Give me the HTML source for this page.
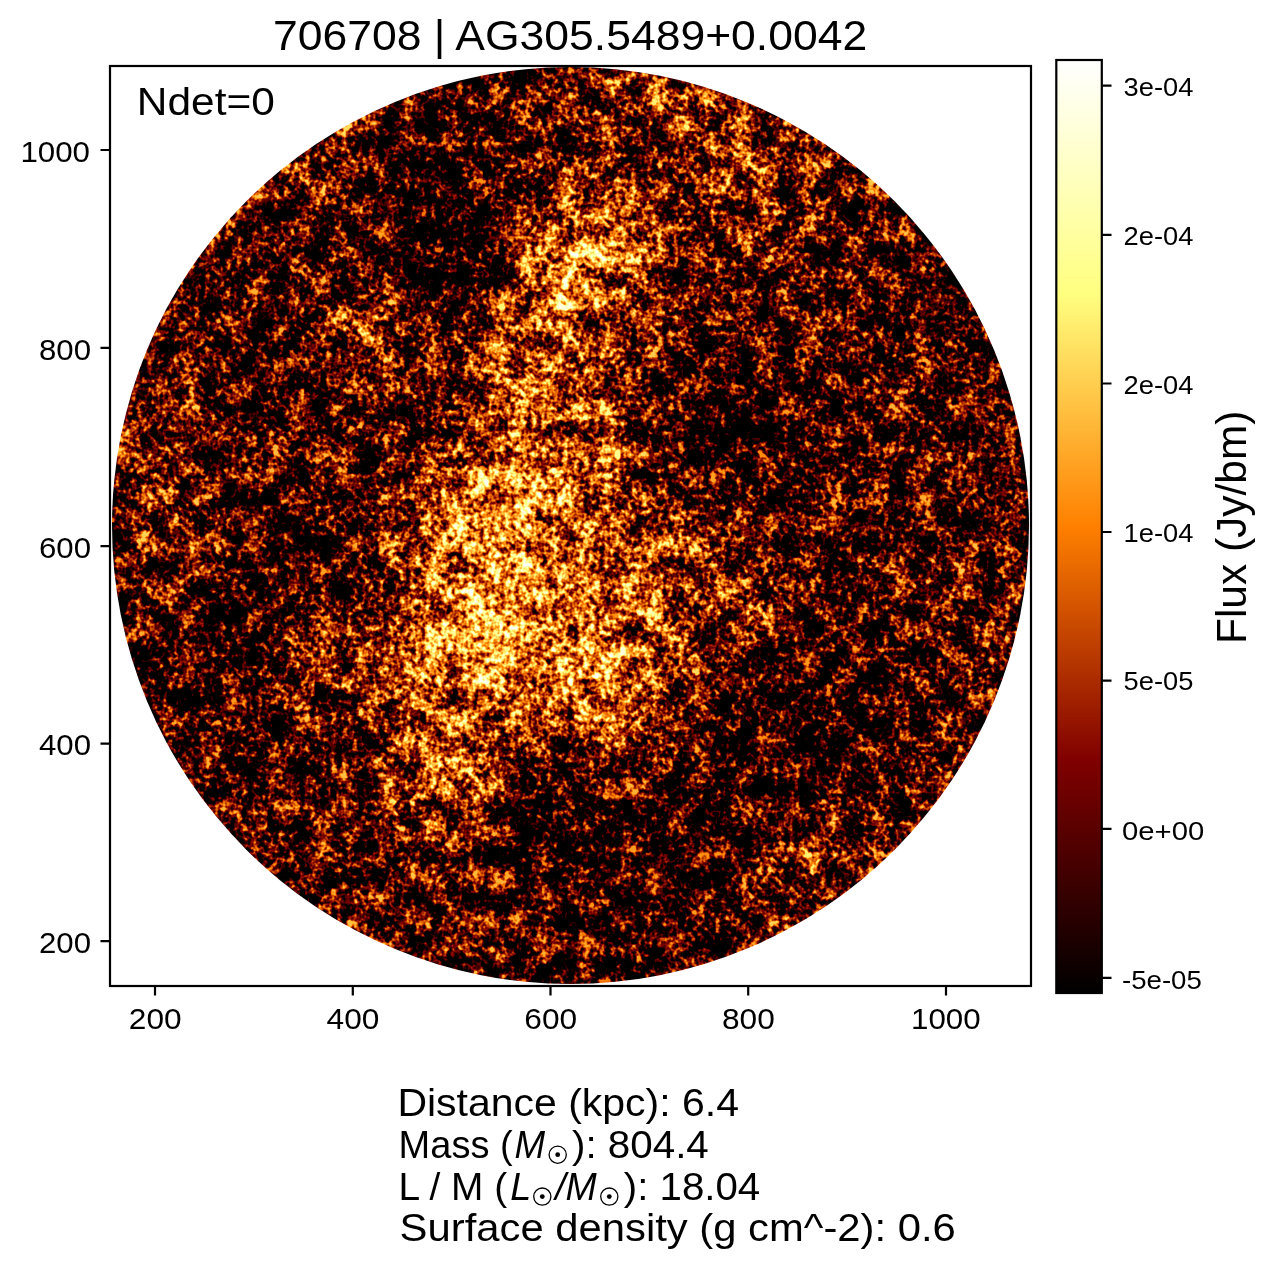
<!DOCTYPE html><html><head><meta charset="utf-8"><style>html,body{margin:0;padding:0;background:#fff;overflow:hidden}svg{display:block;will-change:transform}</style></head><body><svg width="1274" height="1267" viewBox="0 0 1274 1267" font-family='"Liberation Sans", sans-serif'><rect width="1274" height="1267" fill="#fff"/><defs><clipPath id="cc"><circle cx="570.5" cy="525.5" r="458.5"/></clipPath><linearGradient id="cb" x1="0" y1="1" x2="0" y2="0"><stop offset="0" stop-color="#000"/><stop offset="0.25" stop-color="#800000"/><stop offset="0.5" stop-color="#ff8000"/><stop offset="0.75" stop-color="#ffff80"/><stop offset="1" stop-color="#fff"/></linearGradient></defs><defs><filter id="imf" x="112" y="67" width="917" height="917" filterUnits="userSpaceOnUse" color-interpolation-filters="sRGB">
<feGaussianBlur in="SourceGraphic" stdDeviation="6.0" edgeMode="duplicate" result="b"/>
<feTurbulence type="fractalNoise" baseFrequency="0.19" numOctaves="2" seed="3" result="n1"/>
<feColorMatrix in="n1" type="matrix" values="1 0 0 0 0 1 0 0 0 0 1 0 0 0 0 0 0 0 0 1" result="n1g"/>
<feTurbulence type="fractalNoise" baseFrequency="0.045" numOctaves="2" seed="7" result="n2"/>
<feColorMatrix in="n2" type="matrix" values="1 0 0 0 0 1 0 0 0 0 1 0 0 0 0 0 0 0 0 1" result="n2g"/>
<feComposite in="n1g" in2="n2g" operator="arithmetic" k2="1.4" k3="1.2" k4="-0.8000" result="t"/>
<feComposite in="b" in2="t" operator="arithmetic" k2="1.2000" k3="1" k4="-0.8000" result="v"/>
<feComponentTransfer in="v"><feFuncR type="table" tableValues="0 1 1"/><feFuncG type="table" tableValues="0 0 0.5 1 1"/><feFuncB type="table" tableValues="0 0 1"/><feFuncA type="linear" slope="0" intercept="1"/></feComponentTransfer>
</filter></defs><g clip-path="url(#cc)"><g filter="url(#imf)"><path fill="rgb(55,55,55)" d="M441.5 224.6h14.7v14.7h-14.7z"/><path fill="rgb(56,56,56)" d="M427.2 210.3h14.7v14.7h-14.7zM441.5 210.3h14.7v14.7h-14.7zM427.2 224.6h14.7v14.7h-14.7zM441.5 238.9h14.7v14.7h-14.7zM455.9 238.9h14.7v14.7h-14.7zM455.9 253.3h14.7v14.7h-14.7z"/><path fill="rgb(57,57,57)" d="M427.2 196.0h14.7v14.7h-14.7zM441.5 196.0h14.7v14.7h-14.7zM455.9 224.6h14.7v14.7h-14.7zM441.5 253.3h14.7v14.7h-14.7z"/><path fill="rgb(58,58,58)" d="M455.9 210.3h14.7v14.7h-14.7zM427.2 238.9h14.7v14.7h-14.7z"/><path fill="rgb(59,59,59)" d="M427.2 181.6h14.7v14.7h-14.7zM441.5 181.6h14.7v14.7h-14.7zM455.9 267.6h14.7v14.7h-14.7z"/><path fill="rgb(60,60,60)" d="M455.9 196.0h14.7v14.7h-14.7zM412.9 210.3h14.7v14.7h-14.7zM412.9 224.6h14.7v14.7h-14.7zM470.2 238.9h14.7v14.7h-14.7zM427.2 253.3h14.7v14.7h-14.7zM470.2 253.3h14.7v14.7h-14.7zM441.5 267.6h14.7v14.7h-14.7zM713.8 410.9h14.7v14.7h-14.7zM713.8 425.2h14.7v14.7h-14.7zM541.8 797.7h14.7v14.7h-14.7z"/><path fill="rgb(61,61,61)" d="M427.2 167.3h14.7v14.7h-14.7zM412.9 196.0h14.7v14.7h-14.7zM412.9 238.9h14.7v14.7h-14.7zM713.8 396.5h14.7v14.7h-14.7zM728.1 425.2h14.7v14.7h-14.7zM541.8 812.1h14.7v14.7h-14.7z"/><path fill="rgb(62,62,62)" d="M441.5 167.3h14.7v14.7h-14.7zM455.9 181.6h14.7v14.7h-14.7zM470.2 224.6h14.7v14.7h-14.7zM427.2 267.6h14.7v14.7h-14.7zM699.5 410.9h14.7v14.7h-14.7zM728.1 410.9h14.7v14.7h-14.7zM799.8 726.1h14.7v14.7h-14.7zM541.8 783.4h14.7v14.7h-14.7z"/><path fill="rgb(63,63,63)" d="M427.2 153.0h14.7v14.7h-14.7zM412.9 181.6h14.7v14.7h-14.7zM470.2 210.3h14.7v14.7h-14.7zM412.9 253.3h14.7v14.7h-14.7zM699.5 396.5h14.7v14.7h-14.7zM728.1 396.5h14.7v14.7h-14.7zM699.5 425.2h14.7v14.7h-14.7zM799.8 711.8h14.7v14.7h-14.7zM814.1 711.8h14.7v14.7h-14.7zM814.1 726.1h14.7v14.7h-14.7zM556.2 797.7h14.7v14.7h-14.7zM556.2 812.1h14.7v14.7h-14.7zM541.8 826.4h14.7v14.7h-14.7z"/><path fill="rgb(64,64,64)" d="M412.9 167.3h14.7v14.7h-14.7zM470.2 267.6h14.7v14.7h-14.7zM713.8 382.2h14.7v14.7h-14.7zM742.4 425.2h14.7v14.7h-14.7zM713.8 439.5h14.7v14.7h-14.7zM728.1 439.5h14.7v14.7h-14.7zM785.4 711.8h14.7v14.7h-14.7zM785.4 726.1h14.7v14.7h-14.7zM799.8 740.4h14.7v14.7h-14.7zM814.1 740.4h14.7v14.7h-14.7zM527.5 797.7h14.7v14.7h-14.7zM527.5 812.1h14.7v14.7h-14.7z"/><path fill="rgb(65,65,65)" d="M441.5 153.0h14.7v14.7h-14.7zM455.9 167.3h14.7v14.7h-14.7zM470.2 196.0h14.7v14.7h-14.7zM441.5 281.9h14.7v14.7h-14.7zM699.5 382.2h14.7v14.7h-14.7zM742.4 410.9h14.7v14.7h-14.7zM828.4 711.8h14.7v14.7h-14.7zM828.4 726.1h14.7v14.7h-14.7zM785.4 740.4h14.7v14.7h-14.7zM556.2 783.4h14.7v14.7h-14.7zM527.5 826.4h14.7v14.7h-14.7zM556.2 826.4h14.7v14.7h-14.7z"/><path fill="rgb(66,66,66)" d="M412.9 153.0h14.7v14.7h-14.7zM398.6 224.6h14.7v14.7h-14.7zM398.6 238.9h14.7v14.7h-14.7zM412.9 267.6h14.7v14.7h-14.7zM427.2 281.9h14.7v14.7h-14.7zM728.1 382.2h14.7v14.7h-14.7zM699.5 439.5h14.7v14.7h-14.7zM742.4 439.5h14.7v14.7h-14.7zM799.8 697.4h14.7v14.7h-14.7zM814.1 697.4h14.7v14.7h-14.7zM771.1 711.8h14.7v14.7h-14.7zM771.1 726.1h14.7v14.7h-14.7zM771.1 740.4h14.7v14.7h-14.7zM541.8 840.7h14.7v14.7h-14.7z"/><path fill="rgb(67,67,67)" d="M427.2 138.6h14.7v14.7h-14.7zM398.6 253.3h14.7v14.7h-14.7zM455.9 281.9h14.7v14.7h-14.7zM756.8 425.2h14.7v14.7h-14.7zM226.6 625.8h14.7v14.7h-14.7zM226.6 640.1h14.7v14.7h-14.7zM785.4 697.4h14.7v14.7h-14.7zM828.4 697.4h14.7v14.7h-14.7zM828.4 740.4h14.7v14.7h-14.7zM785.4 754.8h14.7v14.7h-14.7zM799.8 754.8h14.7v14.7h-14.7zM527.5 783.4h14.7v14.7h-14.7z"/><path fill="rgb(68,68,68)" d="M470.2 181.6h14.7v14.7h-14.7zM398.6 210.3h14.7v14.7h-14.7zM713.8 367.9h14.7v14.7h-14.7zM685.1 396.5h14.7v14.7h-14.7zM742.4 396.5h14.7v14.7h-14.7zM685.1 410.9h14.7v14.7h-14.7zM756.8 439.5h14.7v14.7h-14.7zM212.3 625.8h14.7v14.7h-14.7zM212.3 640.1h14.7v14.7h-14.7zM771.1 697.4h14.7v14.7h-14.7zM756.8 726.1h14.7v14.7h-14.7zM756.8 740.4h14.7v14.7h-14.7zM771.1 754.8h14.7v14.7h-14.7zM814.1 754.8h14.7v14.7h-14.7zM541.8 769.1h14.7v14.7h-14.7zM570.5 797.7h14.7v14.7h-14.7zM570.5 812.1h14.7v14.7h-14.7zM527.5 840.7h14.7v14.7h-14.7zM556.2 840.7h14.7v14.7h-14.7z"/><path fill="rgb(69,69,69)" d="M441.5 138.6h14.7v14.7h-14.7zM455.9 153.0h14.7v14.7h-14.7zM398.6 196.0h14.7v14.7h-14.7zM699.5 367.9h14.7v14.7h-14.7zM756.8 410.9h14.7v14.7h-14.7zM685.1 425.2h14.7v14.7h-14.7zM713.8 453.9h14.7v14.7h-14.7zM728.1 453.9h14.7v14.7h-14.7zM212.3 654.5h14.7v14.7h-14.7zM226.6 654.5h14.7v14.7h-14.7zM799.8 683.1h14.7v14.7h-14.7zM814.1 683.1h14.7v14.7h-14.7zM756.8 711.8h14.7v14.7h-14.7zM842.7 711.8h14.7v14.7h-14.7zM842.7 726.1h14.7v14.7h-14.7zM756.8 754.8h14.7v14.7h-14.7zM570.5 826.4h14.7v14.7h-14.7z"/><path fill="rgb(70,70,70)" d="M412.9 138.6h14.7v14.7h-14.7zM728.1 367.9h14.7v14.7h-14.7zM685.1 382.2h14.7v14.7h-14.7zM742.4 453.9h14.7v14.7h-14.7zM226.6 611.5h14.7v14.7h-14.7zM241.0 625.8h14.7v14.7h-14.7zM241.0 640.1h14.7v14.7h-14.7zM785.4 683.1h14.7v14.7h-14.7zM742.4 726.1h14.7v14.7h-14.7zM742.4 740.4h14.7v14.7h-14.7zM742.4 754.8h14.7v14.7h-14.7zM828.4 754.8h14.7v14.7h-14.7zM570.5 840.7h14.7v14.7h-14.7z"/><path fill="rgb(71,71,71)" d="M470.2 167.3h14.7v14.7h-14.7zM398.6 181.6h14.7v14.7h-14.7zM384.2 238.9h14.7v14.7h-14.7zM384.2 253.3h14.7v14.7h-14.7zM398.6 267.6h14.7v14.7h-14.7zM412.9 281.9h14.7v14.7h-14.7zM742.4 382.2h14.7v14.7h-14.7zM771.1 425.2h14.7v14.7h-14.7zM771.1 439.5h14.7v14.7h-14.7zM212.3 611.5h14.7v14.7h-14.7zM241.0 611.5h14.7v14.7h-14.7zM198.0 625.8h14.7v14.7h-14.7zM198.0 640.1h14.7v14.7h-14.7zM771.1 683.1h14.7v14.7h-14.7zM828.4 683.1h14.7v14.7h-14.7zM756.8 697.4h14.7v14.7h-14.7zM842.7 697.4h14.7v14.7h-14.7zM742.4 711.8h14.7v14.7h-14.7zM842.7 740.4h14.7v14.7h-14.7zM742.4 769.1h14.7v14.7h-14.7zM756.8 769.1h14.7v14.7h-14.7zM771.1 769.1h14.7v14.7h-14.7zM570.5 783.4h14.7v14.7h-14.7zM699.5 812.1h14.7v14.7h-14.7zM713.8 812.1h14.7v14.7h-14.7zM513.2 826.4h14.7v14.7h-14.7zM699.5 826.4h14.7v14.7h-14.7zM713.8 826.4h14.7v14.7h-14.7zM699.5 840.7h14.7v14.7h-14.7zM541.8 855.0h14.7v14.7h-14.7zM556.2 855.0h14.7v14.7h-14.7zM570.5 855.0h14.7v14.7h-14.7z"/><path fill="rgb(72,72,72)" d="M455.9 138.6h14.7v14.7h-14.7zM398.6 167.3h14.7v14.7h-14.7zM484.5 238.9h14.7v14.7h-14.7zM427.2 296.2h14.7v14.7h-14.7zM756.8 396.5h14.7v14.7h-14.7zM685.1 439.5h14.7v14.7h-14.7zM699.5 453.9h14.7v14.7h-14.7zM756.8 453.9h14.7v14.7h-14.7zM198.0 654.5h14.7v14.7h-14.7zM241.0 654.5h14.7v14.7h-14.7zM212.3 668.8h14.7v14.7h-14.7zM226.6 668.8h14.7v14.7h-14.7zM728.1 740.4h14.7v14.7h-14.7zM728.1 754.8h14.7v14.7h-14.7zM527.5 769.1h14.7v14.7h-14.7zM556.2 769.1h14.7v14.7h-14.7zM728.1 769.1h14.7v14.7h-14.7zM785.4 769.1h14.7v14.7h-14.7zM799.8 769.1h14.7v14.7h-14.7zM728.1 783.4h14.7v14.7h-14.7zM713.8 797.7h14.7v14.7h-14.7zM513.2 812.1h14.7v14.7h-14.7zM584.8 812.1h14.7v14.7h-14.7zM584.8 826.4h14.7v14.7h-14.7zM685.1 826.4h14.7v14.7h-14.7zM513.2 840.7h14.7v14.7h-14.7zM584.8 840.7h14.7v14.7h-14.7zM685.1 840.7h14.7v14.7h-14.7zM713.8 840.7h14.7v14.7h-14.7zM527.5 855.0h14.7v14.7h-14.7zM584.8 855.0h14.7v14.7h-14.7zM685.1 855.0h14.7v14.7h-14.7zM699.5 855.0h14.7v14.7h-14.7zM584.8 869.4h14.7v14.7h-14.7z"/><path fill="rgb(73,73,73)" d="M427.2 124.3h14.7v14.7h-14.7zM441.5 124.3h14.7v14.7h-14.7zM398.6 153.0h14.7v14.7h-14.7zM484.5 210.3h14.7v14.7h-14.7zM484.5 224.6h14.7v14.7h-14.7zM484.5 253.3h14.7v14.7h-14.7zM1000.3 267.6h14.7v14.7h-14.7zM1014.7 267.6h14.7v14.7h-14.7zM470.2 281.9h14.7v14.7h-14.7zM441.5 296.2h14.7v14.7h-14.7zM713.8 353.6h14.7v14.7h-14.7zM685.1 367.9h14.7v14.7h-14.7zM771.1 410.9h14.7v14.7h-14.7zM226.6 597.1h14.7v14.7h-14.7zM799.8 668.8h14.7v14.7h-14.7zM814.1 668.8h14.7v14.7h-14.7zM756.8 683.1h14.7v14.7h-14.7zM842.7 683.1h14.7v14.7h-14.7zM742.4 697.4h14.7v14.7h-14.7zM728.1 726.1h14.7v14.7h-14.7zM842.7 754.8h14.7v14.7h-14.7zM713.8 783.4h14.7v14.7h-14.7zM742.4 783.4h14.7v14.7h-14.7zM584.8 797.7h14.7v14.7h-14.7zM699.5 797.7h14.7v14.7h-14.7zM728.1 797.7h14.7v14.7h-14.7zM685.1 812.1h14.7v14.7h-14.7zM728.1 812.1h14.7v14.7h-14.7zM670.8 840.7h14.7v14.7h-14.7zM570.5 869.4h14.7v14.7h-14.7zM599.2 869.4h14.7v14.7h-14.7zM685.1 869.4h14.7v14.7h-14.7zM699.5 869.4h14.7v14.7h-14.7zM584.8 883.7h14.7v14.7h-14.7zM599.2 883.7h14.7v14.7h-14.7z"/><path fill="rgb(74,74,74)" d="M470.2 153.0h14.7v14.7h-14.7zM484.5 196.0h14.7v14.7h-14.7zM384.2 224.6h14.7v14.7h-14.7zM1000.3 253.3h14.7v14.7h-14.7zM1014.7 253.3h14.7v14.7h-14.7zM986.0 267.6h14.7v14.7h-14.7zM699.5 353.6h14.7v14.7h-14.7zM742.4 367.9h14.7v14.7h-14.7zM785.4 425.2h14.7v14.7h-14.7zM771.1 453.9h14.7v14.7h-14.7zM241.0 597.1h14.7v14.7h-14.7zM183.6 640.1h14.7v14.7h-14.7zM183.6 654.5h14.7v14.7h-14.7zM198.0 668.8h14.7v14.7h-14.7zM785.4 668.8h14.7v14.7h-14.7zM828.4 668.8h14.7v14.7h-14.7zM212.3 683.1h14.7v14.7h-14.7zM226.6 683.1h14.7v14.7h-14.7zM857.1 697.4h14.7v14.7h-14.7zM728.1 711.8h14.7v14.7h-14.7zM857.1 711.8h14.7v14.7h-14.7zM857.1 726.1h14.7v14.7h-14.7zM713.8 754.8h14.7v14.7h-14.7zM713.8 769.1h14.7v14.7h-14.7zM814.1 769.1h14.7v14.7h-14.7zM756.8 783.4h14.7v14.7h-14.7zM670.8 826.4h14.7v14.7h-14.7zM599.2 840.7h14.7v14.7h-14.7zM599.2 855.0h14.7v14.7h-14.7zM670.8 855.0h14.7v14.7h-14.7zM713.8 855.0h14.7v14.7h-14.7zM556.2 869.4h14.7v14.7h-14.7zM613.5 869.4h14.7v14.7h-14.7zM570.5 883.7h14.7v14.7h-14.7zM613.5 883.7h14.7v14.7h-14.7zM584.8 898.0h14.7v14.7h-14.7zM599.2 898.0h14.7v14.7h-14.7zM613.5 898.0h14.7v14.7h-14.7z"/><path fill="rgb(75,75,75)" d="M412.9 124.3h14.7v14.7h-14.7zM484.5 181.6h14.7v14.7h-14.7zM986.0 253.3h14.7v14.7h-14.7zM728.1 353.6h14.7v14.7h-14.7zM756.8 382.2h14.7v14.7h-14.7zM771.1 396.5h14.7v14.7h-14.7zM785.4 439.5h14.7v14.7h-14.7zM298.3 539.8h14.7v14.7h-14.7zM312.6 539.8h14.7v14.7h-14.7zM312.6 554.2h14.7v14.7h-14.7zM198.0 611.5h14.7v14.7h-14.7zM183.6 625.8h14.7v14.7h-14.7zM241.0 668.8h14.7v14.7h-14.7zM771.1 668.8h14.7v14.7h-14.7zM842.7 668.8h14.7v14.7h-14.7zM857.1 683.1h14.7v14.7h-14.7zM713.8 740.4h14.7v14.7h-14.7zM857.1 740.4h14.7v14.7h-14.7zM828.4 769.1h14.7v14.7h-14.7zM699.5 783.4h14.7v14.7h-14.7zM513.2 797.7h14.7v14.7h-14.7zM742.4 797.7h14.7v14.7h-14.7zM599.2 812.1h14.7v14.7h-14.7zM599.2 826.4h14.7v14.7h-14.7zM728.1 826.4h14.7v14.7h-14.7zM613.5 840.7h14.7v14.7h-14.7zM656.5 840.7h14.7v14.7h-14.7zM513.2 855.0h14.7v14.7h-14.7zM613.5 855.0h14.7v14.7h-14.7zM541.8 869.4h14.7v14.7h-14.7zM670.8 869.4h14.7v14.7h-14.7zM685.1 883.7h14.7v14.7h-14.7zM699.5 883.7h14.7v14.7h-14.7zM613.5 912.4h14.7v14.7h-14.7z"/><path fill="rgb(76,76,76)" d="M455.9 124.3h14.7v14.7h-14.7zM369.9 253.3h14.7v14.7h-14.7zM384.2 267.6h14.7v14.7h-14.7zM1000.3 281.9h14.7v14.7h-14.7zM1014.7 281.9h14.7v14.7h-14.7zM670.8 396.5h14.7v14.7h-14.7zM670.8 410.9h14.7v14.7h-14.7zM785.4 410.9h14.7v14.7h-14.7zM728.1 468.2h14.7v14.7h-14.7zM742.4 468.2h14.7v14.7h-14.7zM756.8 468.2h14.7v14.7h-14.7zM269.6 539.8h14.7v14.7h-14.7zM283.9 539.8h14.7v14.7h-14.7zM326.9 539.8h14.7v14.7h-14.7zM255.3 554.2h14.7v14.7h-14.7zM269.6 554.2h14.7v14.7h-14.7zM283.9 554.2h14.7v14.7h-14.7zM298.3 554.2h14.7v14.7h-14.7zM326.9 554.2h14.7v14.7h-14.7zM255.3 568.5h14.7v14.7h-14.7zM241.0 582.8h14.7v14.7h-14.7zM212.3 597.1h14.7v14.7h-14.7zM169.3 654.5h14.7v14.7h-14.7zM799.8 654.5h14.7v14.7h-14.7zM814.1 654.5h14.7v14.7h-14.7zM828.4 654.5h14.7v14.7h-14.7zM842.7 654.5h14.7v14.7h-14.7zM183.6 668.8h14.7v14.7h-14.7zM857.1 668.8h14.7v14.7h-14.7zM198.0 683.1h14.7v14.7h-14.7zM742.4 683.1h14.7v14.7h-14.7zM713.8 726.1h14.7v14.7h-14.7zM699.5 769.1h14.7v14.7h-14.7zM771.1 783.4h14.7v14.7h-14.7zM685.1 797.7h14.7v14.7h-14.7zM670.8 812.1h14.7v14.7h-14.7zM613.5 826.4h14.7v14.7h-14.7zM656.5 826.4h14.7v14.7h-14.7zM627.8 840.7h14.7v14.7h-14.7zM642.1 840.7h14.7v14.7h-14.7zM627.8 855.0h14.7v14.7h-14.7zM642.1 855.0h14.7v14.7h-14.7zM656.5 855.0h14.7v14.7h-14.7zM627.8 869.4h14.7v14.7h-14.7zM656.5 869.4h14.7v14.7h-14.7zM713.8 869.4h14.7v14.7h-14.7zM556.2 883.7h14.7v14.7h-14.7zM627.8 883.7h14.7v14.7h-14.7zM670.8 883.7h14.7v14.7h-14.7zM570.5 898.0h14.7v14.7h-14.7zM627.8 898.0h14.7v14.7h-14.7zM685.1 898.0h14.7v14.7h-14.7zM599.2 912.4h14.7v14.7h-14.7zM627.8 912.4h14.7v14.7h-14.7zM627.8 926.7h14.7v14.7h-14.7zM642.1 926.7h14.7v14.7h-14.7zM656.5 926.7h14.7v14.7h-14.7zM642.1 941.0h14.7v14.7h-14.7zM656.5 941.0h14.7v14.7h-14.7zM642.1 955.3h14.7v14.7h-14.7zM656.5 955.3h14.7v14.7h-14.7z"/><path fill="rgb(77,77,77)" d="M398.6 138.6h14.7v14.7h-14.7zM470.2 138.6h14.7v14.7h-14.7zM484.5 167.3h14.7v14.7h-14.7zM384.2 210.3h14.7v14.7h-14.7zM369.9 238.9h14.7v14.7h-14.7zM484.5 267.6h14.7v14.7h-14.7zM971.7 267.6h14.7v14.7h-14.7zM986.0 281.9h14.7v14.7h-14.7zM412.9 296.2h14.7v14.7h-14.7zM670.8 382.2h14.7v14.7h-14.7zM670.8 425.2h14.7v14.7h-14.7zM685.1 453.9h14.7v14.7h-14.7zM785.4 453.9h14.7v14.7h-14.7zM713.8 468.2h14.7v14.7h-14.7zM255.3 539.8h14.7v14.7h-14.7zM241.0 568.5h14.7v14.7h-14.7zM269.6 568.5h14.7v14.7h-14.7zM255.3 582.8h14.7v14.7h-14.7zM255.3 597.1h14.7v14.7h-14.7zM255.3 611.5h14.7v14.7h-14.7zM255.3 625.8h14.7v14.7h-14.7zM828.4 625.8h14.7v14.7h-14.7zM169.3 640.1h14.7v14.7h-14.7zM828.4 640.1h14.7v14.7h-14.7zM842.7 640.1h14.7v14.7h-14.7zM155.0 654.5h14.7v14.7h-14.7zM857.1 654.5h14.7v14.7h-14.7zM169.3 668.8h14.7v14.7h-14.7zM756.8 668.8h14.7v14.7h-14.7zM183.6 683.1h14.7v14.7h-14.7zM241.0 683.1h14.7v14.7h-14.7zM212.3 697.4h14.7v14.7h-14.7zM226.6 697.4h14.7v14.7h-14.7zM728.1 697.4h14.7v14.7h-14.7zM857.1 754.8h14.7v14.7h-14.7zM842.7 769.1h14.7v14.7h-14.7zM584.8 783.4h14.7v14.7h-14.7zM599.2 797.7h14.7v14.7h-14.7zM613.5 812.1h14.7v14.7h-14.7zM742.4 812.1h14.7v14.7h-14.7zM627.8 826.4h14.7v14.7h-14.7zM642.1 826.4h14.7v14.7h-14.7zM728.1 840.7h14.7v14.7h-14.7zM527.5 869.4h14.7v14.7h-14.7zM642.1 869.4h14.7v14.7h-14.7zM642.1 883.7h14.7v14.7h-14.7zM656.5 883.7h14.7v14.7h-14.7zM642.1 898.0h14.7v14.7h-14.7zM656.5 898.0h14.7v14.7h-14.7zM670.8 898.0h14.7v14.7h-14.7zM699.5 898.0h14.7v14.7h-14.7zM584.8 912.4h14.7v14.7h-14.7zM642.1 912.4h14.7v14.7h-14.7zM656.5 912.4h14.7v14.7h-14.7zM670.8 912.4h14.7v14.7h-14.7zM685.1 912.4h14.7v14.7h-14.7zM613.5 926.7h14.7v14.7h-14.7zM670.8 926.7h14.7v14.7h-14.7zM627.8 941.0h14.7v14.7h-14.7zM627.8 955.3h14.7v14.7h-14.7zM642.1 969.7h14.7v14.7h-14.7zM656.5 969.7h14.7v14.7h-14.7z"/><path fill="rgb(78,78,78)" d="M441.5 110.0h14.7v14.7h-14.7zM1000.3 238.9h14.7v14.7h-14.7zM1014.7 238.9h14.7v14.7h-14.7zM971.7 253.3h14.7v14.7h-14.7zM398.6 281.9h14.7v14.7h-14.7zM971.7 281.9h14.7v14.7h-14.7zM455.9 296.2h14.7v14.7h-14.7zM685.1 353.6h14.7v14.7h-14.7zM742.4 353.6h14.7v14.7h-14.7zM785.4 396.5h14.7v14.7h-14.7zM799.8 425.2h14.7v14.7h-14.7zM799.8 439.5h14.7v14.7h-14.7zM771.1 468.2h14.7v14.7h-14.7zM298.3 525.5h14.7v14.7h-14.7zM312.6 525.5h14.7v14.7h-14.7zM226.6 582.8h14.7v14.7h-14.7zM828.4 611.5h14.7v14.7h-14.7zM842.7 611.5h14.7v14.7h-14.7zM169.3 625.8h14.7v14.7h-14.7zM842.7 625.8h14.7v14.7h-14.7zM155.0 640.1h14.7v14.7h-14.7zM255.3 640.1h14.7v14.7h-14.7zM814.1 640.1h14.7v14.7h-14.7zM857.1 640.1h14.7v14.7h-14.7zM126.3 654.5h14.7v14.7h-14.7zM140.7 654.5h14.7v14.7h-14.7zM785.4 654.5h14.7v14.7h-14.7zM126.3 668.8h14.7v14.7h-14.7zM140.7 668.8h14.7v14.7h-14.7zM155.0 668.8h14.7v14.7h-14.7zM871.4 668.8h14.7v14.7h-14.7zM871.4 683.1h14.7v14.7h-14.7zM198.0 697.4h14.7v14.7h-14.7zM241.0 697.4h14.7v14.7h-14.7zM713.8 711.8h14.7v14.7h-14.7zM699.5 754.8h14.7v14.7h-14.7zM685.1 783.4h14.7v14.7h-14.7zM785.4 783.4h14.7v14.7h-14.7zM756.8 797.7h14.7v14.7h-14.7zM656.5 812.1h14.7v14.7h-14.7zM498.9 840.7h14.7v14.7h-14.7zM713.8 883.7h14.7v14.7h-14.7zM599.2 926.7h14.7v14.7h-14.7zM613.5 941.0h14.7v14.7h-14.7zM670.8 941.0h14.7v14.7h-14.7zM627.8 969.7h14.7v14.7h-14.7z"/><path fill="rgb(79,79,79)" d="M427.2 110.0h14.7v14.7h-14.7zM484.5 153.0h14.7v14.7h-14.7zM384.2 196.0h14.7v14.7h-14.7zM986.0 238.9h14.7v14.7h-14.7zM713.8 339.2h14.7v14.7h-14.7zM241.0 367.9h14.7v14.7h-14.7zM255.3 367.9h14.7v14.7h-14.7zM670.8 367.9h14.7v14.7h-14.7zM756.8 367.9h14.7v14.7h-14.7zM771.1 382.2h14.7v14.7h-14.7zM799.8 410.9h14.7v14.7h-14.7zM670.8 439.5h14.7v14.7h-14.7zM799.8 453.9h14.7v14.7h-14.7zM699.5 468.2h14.7v14.7h-14.7zM785.4 468.2h14.7v14.7h-14.7zM255.3 525.5h14.7v14.7h-14.7zM269.6 525.5h14.7v14.7h-14.7zM283.9 525.5h14.7v14.7h-14.7zM326.9 525.5h14.7v14.7h-14.7zM241.0 554.2h14.7v14.7h-14.7zM341.2 554.2h14.7v14.7h-14.7zM283.9 568.5h14.7v14.7h-14.7zM298.3 568.5h14.7v14.7h-14.7zM312.6 568.5h14.7v14.7h-14.7zM326.9 568.5h14.7v14.7h-14.7zM183.6 611.5h14.7v14.7h-14.7zM814.1 625.8h14.7v14.7h-14.7zM857.1 625.8h14.7v14.7h-14.7zM140.7 640.1h14.7v14.7h-14.7zM871.4 640.1h14.7v14.7h-14.7zM112.0 654.5h14.7v14.7h-14.7zM871.4 654.5h14.7v14.7h-14.7zM112.0 668.8h14.7v14.7h-14.7zM155.0 683.1h14.7v14.7h-14.7zM169.3 683.1h14.7v14.7h-14.7zM728.1 683.1h14.7v14.7h-14.7zM183.6 697.4h14.7v14.7h-14.7zM871.4 697.4h14.7v14.7h-14.7zM212.3 711.8h14.7v14.7h-14.7zM226.6 711.8h14.7v14.7h-14.7zM871.4 711.8h14.7v14.7h-14.7zM699.5 740.4h14.7v14.7h-14.7zM541.8 754.8h14.7v14.7h-14.7zM570.5 769.1h14.7v14.7h-14.7zM513.2 783.4h14.7v14.7h-14.7zM670.8 797.7h14.7v14.7h-14.7zM627.8 812.1h14.7v14.7h-14.7zM642.1 812.1h14.7v14.7h-14.7zM498.9 826.4h14.7v14.7h-14.7zM513.2 869.4h14.7v14.7h-14.7zM541.8 883.7h14.7v14.7h-14.7zM556.2 898.0h14.7v14.7h-14.7zM570.5 912.4h14.7v14.7h-14.7zM699.5 912.4h14.7v14.7h-14.7zM584.8 926.7h14.7v14.7h-14.7zM685.1 926.7h14.7v14.7h-14.7zM670.8 955.3h14.7v14.7h-14.7zM670.8 969.7h14.7v14.7h-14.7z"/><path fill="rgb(80,80,80)" d="M455.9 110.0h14.7v14.7h-14.7zM470.2 124.3h14.7v14.7h-14.7zM384.2 181.6h14.7v14.7h-14.7zM355.6 253.3h14.7v14.7h-14.7zM957.4 267.6h14.7v14.7h-14.7zM957.4 281.9h14.7v14.7h-14.7zM986.0 296.2h14.7v14.7h-14.7zM427.2 310.6h14.7v14.7h-14.7zM699.5 339.2h14.7v14.7h-14.7zM728.1 339.2h14.7v14.7h-14.7zM241.0 353.6h14.7v14.7h-14.7zM255.3 353.6h14.7v14.7h-14.7zM241.0 382.2h14.7v14.7h-14.7zM255.3 382.2h14.7v14.7h-14.7zM799.8 396.5h14.7v14.7h-14.7zM241.0 539.8h14.7v14.7h-14.7zM341.2 539.8h14.7v14.7h-14.7zM269.6 582.8h14.7v14.7h-14.7zM828.4 597.1h14.7v14.7h-14.7zM842.7 597.1h14.7v14.7h-14.7zM814.1 611.5h14.7v14.7h-14.7zM857.1 611.5h14.7v14.7h-14.7zM155.0 625.8h14.7v14.7h-14.7zM871.4 625.8h14.7v14.7h-14.7zM126.3 640.1h14.7v14.7h-14.7zM799.8 640.1h14.7v14.7h-14.7zM255.3 654.5h14.7v14.7h-14.7zM742.4 668.8h14.7v14.7h-14.7zM126.3 683.1h14.7v14.7h-14.7zM140.7 683.1h14.7v14.7h-14.7zM198.0 711.8h14.7v14.7h-14.7zM241.0 711.8h14.7v14.7h-14.7zM226.6 726.1h14.7v14.7h-14.7zM871.4 726.1h14.7v14.7h-14.7zM871.4 740.4h14.7v14.7h-14.7zM685.1 769.1h14.7v14.7h-14.7zM857.1 769.1h14.7v14.7h-14.7zM799.8 783.4h14.7v14.7h-14.7zM613.5 797.7h14.7v14.7h-14.7zM742.4 826.4h14.7v14.7h-14.7zM498.9 855.0h14.7v14.7h-14.7zM728.1 855.0h14.7v14.7h-14.7zM713.8 898.0h14.7v14.7h-14.7zM599.2 941.0h14.7v14.7h-14.7zM685.1 941.0h14.7v14.7h-14.7zM613.5 955.3h14.7v14.7h-14.7z"/><path fill="rgb(81,81,81)" d="M484.5 138.6h14.7v14.7h-14.7zM384.2 167.3h14.7v14.7h-14.7zM369.9 224.6h14.7v14.7h-14.7zM355.6 238.9h14.7v14.7h-14.7zM971.7 238.9h14.7v14.7h-14.7zM957.4 253.3h14.7v14.7h-14.7zM369.9 267.6h14.7v14.7h-14.7zM957.4 296.2h14.7v14.7h-14.7zM971.7 296.2h14.7v14.7h-14.7zM1000.3 296.2h14.7v14.7h-14.7zM1014.7 296.2h14.7v14.7h-14.7zM914.4 310.6h14.7v14.7h-14.7zM928.7 310.6h14.7v14.7h-14.7zM914.4 324.9h14.7v14.7h-14.7zM928.7 324.9h14.7v14.7h-14.7zM241.0 339.2h14.7v14.7h-14.7zM255.3 339.2h14.7v14.7h-14.7zM269.6 353.6h14.7v14.7h-14.7zM269.6 367.9h14.7v14.7h-14.7zM269.6 382.2h14.7v14.7h-14.7zM785.4 382.2h14.7v14.7h-14.7zM814.1 410.9h14.7v14.7h-14.7zM814.1 425.2h14.7v14.7h-14.7zM814.1 439.5h14.7v14.7h-14.7zM799.8 468.2h14.7v14.7h-14.7zM742.4 482.5h14.7v14.7h-14.7zM756.8 482.5h14.7v14.7h-14.7zM771.1 482.5h14.7v14.7h-14.7zM871.4 482.5h14.7v14.7h-14.7zM885.7 482.5h14.7v14.7h-14.7zM341.2 568.5h14.7v14.7h-14.7zM198.0 597.1h14.7v14.7h-14.7zM112.0 640.1h14.7v14.7h-14.7zM771.1 654.5h14.7v14.7h-14.7zM885.7 654.5h14.7v14.7h-14.7zM885.7 668.8h14.7v14.7h-14.7zM112.0 683.1h14.7v14.7h-14.7zM885.7 683.1h14.7v14.7h-14.7zM169.3 697.4h14.7v14.7h-14.7zM713.8 697.4h14.7v14.7h-14.7zM183.6 711.8h14.7v14.7h-14.7zM212.3 726.1h14.7v14.7h-14.7zM241.0 726.1h14.7v14.7h-14.7zM699.5 726.1h14.7v14.7h-14.7zM871.4 754.8h14.7v14.7h-14.7zM599.2 783.4h14.7v14.7h-14.7zM814.1 783.4h14.7v14.7h-14.7zM627.8 797.7h14.7v14.7h-14.7zM656.5 797.7h14.7v14.7h-14.7zM771.1 797.7h14.7v14.7h-14.7zM527.5 883.7h14.7v14.7h-14.7zM541.8 898.0h14.7v14.7h-14.7zM556.2 912.4h14.7v14.7h-14.7zM570.5 926.7h14.7v14.7h-14.7zM699.5 926.7h14.7v14.7h-14.7zM685.1 955.3h14.7v14.7h-14.7zM613.5 969.7h14.7v14.7h-14.7z"/><path fill="rgb(82,82,82)" d="M412.9 110.0h14.7v14.7h-14.7zM470.2 110.0h14.7v14.7h-14.7zM398.6 124.3h14.7v14.7h-14.7zM384.2 153.0h14.7v14.7h-14.7zM943.0 281.9h14.7v14.7h-14.7zM914.4 296.2h14.7v14.7h-14.7zM928.7 296.2h14.7v14.7h-14.7zM943.0 296.2h14.7v14.7h-14.7zM900.0 310.6h14.7v14.7h-14.7zM943.0 310.6h14.7v14.7h-14.7zM957.4 310.6h14.7v14.7h-14.7zM241.0 324.9h14.7v14.7h-14.7zM255.3 324.9h14.7v14.7h-14.7zM900.0 324.9h14.7v14.7h-14.7zM943.0 324.9h14.7v14.7h-14.7zM685.1 339.2h14.7v14.7h-14.7zM742.4 339.2h14.7v14.7h-14.7zM900.0 339.2h14.7v14.7h-14.7zM914.4 339.2h14.7v14.7h-14.7zM928.7 339.2h14.7v14.7h-14.7zM226.6 353.6h14.7v14.7h-14.7zM756.8 353.6h14.7v14.7h-14.7zM226.6 367.9h14.7v14.7h-14.7zM771.1 367.9h14.7v14.7h-14.7zM255.3 396.5h14.7v14.7h-14.7zM814.1 396.5h14.7v14.7h-14.7zM814.1 453.9h14.7v14.7h-14.7zM871.4 468.2h14.7v14.7h-14.7zM885.7 468.2h14.7v14.7h-14.7zM785.4 482.5h14.7v14.7h-14.7zM857.1 482.5h14.7v14.7h-14.7zM900.0 482.5h14.7v14.7h-14.7zM871.4 496.8h14.7v14.7h-14.7zM885.7 496.8h14.7v14.7h-14.7zM255.3 511.2h14.7v14.7h-14.7zM269.6 511.2h14.7v14.7h-14.7zM283.9 511.2h14.7v14.7h-14.7zM298.3 511.2h14.7v14.7h-14.7zM312.6 511.2h14.7v14.7h-14.7zM241.0 525.5h14.7v14.7h-14.7zM341.2 525.5h14.7v14.7h-14.7zM226.6 568.5h14.7v14.7h-14.7zM269.6 597.1h14.7v14.7h-14.7zM814.1 597.1h14.7v14.7h-14.7zM857.1 597.1h14.7v14.7h-14.7zM169.3 611.5h14.7v14.7h-14.7zM871.4 611.5h14.7v14.7h-14.7zM140.7 625.8h14.7v14.7h-14.7zM799.8 625.8h14.7v14.7h-14.7zM885.7 640.1h14.7v14.7h-14.7zM255.3 668.8h14.7v14.7h-14.7zM255.3 683.1h14.7v14.7h-14.7zM140.7 697.4h14.7v14.7h-14.7zM155.0 697.4h14.7v14.7h-14.7zM255.3 697.4h14.7v14.7h-14.7zM885.7 697.4h14.7v14.7h-14.7zM255.3 711.8h14.7v14.7h-14.7zM198.0 726.1h14.7v14.7h-14.7zM255.3 726.1h14.7v14.7h-14.7zM226.6 740.4h14.7v14.7h-14.7zM241.0 740.4h14.7v14.7h-14.7zM871.4 769.1h14.7v14.7h-14.7zM670.8 783.4h14.7v14.7h-14.7zM828.4 783.4h14.7v14.7h-14.7zM642.1 797.7h14.7v14.7h-14.7zM756.8 812.1h14.7v14.7h-14.7zM713.8 912.4h14.7v14.7h-14.7zM584.8 941.0h14.7v14.7h-14.7zM599.2 955.3h14.7v14.7h-14.7zM685.1 969.7h14.7v14.7h-14.7z"/><path fill="rgb(83,83,83)" d="M441.5 95.7h14.7v14.7h-14.7zM484.5 124.3h14.7v14.7h-14.7zM498.9 167.3h14.7v14.7h-14.7zM498.9 181.6h14.7v14.7h-14.7zM1000.3 224.6h14.7v14.7h-14.7zM1014.7 224.6h14.7v14.7h-14.7zM341.2 253.3h14.7v14.7h-14.7zM255.3 267.6h14.7v14.7h-14.7zM269.6 267.6h14.7v14.7h-14.7zM943.0 267.6h14.7v14.7h-14.7zM241.0 281.9h14.7v14.7h-14.7zM255.3 281.9h14.7v14.7h-14.7zM269.6 281.9h14.7v14.7h-14.7zM914.4 281.9h14.7v14.7h-14.7zM928.7 281.9h14.7v14.7h-14.7zM241.0 296.2h14.7v14.7h-14.7zM255.3 296.2h14.7v14.7h-14.7zM900.0 296.2h14.7v14.7h-14.7zM241.0 310.6h14.7v14.7h-14.7zM255.3 310.6h14.7v14.7h-14.7zM441.5 310.6h14.7v14.7h-14.7zM885.7 310.6h14.7v14.7h-14.7zM971.7 310.6h14.7v14.7h-14.7zM885.7 324.9h14.7v14.7h-14.7zM957.4 324.9h14.7v14.7h-14.7zM226.6 339.2h14.7v14.7h-14.7zM269.6 339.2h14.7v14.7h-14.7zM885.7 339.2h14.7v14.7h-14.7zM943.0 339.2h14.7v14.7h-14.7zM670.8 353.6h14.7v14.7h-14.7zM900.0 353.6h14.7v14.7h-14.7zM914.4 353.6h14.7v14.7h-14.7zM928.7 353.6h14.7v14.7h-14.7zM283.9 367.9h14.7v14.7h-14.7zM226.6 382.2h14.7v14.7h-14.7zM799.8 382.2h14.7v14.7h-14.7zM241.0 396.5h14.7v14.7h-14.7zM269.6 396.5h14.7v14.7h-14.7zM828.4 410.9h14.7v14.7h-14.7zM828.4 425.2h14.7v14.7h-14.7zM828.4 439.5h14.7v14.7h-14.7zM670.8 453.9h14.7v14.7h-14.7zM828.4 453.9h14.7v14.7h-14.7zM814.1 468.2h14.7v14.7h-14.7zM857.1 468.2h14.7v14.7h-14.7zM728.1 482.5h14.7v14.7h-14.7zM857.1 496.8h14.7v14.7h-14.7zM900.0 496.8h14.7v14.7h-14.7zM326.9 511.2h14.7v14.7h-14.7zM212.3 582.8h14.7v14.7h-14.7zM283.9 582.8h14.7v14.7h-14.7zM828.4 582.8h14.7v14.7h-14.7zM842.7 582.8h14.7v14.7h-14.7zM155.0 611.5h14.7v14.7h-14.7zM126.3 625.8h14.7v14.7h-14.7zM885.7 625.8h14.7v14.7h-14.7zM728.1 668.8h14.7v14.7h-14.7zM900.0 668.8h14.7v14.7h-14.7zM126.3 697.4h14.7v14.7h-14.7zM169.3 711.8h14.7v14.7h-14.7zM885.7 711.8h14.7v14.7h-14.7zM183.6 726.1h14.7v14.7h-14.7zM198.0 740.4h14.7v14.7h-14.7zM212.3 740.4h14.7v14.7h-14.7zM255.3 740.4h14.7v14.7h-14.7zM527.5 754.8h14.7v14.7h-14.7zM685.1 754.8h14.7v14.7h-14.7zM842.7 783.4h14.7v14.7h-14.7zM857.1 783.4h14.7v14.7h-14.7zM498.9 812.1h14.7v14.7h-14.7zM742.4 840.7h14.7v14.7h-14.7zM498.9 869.4h14.7v14.7h-14.7zM728.1 869.4h14.7v14.7h-14.7zM513.2 883.7h14.7v14.7h-14.7zM541.8 912.4h14.7v14.7h-14.7zM556.2 926.7h14.7v14.7h-14.7zM570.5 941.0h14.7v14.7h-14.7zM699.5 941.0h14.7v14.7h-14.7zM599.2 969.7h14.7v14.7h-14.7z"/><path fill="rgb(84,84,84)" d="M427.2 95.7h14.7v14.7h-14.7zM455.9 95.7h14.7v14.7h-14.7zM384.2 138.6h14.7v14.7h-14.7zM498.9 138.6h14.7v14.7h-14.7zM498.9 153.0h14.7v14.7h-14.7zM498.9 196.0h14.7v14.7h-14.7zM986.0 224.6h14.7v14.7h-14.7zM341.2 238.9h14.7v14.7h-14.7zM957.4 238.9h14.7v14.7h-14.7zM255.3 253.3h14.7v14.7h-14.7zM269.6 253.3h14.7v14.7h-14.7zM326.9 253.3h14.7v14.7h-14.7zM943.0 253.3h14.7v14.7h-14.7zM241.0 267.6h14.7v14.7h-14.7zM283.9 267.6h14.7v14.7h-14.7zM928.7 267.6h14.7v14.7h-14.7zM283.9 281.9h14.7v14.7h-14.7zM900.0 281.9h14.7v14.7h-14.7zM226.6 296.2h14.7v14.7h-14.7zM269.6 296.2h14.7v14.7h-14.7zM885.7 296.2h14.7v14.7h-14.7zM226.6 310.6h14.7v14.7h-14.7zM269.6 310.6h14.7v14.7h-14.7zM412.9 310.6h14.7v14.7h-14.7zM986.0 310.6h14.7v14.7h-14.7zM226.6 324.9h14.7v14.7h-14.7zM269.6 324.9h14.7v14.7h-14.7zM957.4 339.2h14.7v14.7h-14.7zM283.9 353.6h14.7v14.7h-14.7zM771.1 353.6h14.7v14.7h-14.7zM885.7 353.6h14.7v14.7h-14.7zM943.0 353.6h14.7v14.7h-14.7zM785.4 367.9h14.7v14.7h-14.7zM885.7 367.9h14.7v14.7h-14.7zM900.0 367.9h14.7v14.7h-14.7zM914.4 367.9h14.7v14.7h-14.7zM928.7 367.9h14.7v14.7h-14.7zM283.9 382.2h14.7v14.7h-14.7zM814.1 382.2h14.7v14.7h-14.7zM828.4 396.5h14.7v14.7h-14.7zM842.7 439.5h14.7v14.7h-14.7zM842.7 453.9h14.7v14.7h-14.7zM857.1 453.9h14.7v14.7h-14.7zM871.4 453.9h14.7v14.7h-14.7zM885.7 453.9h14.7v14.7h-14.7zM685.1 468.2h14.7v14.7h-14.7zM828.4 468.2h14.7v14.7h-14.7zM842.7 468.2h14.7v14.7h-14.7zM900.0 468.2h14.7v14.7h-14.7zM799.8 482.5h14.7v14.7h-14.7zM842.7 482.5h14.7v14.7h-14.7zM914.4 482.5h14.7v14.7h-14.7zM957.4 482.5h14.7v14.7h-14.7zM971.7 482.5h14.7v14.7h-14.7zM914.4 496.8h14.7v14.7h-14.7zM241.0 511.2h14.7v14.7h-14.7zM226.6 554.2h14.7v14.7h-14.7zM814.1 582.8h14.7v14.7h-14.7zM857.1 582.8h14.7v14.7h-14.7zM871.4 597.1h14.7v14.7h-14.7zM269.6 611.5h14.7v14.7h-14.7zM799.8 611.5h14.7v14.7h-14.7zM112.0 625.8h14.7v14.7h-14.7zM785.4 640.1h14.7v14.7h-14.7zM756.8 654.5h14.7v14.7h-14.7zM900.0 654.5h14.7v14.7h-14.7zM713.8 683.1h14.7v14.7h-14.7zM900.0 683.1h14.7v14.7h-14.7zM112.0 697.4h14.7v14.7h-14.7zM155.0 711.8h14.7v14.7h-14.7zM699.5 711.8h14.7v14.7h-14.7zM169.3 726.1h14.7v14.7h-14.7zM269.6 726.1h14.7v14.7h-14.7zM885.7 726.1h14.7v14.7h-14.7zM183.6 740.4h14.7v14.7h-14.7zM269.6 740.4h14.7v14.7h-14.7zM885.7 740.4h14.7v14.7h-14.7zM212.3 754.8h14.7v14.7h-14.7zM226.6 754.8h14.7v14.7h-14.7zM241.0 754.8h14.7v14.7h-14.7zM255.3 754.8h14.7v14.7h-14.7zM556.2 754.8h14.7v14.7h-14.7zM613.5 783.4h14.7v14.7h-14.7zM484.5 840.7h14.7v14.7h-14.7zM527.5 898.0h14.7v14.7h-14.7zM713.8 926.7h14.7v14.7h-14.7zM584.8 955.3h14.7v14.7h-14.7zM699.5 955.3h14.7v14.7h-14.7z"/><path fill="rgb(85,85,85)" d="M470.2 95.7h14.7v14.7h-14.7zM484.5 110.0h14.7v14.7h-14.7zM498.9 124.3h14.7v14.7h-14.7zM369.9 210.3h14.7v14.7h-14.7zM971.7 224.6h14.7v14.7h-14.7zM241.0 253.3h14.7v14.7h-14.7zM283.9 253.3h14.7v14.7h-14.7zM298.3 253.3h14.7v14.7h-14.7zM312.6 253.3h14.7v14.7h-14.7zM226.6 267.6h14.7v14.7h-14.7zM298.3 267.6h14.7v14.7h-14.7zM355.6 267.6h14.7v14.7h-14.7zM900.0 267.6h14.7v14.7h-14.7zM914.4 267.6h14.7v14.7h-14.7zM226.6 281.9h14.7v14.7h-14.7zM885.7 281.9h14.7v14.7h-14.7zM1000.3 310.6h14.7v14.7h-14.7zM699.5 324.9h14.7v14.7h-14.7zM713.8 324.9h14.7v14.7h-14.7zM728.1 324.9h14.7v14.7h-14.7zM871.4 324.9h14.7v14.7h-14.7zM971.7 324.9h14.7v14.7h-14.7zM756.8 339.2h14.7v14.7h-14.7zM871.4 339.2h14.7v14.7h-14.7zM871.4 353.6h14.7v14.7h-14.7zM957.4 353.6h14.7v14.7h-14.7zM799.8 367.9h14.7v14.7h-14.7zM871.4 367.9h14.7v14.7h-14.7zM943.0 367.9h14.7v14.7h-14.7zM656.5 382.2h14.7v14.7h-14.7zM828.4 382.2h14.7v14.7h-14.7zM842.7 382.2h14.7v14.7h-14.7zM857.1 382.2h14.7v14.7h-14.7zM871.4 382.2h14.7v14.7h-14.7zM885.7 382.2h14.7v14.7h-14.7zM283.9 396.5h14.7v14.7h-14.7zM656.5 396.5h14.7v14.7h-14.7zM842.7 396.5h14.7v14.7h-14.7zM857.1 396.5h14.7v14.7h-14.7zM255.3 410.9h14.7v14.7h-14.7zM269.6 410.9h14.7v14.7h-14.7zM656.5 410.9h14.7v14.7h-14.7zM842.7 410.9h14.7v14.7h-14.7zM857.1 410.9h14.7v14.7h-14.7zM656.5 425.2h14.7v14.7h-14.7zM842.7 425.2h14.7v14.7h-14.7zM857.1 425.2h14.7v14.7h-14.7zM857.1 439.5h14.7v14.7h-14.7zM871.4 439.5h14.7v14.7h-14.7zM986.0 453.9h14.7v14.7h-14.7zM914.4 468.2h14.7v14.7h-14.7zM957.4 468.2h14.7v14.7h-14.7zM971.7 468.2h14.7v14.7h-14.7zM986.0 468.2h14.7v14.7h-14.7zM713.8 482.5h14.7v14.7h-14.7zM814.1 482.5h14.7v14.7h-14.7zM828.4 482.5h14.7v14.7h-14.7zM928.7 482.5h14.7v14.7h-14.7zM943.0 482.5h14.7v14.7h-14.7zM986.0 482.5h14.7v14.7h-14.7zM241.0 496.8h14.7v14.7h-14.7zM255.3 496.8h14.7v14.7h-14.7zM269.6 496.8h14.7v14.7h-14.7zM283.9 496.8h14.7v14.7h-14.7zM298.3 496.8h14.7v14.7h-14.7zM312.6 496.8h14.7v14.7h-14.7zM756.8 496.8h14.7v14.7h-14.7zM771.1 496.8h14.7v14.7h-14.7zM785.4 496.8h14.7v14.7h-14.7zM799.8 496.8h14.7v14.7h-14.7zM842.7 496.8h14.7v14.7h-14.7zM928.7 496.8h14.7v14.7h-14.7zM943.0 496.8h14.7v14.7h-14.7zM957.4 496.8h14.7v14.7h-14.7zM971.7 496.8h14.7v14.7h-14.7zM857.1 511.2h14.7v14.7h-14.7zM871.4 511.2h14.7v14.7h-14.7zM885.7 511.2h14.7v14.7h-14.7zM900.0 511.2h14.7v14.7h-14.7zM355.6 554.2h14.7v14.7h-14.7zM298.3 582.8h14.7v14.7h-14.7zM312.6 582.8h14.7v14.7h-14.7zM326.9 582.8h14.7v14.7h-14.7zM183.6 597.1h14.7v14.7h-14.7zM140.7 611.5h14.7v14.7h-14.7zM885.7 611.5h14.7v14.7h-14.7zM900.0 640.1h14.7v14.7h-14.7zM140.7 711.8h14.7v14.7h-14.7zM269.6 711.8h14.7v14.7h-14.7zM155.0 726.1h14.7v14.7h-14.7zM169.3 740.4h14.7v14.7h-14.7zM685.1 740.4h14.7v14.7h-14.7zM198.0 754.8h14.7v14.7h-14.7zM269.6 754.8h14.7v14.7h-14.7zM885.7 754.8h14.7v14.7h-14.7zM226.6 769.1h14.7v14.7h-14.7zM241.0 769.1h14.7v14.7h-14.7zM584.8 769.1h14.7v14.7h-14.7zM670.8 769.1h14.7v14.7h-14.7zM885.7 769.1h14.7v14.7h-14.7zM656.5 783.4h14.7v14.7h-14.7zM871.4 783.4h14.7v14.7h-14.7zM785.4 797.7h14.7v14.7h-14.7zM484.5 855.0h14.7v14.7h-14.7zM498.9 883.7h14.7v14.7h-14.7zM728.1 883.7h14.7v14.7h-14.7zM513.2 898.0h14.7v14.7h-14.7zM527.5 912.4h14.7v14.7h-14.7zM541.8 926.7h14.7v14.7h-14.7zM556.2 941.0h14.7v14.7h-14.7zM713.8 941.0h14.7v14.7h-14.7zM570.5 955.3h14.7v14.7h-14.7zM584.8 969.7h14.7v14.7h-14.7zM699.5 969.7h14.7v14.7h-14.7z"/><path fill="rgb(86,86,86)" d="M441.5 81.3h14.7v14.7h-14.7zM455.9 81.3h14.7v14.7h-14.7zM484.5 95.7h14.7v14.7h-14.7zM498.9 210.3h14.7v14.7h-14.7zM355.6 224.6h14.7v14.7h-14.7zM241.0 238.9h14.7v14.7h-14.7zM255.3 238.9h14.7v14.7h-14.7zM269.6 238.9h14.7v14.7h-14.7zM283.9 238.9h14.7v14.7h-14.7zM326.9 238.9h14.7v14.7h-14.7zM943.0 238.9h14.7v14.7h-14.7zM226.6 253.3h14.7v14.7h-14.7zM928.7 253.3h14.7v14.7h-14.7zM312.6 267.6h14.7v14.7h-14.7zM341.2 267.6h14.7v14.7h-14.7zM885.7 267.6h14.7v14.7h-14.7zM212.3 281.9h14.7v14.7h-14.7zM298.3 281.9h14.7v14.7h-14.7zM384.2 281.9h14.7v14.7h-14.7zM484.5 281.9h14.7v14.7h-14.7zM212.3 296.2h14.7v14.7h-14.7zM283.9 296.2h14.7v14.7h-14.7zM871.4 296.2h14.7v14.7h-14.7zM212.3 310.6h14.7v14.7h-14.7zM871.4 310.6h14.7v14.7h-14.7zM1014.7 310.6h14.7v14.7h-14.7zM212.3 324.9h14.7v14.7h-14.7zM427.2 324.9h14.7v14.7h-14.7zM742.4 324.9h14.7v14.7h-14.7zM986.0 324.9h14.7v14.7h-14.7zM212.3 339.2h14.7v14.7h-14.7zM283.9 339.2h14.7v14.7h-14.7zM670.8 339.2h14.7v14.7h-14.7zM971.7 339.2h14.7v14.7h-14.7zM212.3 353.6h14.7v14.7h-14.7zM785.4 353.6h14.7v14.7h-14.7zM857.1 353.6h14.7v14.7h-14.7zM971.7 353.6h14.7v14.7h-14.7zM212.3 367.9h14.7v14.7h-14.7zM814.1 367.9h14.7v14.7h-14.7zM842.7 367.9h14.7v14.7h-14.7zM857.1 367.9h14.7v14.7h-14.7zM957.4 367.9h14.7v14.7h-14.7zM900.0 382.2h14.7v14.7h-14.7zM914.4 382.2h14.7v14.7h-14.7zM928.7 382.2h14.7v14.7h-14.7zM226.6 396.5h14.7v14.7h-14.7zM384.2 396.5h14.7v14.7h-14.7zM871.4 396.5h14.7v14.7h-14.7zM885.7 396.5h14.7v14.7h-14.7zM241.0 410.9h14.7v14.7h-14.7zM283.9 410.9h14.7v14.7h-14.7zM369.9 410.9h14.7v14.7h-14.7zM871.4 410.9h14.7v14.7h-14.7zM871.4 425.2h14.7v14.7h-14.7zM885.7 439.5h14.7v14.7h-14.7zM900.0 453.9h14.7v14.7h-14.7zM971.7 453.9h14.7v14.7h-14.7zM1000.3 453.9h14.7v14.7h-14.7zM928.7 468.2h14.7v14.7h-14.7zM943.0 468.2h14.7v14.7h-14.7zM1000.3 468.2h14.7v14.7h-14.7zM255.3 482.5h14.7v14.7h-14.7zM269.6 482.5h14.7v14.7h-14.7zM1000.3 482.5h14.7v14.7h-14.7zM326.9 496.8h14.7v14.7h-14.7zM814.1 496.8h14.7v14.7h-14.7zM828.4 496.8h14.7v14.7h-14.7zM986.0 496.8h14.7v14.7h-14.7zM341.2 511.2h14.7v14.7h-14.7zM842.7 511.2h14.7v14.7h-14.7zM914.4 511.2h14.7v14.7h-14.7zM226.6 525.5h14.7v14.7h-14.7zM226.6 539.8h14.7v14.7h-14.7zM355.6 539.8h14.7v14.7h-14.7zM814.1 568.5h14.7v14.7h-14.7zM828.4 568.5h14.7v14.7h-14.7zM842.7 568.5h14.7v14.7h-14.7zM341.2 582.8h14.7v14.7h-14.7zM871.4 582.8h14.7v14.7h-14.7zM799.8 597.1h14.7v14.7h-14.7zM885.7 597.1h14.7v14.7h-14.7zM112.0 611.5h14.7v14.7h-14.7zM126.3 611.5h14.7v14.7h-14.7zM742.4 654.5h14.7v14.7h-14.7zM914.4 654.5h14.7v14.7h-14.7zM914.4 668.8h14.7v14.7h-14.7zM900.0 697.4h14.7v14.7h-14.7zM126.3 711.8h14.7v14.7h-14.7zM283.9 740.4h14.7v14.7h-14.7zM169.3 754.8h14.7v14.7h-14.7zM183.6 754.8h14.7v14.7h-14.7zM283.9 754.8h14.7v14.7h-14.7zM198.0 769.1h14.7v14.7h-14.7zM212.3 769.1h14.7v14.7h-14.7zM255.3 769.1h14.7v14.7h-14.7zM269.6 769.1h14.7v14.7h-14.7zM513.2 769.1h14.7v14.7h-14.7zM627.8 783.4h14.7v14.7h-14.7zM642.1 783.4h14.7v14.7h-14.7zM885.7 783.4h14.7v14.7h-14.7zM756.8 826.4h14.7v14.7h-14.7zM355.6 840.7h14.7v14.7h-14.7zM484.5 869.4h14.7v14.7h-14.7zM527.5 926.7h14.7v14.7h-14.7zM541.8 941.0h14.7v14.7h-14.7zM556.2 955.3h14.7v14.7h-14.7zM570.5 969.7h14.7v14.7h-14.7z"/><path fill="rgb(87,87,87)" d="M470.2 81.3h14.7v14.7h-14.7zM412.9 95.7h14.7v14.7h-14.7zM498.9 110.0h14.7v14.7h-14.7zM513.2 124.3h14.7v14.7h-14.7zM513.2 138.6h14.7v14.7h-14.7zM957.4 224.6h14.7v14.7h-14.7zM226.6 238.9h14.7v14.7h-14.7zM298.3 238.9h14.7v14.7h-14.7zM312.6 238.9h14.7v14.7h-14.7zM900.0 253.3h14.7v14.7h-14.7zM914.4 253.3h14.7v14.7h-14.7zM212.3 267.6h14.7v14.7h-14.7zM326.9 267.6h14.7v14.7h-14.7zM871.4 267.6h14.7v14.7h-14.7zM871.4 281.9h14.7v14.7h-14.7zM398.6 296.2h14.7v14.7h-14.7zM470.2 296.2h14.7v14.7h-14.7zM283.9 310.6h14.7v14.7h-14.7zM283.9 324.9h14.7v14.7h-14.7zM685.1 324.9h14.7v14.7h-14.7zM756.8 324.9h14.7v14.7h-14.7zM1000.3 324.9h14.7v14.7h-14.7zM771.1 339.2h14.7v14.7h-14.7zM857.1 339.2h14.7v14.7h-14.7zM986.0 339.2h14.7v14.7h-14.7zM298.3 367.9h14.7v14.7h-14.7zM656.5 367.9h14.7v14.7h-14.7zM828.4 367.9h14.7v14.7h-14.7zM971.7 367.9h14.7v14.7h-14.7zM298.3 382.2h14.7v14.7h-14.7zM398.6 382.2h14.7v14.7h-14.7zM943.0 382.2h14.7v14.7h-14.7zM957.4 382.2h14.7v14.7h-14.7zM298.3 396.5h14.7v14.7h-14.7zM369.9 396.5h14.7v14.7h-14.7zM398.6 396.5h14.7v14.7h-14.7zM900.0 396.5h14.7v14.7h-14.7zM384.2 410.9h14.7v14.7h-14.7zM885.7 410.9h14.7v14.7h-14.7zM255.3 425.2h14.7v14.7h-14.7zM269.6 425.2h14.7v14.7h-14.7zM341.2 425.2h14.7v14.7h-14.7zM355.6 425.2h14.7v14.7h-14.7zM369.9 425.2h14.7v14.7h-14.7zM885.7 425.2h14.7v14.7h-14.7zM341.2 439.5h14.7v14.7h-14.7zM355.6 439.5h14.7v14.7h-14.7zM656.5 439.5h14.7v14.7h-14.7zM971.7 439.5h14.7v14.7h-14.7zM986.0 439.5h14.7v14.7h-14.7zM1000.3 439.5h14.7v14.7h-14.7zM957.4 453.9h14.7v14.7h-14.7zM1014.7 453.9h14.7v14.7h-14.7zM255.3 468.2h14.7v14.7h-14.7zM269.6 468.2h14.7v14.7h-14.7zM1014.7 468.2h14.7v14.7h-14.7zM241.0 482.5h14.7v14.7h-14.7zM283.9 482.5h14.7v14.7h-14.7zM298.3 482.5h14.7v14.7h-14.7zM1014.7 482.5h14.7v14.7h-14.7zM226.6 496.8h14.7v14.7h-14.7zM742.4 496.8h14.7v14.7h-14.7zM1000.3 496.8h14.7v14.7h-14.7zM226.6 511.2h14.7v14.7h-14.7zM771.1 511.2h14.7v14.7h-14.7zM785.4 511.2h14.7v14.7h-14.7zM799.8 511.2h14.7v14.7h-14.7zM814.1 511.2h14.7v14.7h-14.7zM828.4 511.2h14.7v14.7h-14.7zM928.7 511.2h14.7v14.7h-14.7zM943.0 511.2h14.7v14.7h-14.7zM957.4 511.2h14.7v14.7h-14.7zM971.7 511.2h14.7v14.7h-14.7zM986.0 511.2h14.7v14.7h-14.7zM355.6 568.5h14.7v14.7h-14.7zM857.1 568.5h14.7v14.7h-14.7zM799.8 582.8h14.7v14.7h-14.7zM269.6 625.8h14.7v14.7h-14.7zM900.0 625.8h14.7v14.7h-14.7zM914.4 683.1h14.7v14.7h-14.7zM699.5 697.4h14.7v14.7h-14.7zM112.0 711.8h14.7v14.7h-14.7zM900.0 711.8h14.7v14.7h-14.7zM140.7 726.1h14.7v14.7h-14.7zM283.9 726.1h14.7v14.7h-14.7zM155.0 740.4h14.7v14.7h-14.7zM298.3 740.4h14.7v14.7h-14.7zM155.0 754.8h14.7v14.7h-14.7zM298.3 754.8h14.7v14.7h-14.7zM900.0 754.8h14.7v14.7h-14.7zM169.3 769.1h14.7v14.7h-14.7zM183.6 769.1h14.7v14.7h-14.7zM283.9 769.1h14.7v14.7h-14.7zM198.0 783.4h14.7v14.7h-14.7zM212.3 783.4h14.7v14.7h-14.7zM226.6 783.4h14.7v14.7h-14.7zM241.0 783.4h14.7v14.7h-14.7zM255.3 783.4h14.7v14.7h-14.7zM269.6 783.4h14.7v14.7h-14.7zM871.4 797.7h14.7v14.7h-14.7zM885.7 797.7h14.7v14.7h-14.7zM771.1 812.1h14.7v14.7h-14.7zM341.2 826.4h14.7v14.7h-14.7zM355.6 826.4h14.7v14.7h-14.7zM341.2 840.7h14.7v14.7h-14.7zM355.6 855.0h14.7v14.7h-14.7zM742.4 855.0h14.7v14.7h-14.7zM484.5 883.7h14.7v14.7h-14.7zM498.9 898.0h14.7v14.7h-14.7zM728.1 898.0h14.7v14.7h-14.7zM513.2 912.4h14.7v14.7h-14.7zM728.1 912.4h14.7v14.7h-14.7zM728.1 926.7h14.7v14.7h-14.7zM527.5 941.0h14.7v14.7h-14.7zM541.8 955.3h14.7v14.7h-14.7zM713.8 955.3h14.7v14.7h-14.7zM556.2 969.7h14.7v14.7h-14.7zM713.8 969.7h14.7v14.7h-14.7z"/><path fill="rgb(88,88,88)" d="M441.5 67.0h14.7v14.7h-14.7zM455.9 67.0h14.7v14.7h-14.7zM470.2 67.0h14.7v14.7h-14.7zM427.2 81.3h14.7v14.7h-14.7zM484.5 81.3h14.7v14.7h-14.7zM498.9 95.7h14.7v14.7h-14.7zM398.6 110.0h14.7v14.7h-14.7zM513.2 110.0h14.7v14.7h-14.7zM513.2 153.0h14.7v14.7h-14.7zM369.9 196.0h14.7v14.7h-14.7zM986.0 210.3h14.7v14.7h-14.7zM1000.3 210.3h14.7v14.7h-14.7zM1014.7 210.3h14.7v14.7h-14.7zM241.0 224.6h14.7v14.7h-14.7zM255.3 224.6h14.7v14.7h-14.7zM269.6 224.6h14.7v14.7h-14.7zM283.9 224.6h14.7v14.7h-14.7zM341.2 224.6h14.7v14.7h-14.7zM943.0 224.6h14.7v14.7h-14.7zM212.3 238.9h14.7v14.7h-14.7zM900.0 238.9h14.7v14.7h-14.7zM914.4 238.9h14.7v14.7h-14.7zM928.7 238.9h14.7v14.7h-14.7zM212.3 253.3h14.7v14.7h-14.7zM871.4 253.3h14.7v14.7h-14.7zM885.7 253.3h14.7v14.7h-14.7zM198.0 267.6h14.7v14.7h-14.7zM198.0 281.9h14.7v14.7h-14.7zM198.0 296.2h14.7v14.7h-14.7zM198.0 310.6h14.7v14.7h-14.7zM713.8 310.6h14.7v14.7h-14.7zM728.1 310.6h14.7v14.7h-14.7zM742.4 310.6h14.7v14.7h-14.7zM198.0 324.9h14.7v14.7h-14.7zM857.1 324.9h14.7v14.7h-14.7zM799.8 353.6h14.7v14.7h-14.7zM842.7 353.6h14.7v14.7h-14.7zM986.0 353.6h14.7v14.7h-14.7zM986.0 367.9h14.7v14.7h-14.7zM212.3 382.2h14.7v14.7h-14.7zM384.2 382.2h14.7v14.7h-14.7zM971.7 382.2h14.7v14.7h-14.7zM986.0 382.2h14.7v14.7h-14.7zM914.4 396.5h14.7v14.7h-14.7zM298.3 410.9h14.7v14.7h-14.7zM355.6 410.9h14.7v14.7h-14.7zM900.0 410.9h14.7v14.7h-14.7zM986.0 410.9h14.7v14.7h-14.7zM241.0 425.2h14.7v14.7h-14.7zM283.9 425.2h14.7v14.7h-14.7zM298.3 425.2h14.7v14.7h-14.7zM326.9 425.2h14.7v14.7h-14.7zM986.0 425.2h14.7v14.7h-14.7zM1000.3 425.2h14.7v14.7h-14.7zM255.3 439.5h14.7v14.7h-14.7zM269.6 439.5h14.7v14.7h-14.7zM283.9 439.5h14.7v14.7h-14.7zM326.9 439.5h14.7v14.7h-14.7zM900.0 439.5h14.7v14.7h-14.7zM1014.7 439.5h14.7v14.7h-14.7zM255.3 453.9h14.7v14.7h-14.7zM269.6 453.9h14.7v14.7h-14.7zM283.9 453.9h14.7v14.7h-14.7zM326.9 453.9h14.7v14.7h-14.7zM341.2 453.9h14.7v14.7h-14.7zM914.4 453.9h14.7v14.7h-14.7zM943.0 453.9h14.7v14.7h-14.7zM241.0 468.2h14.7v14.7h-14.7zM283.9 468.2h14.7v14.7h-14.7zM298.3 468.2h14.7v14.7h-14.7zM312.6 468.2h14.7v14.7h-14.7zM226.6 482.5h14.7v14.7h-14.7zM312.6 482.5h14.7v14.7h-14.7zM326.9 482.5h14.7v14.7h-14.7zM699.5 482.5h14.7v14.7h-14.7zM341.2 496.8h14.7v14.7h-14.7zM1014.7 496.8h14.7v14.7h-14.7zM756.8 511.2h14.7v14.7h-14.7zM1000.3 511.2h14.7v14.7h-14.7zM355.6 525.5h14.7v14.7h-14.7zM785.4 525.5h14.7v14.7h-14.7zM799.8 525.5h14.7v14.7h-14.7zM814.1 525.5h14.7v14.7h-14.7zM828.4 525.5h14.7v14.7h-14.7zM842.7 525.5h14.7v14.7h-14.7zM857.1 525.5h14.7v14.7h-14.7zM871.4 525.5h14.7v14.7h-14.7zM885.7 525.5h14.7v14.7h-14.7zM900.0 525.5h14.7v14.7h-14.7zM814.1 554.2h14.7v14.7h-14.7zM828.4 554.2h14.7v14.7h-14.7zM842.7 554.2h14.7v14.7h-14.7zM799.8 568.5h14.7v14.7h-14.7zM112.0 597.1h14.7v14.7h-14.7zM126.3 597.1h14.7v14.7h-14.7zM140.7 597.1h14.7v14.7h-14.7zM155.0 597.1h14.7v14.7h-14.7zM169.3 597.1h14.7v14.7h-14.7zM283.9 597.1h14.7v14.7h-14.7zM900.0 611.5h14.7v14.7h-14.7zM914.4 640.1h14.7v14.7h-14.7zM713.8 668.8h14.7v14.7h-14.7zM928.7 668.8h14.7v14.7h-14.7zM269.6 697.4h14.7v14.7h-14.7zM914.4 697.4h14.7v14.7h-14.7zM112.0 726.1h14.7v14.7h-14.7zM126.3 726.1h14.7v14.7h-14.7zM685.1 726.1h14.7v14.7h-14.7zM900.0 726.1h14.7v14.7h-14.7zM126.3 740.4h14.7v14.7h-14.7zM140.7 740.4h14.7v14.7h-14.7zM900.0 740.4h14.7v14.7h-14.7zM140.7 754.8h14.7v14.7h-14.7zM312.6 754.8h14.7v14.7h-14.7zM670.8 754.8h14.7v14.7h-14.7zM155.0 769.1h14.7v14.7h-14.7zM298.3 769.1h14.7v14.7h-14.7zM900.0 769.1h14.7v14.7h-14.7zM169.3 783.4h14.7v14.7h-14.7zM183.6 783.4h14.7v14.7h-14.7zM283.9 783.4h14.7v14.7h-14.7zM900.0 783.4h14.7v14.7h-14.7zM198.0 797.7h14.7v14.7h-14.7zM212.3 797.7h14.7v14.7h-14.7zM226.6 797.7h14.7v14.7h-14.7zM241.0 797.7h14.7v14.7h-14.7zM255.3 797.7h14.7v14.7h-14.7zM269.6 797.7h14.7v14.7h-14.7zM799.8 797.7h14.7v14.7h-14.7zM857.1 797.7h14.7v14.7h-14.7zM900.0 797.7h14.7v14.7h-14.7zM326.9 812.1h14.7v14.7h-14.7zM341.2 812.1h14.7v14.7h-14.7zM326.9 826.4h14.7v14.7h-14.7zM484.5 826.4h14.7v14.7h-14.7zM326.9 840.7h14.7v14.7h-14.7zM369.9 840.7h14.7v14.7h-14.7zM341.2 855.0h14.7v14.7h-14.7zM484.5 898.0h14.7v14.7h-14.7zM498.9 912.4h14.7v14.7h-14.7zM513.2 926.7h14.7v14.7h-14.7zM513.2 941.0h14.7v14.7h-14.7zM728.1 941.0h14.7v14.7h-14.7zM527.5 955.3h14.7v14.7h-14.7zM728.1 955.3h14.7v14.7h-14.7zM527.5 969.7h14.7v14.7h-14.7zM541.8 969.7h14.7v14.7h-14.7z"/><path fill="rgb(89,89,89)" d="M484.5 67.0h14.7v14.7h-14.7zM498.9 81.3h14.7v14.7h-14.7zM513.2 95.7h14.7v14.7h-14.7zM384.2 124.3h14.7v14.7h-14.7zM369.9 167.3h14.7v14.7h-14.7zM369.9 181.6h14.7v14.7h-14.7zM957.4 210.3h14.7v14.7h-14.7zM971.7 210.3h14.7v14.7h-14.7zM212.3 224.6h14.7v14.7h-14.7zM226.6 224.6h14.7v14.7h-14.7zM298.3 224.6h14.7v14.7h-14.7zM312.6 224.6h14.7v14.7h-14.7zM498.9 224.6h14.7v14.7h-14.7zM928.7 224.6h14.7v14.7h-14.7zM198.0 238.9h14.7v14.7h-14.7zM871.4 238.9h14.7v14.7h-14.7zM885.7 238.9h14.7v14.7h-14.7zM198.0 253.3h14.7v14.7h-14.7zM857.1 253.3h14.7v14.7h-14.7zM857.1 267.6h14.7v14.7h-14.7zM312.6 281.9h14.7v14.7h-14.7zM857.1 281.9h14.7v14.7h-14.7zM298.3 296.2h14.7v14.7h-14.7zM857.1 296.2h14.7v14.7h-14.7zM699.5 310.6h14.7v14.7h-14.7zM756.8 310.6h14.7v14.7h-14.7zM857.1 310.6h14.7v14.7h-14.7zM412.9 324.9h14.7v14.7h-14.7zM771.1 324.9h14.7v14.7h-14.7zM1014.7 324.9h14.7v14.7h-14.7zM198.0 339.2h14.7v14.7h-14.7zM785.4 339.2h14.7v14.7h-14.7zM1000.3 339.2h14.7v14.7h-14.7zM198.0 353.6h14.7v14.7h-14.7zM298.3 353.6h14.7v14.7h-14.7zM656.5 353.6h14.7v14.7h-14.7zM814.1 353.6h14.7v14.7h-14.7zM828.4 353.6h14.7v14.7h-14.7zM1000.3 353.6h14.7v14.7h-14.7zM1000.3 367.9h14.7v14.7h-14.7zM412.9 382.2h14.7v14.7h-14.7zM1000.3 382.2h14.7v14.7h-14.7zM312.6 396.5h14.7v14.7h-14.7zM928.7 396.5h14.7v14.7h-14.7zM943.0 396.5h14.7v14.7h-14.7zM957.4 396.5h14.7v14.7h-14.7zM971.7 396.5h14.7v14.7h-14.7zM986.0 396.5h14.7v14.7h-14.7zM1000.3 396.5h14.7v14.7h-14.7zM226.6 410.9h14.7v14.7h-14.7zM312.6 410.9h14.7v14.7h-14.7zM326.9 410.9h14.7v14.7h-14.7zM341.2 410.9h14.7v14.7h-14.7zM398.6 410.9h14.7v14.7h-14.7zM971.7 410.9h14.7v14.7h-14.7zM1000.3 410.9h14.7v14.7h-14.7zM1014.7 410.9h14.7v14.7h-14.7zM312.6 425.2h14.7v14.7h-14.7zM384.2 425.2h14.7v14.7h-14.7zM900.0 425.2h14.7v14.7h-14.7zM971.7 425.2h14.7v14.7h-14.7zM1014.7 425.2h14.7v14.7h-14.7zM241.0 439.5h14.7v14.7h-14.7zM298.3 439.5h14.7v14.7h-14.7zM312.6 439.5h14.7v14.7h-14.7zM369.9 439.5h14.7v14.7h-14.7zM957.4 439.5h14.7v14.7h-14.7zM241.0 453.9h14.7v14.7h-14.7zM298.3 453.9h14.7v14.7h-14.7zM312.6 453.9h14.7v14.7h-14.7zM355.6 453.9h14.7v14.7h-14.7zM928.7 453.9h14.7v14.7h-14.7zM326.9 468.2h14.7v14.7h-14.7zM341.2 468.2h14.7v14.7h-14.7zM670.8 468.2h14.7v14.7h-14.7zM341.2 482.5h14.7v14.7h-14.7zM728.1 496.8h14.7v14.7h-14.7zM1014.7 511.2h14.7v14.7h-14.7zM771.1 525.5h14.7v14.7h-14.7zM914.4 525.5h14.7v14.7h-14.7zM957.4 525.5h14.7v14.7h-14.7zM971.7 525.5h14.7v14.7h-14.7zM785.4 539.8h14.7v14.7h-14.7zM799.8 539.8h14.7v14.7h-14.7zM814.1 539.8h14.7v14.7h-14.7zM828.4 539.8h14.7v14.7h-14.7zM842.7 539.8h14.7v14.7h-14.7zM857.1 539.8h14.7v14.7h-14.7zM799.8 554.2h14.7v14.7h-14.7zM857.1 554.2h14.7v14.7h-14.7zM212.3 568.5h14.7v14.7h-14.7zM871.4 568.5h14.7v14.7h-14.7zM112.0 582.8h14.7v14.7h-14.7zM126.3 582.8h14.7v14.7h-14.7zM885.7 582.8h14.7v14.7h-14.7zM785.4 625.8h14.7v14.7h-14.7zM269.6 640.1h14.7v14.7h-14.7zM728.1 654.5h14.7v14.7h-14.7zM928.7 654.5h14.7v14.7h-14.7zM928.7 683.1h14.7v14.7h-14.7zM298.3 726.1h14.7v14.7h-14.7zM112.0 740.4h14.7v14.7h-14.7zM312.6 740.4h14.7v14.7h-14.7zM126.3 754.8h14.7v14.7h-14.7zM126.3 769.1h14.7v14.7h-14.7zM140.7 769.1h14.7v14.7h-14.7zM312.6 769.1h14.7v14.7h-14.7zM656.5 769.1h14.7v14.7h-14.7zM140.7 783.4h14.7v14.7h-14.7zM155.0 783.4h14.7v14.7h-14.7zM298.3 783.4h14.7v14.7h-14.7zM312.6 783.4h14.7v14.7h-14.7zM326.9 783.4h14.7v14.7h-14.7zM155.0 797.7h14.7v14.7h-14.7zM169.3 797.7h14.7v14.7h-14.7zM183.6 797.7h14.7v14.7h-14.7zM283.9 797.7h14.7v14.7h-14.7zM298.3 797.7h14.7v14.7h-14.7zM312.6 797.7h14.7v14.7h-14.7zM326.9 797.7h14.7v14.7h-14.7zM341.2 797.7h14.7v14.7h-14.7zM842.7 797.7h14.7v14.7h-14.7zM169.3 812.1h14.7v14.7h-14.7zM183.6 812.1h14.7v14.7h-14.7zM198.0 812.1h14.7v14.7h-14.7zM212.3 812.1h14.7v14.7h-14.7zM226.6 812.1h14.7v14.7h-14.7zM241.0 812.1h14.7v14.7h-14.7zM255.3 812.1h14.7v14.7h-14.7zM269.6 812.1h14.7v14.7h-14.7zM312.6 812.1h14.7v14.7h-14.7zM355.6 812.1h14.7v14.7h-14.7zM885.7 812.1h14.7v14.7h-14.7zM900.0 812.1h14.7v14.7h-14.7zM212.3 826.4h14.7v14.7h-14.7zM226.6 826.4h14.7v14.7h-14.7zM241.0 826.4h14.7v14.7h-14.7zM312.6 826.4h14.7v14.7h-14.7zM369.9 826.4h14.7v14.7h-14.7zM326.9 855.0h14.7v14.7h-14.7zM369.9 855.0h14.7v14.7h-14.7zM470.2 855.0h14.7v14.7h-14.7zM341.2 869.4h14.7v14.7h-14.7zM355.6 869.4h14.7v14.7h-14.7zM470.2 869.4h14.7v14.7h-14.7zM484.5 912.4h14.7v14.7h-14.7zM498.9 926.7h14.7v14.7h-14.7zM498.9 941.0h14.7v14.7h-14.7zM498.9 955.3h14.7v14.7h-14.7zM513.2 955.3h14.7v14.7h-14.7zM742.4 955.3h14.7v14.7h-14.7zM513.2 969.7h14.7v14.7h-14.7zM728.1 969.7h14.7v14.7h-14.7zM742.4 969.7h14.7v14.7h-14.7z"/><path fill="rgb(90,90,90)" d="M427.2 67.0h14.7v14.7h-14.7zM498.9 67.0h14.7v14.7h-14.7zM513.2 67.0h14.7v14.7h-14.7zM513.2 81.3h14.7v14.7h-14.7zM527.5 110.0h14.7v14.7h-14.7zM527.5 124.3h14.7v14.7h-14.7zM527.5 138.6h14.7v14.7h-14.7zM369.9 153.0h14.7v14.7h-14.7zM513.2 167.3h14.7v14.7h-14.7zM212.3 210.3h14.7v14.7h-14.7zM226.6 210.3h14.7v14.7h-14.7zM241.0 210.3h14.7v14.7h-14.7zM255.3 210.3h14.7v14.7h-14.7zM269.6 210.3h14.7v14.7h-14.7zM355.6 210.3h14.7v14.7h-14.7zM928.7 210.3h14.7v14.7h-14.7zM943.0 210.3h14.7v14.7h-14.7zM198.0 224.6h14.7v14.7h-14.7zM326.9 224.6h14.7v14.7h-14.7zM871.4 224.6h14.7v14.7h-14.7zM885.7 224.6h14.7v14.7h-14.7zM900.0 224.6h14.7v14.7h-14.7zM914.4 224.6h14.7v14.7h-14.7zM183.6 238.9h14.7v14.7h-14.7zM857.1 238.9h14.7v14.7h-14.7zM183.6 253.3h14.7v14.7h-14.7zM842.7 253.3h14.7v14.7h-14.7zM183.6 267.6h14.7v14.7h-14.7zM842.7 267.6h14.7v14.7h-14.7zM183.6 281.9h14.7v14.7h-14.7zM183.6 296.2h14.7v14.7h-14.7zM728.1 296.2h14.7v14.7h-14.7zM742.4 296.2h14.7v14.7h-14.7zM756.8 296.2h14.7v14.7h-14.7zM183.6 310.6h14.7v14.7h-14.7zM455.9 310.6h14.7v14.7h-14.7zM771.1 310.6h14.7v14.7h-14.7zM441.5 324.9h14.7v14.7h-14.7zM670.8 324.9h14.7v14.7h-14.7zM427.2 339.2h14.7v14.7h-14.7zM842.7 339.2h14.7v14.7h-14.7zM1014.7 339.2h14.7v14.7h-14.7zM1014.7 353.6h14.7v14.7h-14.7zM198.0 367.9h14.7v14.7h-14.7zM412.9 367.9h14.7v14.7h-14.7zM1014.7 367.9h14.7v14.7h-14.7zM312.6 382.2h14.7v14.7h-14.7zM1014.7 382.2h14.7v14.7h-14.7zM212.3 396.5h14.7v14.7h-14.7zM355.6 396.5h14.7v14.7h-14.7zM412.9 396.5h14.7v14.7h-14.7zM1014.7 396.5h14.7v14.7h-14.7zM914.4 410.9h14.7v14.7h-14.7zM957.4 410.9h14.7v14.7h-14.7zM957.4 425.2h14.7v14.7h-14.7zM914.4 439.5h14.7v14.7h-14.7zM656.5 453.9h14.7v14.7h-14.7zM226.6 468.2h14.7v14.7h-14.7zM212.3 482.5h14.7v14.7h-14.7zM212.3 496.8h14.7v14.7h-14.7zM355.6 511.2h14.7v14.7h-14.7zM928.7 525.5h14.7v14.7h-14.7zM943.0 525.5h14.7v14.7h-14.7zM986.0 525.5h14.7v14.7h-14.7zM1000.3 525.5h14.7v14.7h-14.7zM771.1 539.8h14.7v14.7h-14.7zM871.4 539.8h14.7v14.7h-14.7zM885.7 539.8h14.7v14.7h-14.7zM785.4 554.2h14.7v14.7h-14.7zM871.4 554.2h14.7v14.7h-14.7zM112.0 568.5h14.7v14.7h-14.7zM785.4 568.5h14.7v14.7h-14.7zM885.7 568.5h14.7v14.7h-14.7zM198.0 582.8h14.7v14.7h-14.7zM355.6 582.8h14.7v14.7h-14.7zM900.0 597.1h14.7v14.7h-14.7zM914.4 625.8h14.7v14.7h-14.7zM771.1 640.1h14.7v14.7h-14.7zM269.6 683.1h14.7v14.7h-14.7zM283.9 711.8h14.7v14.7h-14.7zM914.4 711.8h14.7v14.7h-14.7zM914.4 726.1h14.7v14.7h-14.7zM326.9 740.4h14.7v14.7h-14.7zM914.4 740.4h14.7v14.7h-14.7zM112.0 754.8h14.7v14.7h-14.7zM326.9 754.8h14.7v14.7h-14.7zM914.4 754.8h14.7v14.7h-14.7zM112.0 769.1h14.7v14.7h-14.7zM326.9 769.1h14.7v14.7h-14.7zM599.2 769.1h14.7v14.7h-14.7zM914.4 769.1h14.7v14.7h-14.7zM112.0 783.4h14.7v14.7h-14.7zM126.3 783.4h14.7v14.7h-14.7zM341.2 783.4h14.7v14.7h-14.7zM914.4 783.4h14.7v14.7h-14.7zM126.3 797.7h14.7v14.7h-14.7zM140.7 797.7h14.7v14.7h-14.7zM498.9 797.7h14.7v14.7h-14.7zM814.1 797.7h14.7v14.7h-14.7zM914.4 797.7h14.7v14.7h-14.7zM126.3 812.1h14.7v14.7h-14.7zM140.7 812.1h14.7v14.7h-14.7zM155.0 812.1h14.7v14.7h-14.7zM283.9 812.1h14.7v14.7h-14.7zM298.3 812.1h14.7v14.7h-14.7zM871.4 812.1h14.7v14.7h-14.7zM914.4 812.1h14.7v14.7h-14.7zM140.7 826.4h14.7v14.7h-14.7zM155.0 826.4h14.7v14.7h-14.7zM169.3 826.4h14.7v14.7h-14.7zM183.6 826.4h14.7v14.7h-14.7zM198.0 826.4h14.7v14.7h-14.7zM255.3 826.4h14.7v14.7h-14.7zM269.6 826.4h14.7v14.7h-14.7zM283.9 826.4h14.7v14.7h-14.7zM298.3 826.4h14.7v14.7h-14.7zM885.7 826.4h14.7v14.7h-14.7zM900.0 826.4h14.7v14.7h-14.7zM914.4 826.4h14.7v14.7h-14.7zM169.3 840.7h14.7v14.7h-14.7zM183.6 840.7h14.7v14.7h-14.7zM198.0 840.7h14.7v14.7h-14.7zM212.3 840.7h14.7v14.7h-14.7zM226.6 840.7h14.7v14.7h-14.7zM241.0 840.7h14.7v14.7h-14.7zM255.3 840.7h14.7v14.7h-14.7zM269.6 840.7h14.7v14.7h-14.7zM298.3 840.7h14.7v14.7h-14.7zM312.6 840.7h14.7v14.7h-14.7zM756.8 840.7h14.7v14.7h-14.7zM900.0 840.7h14.7v14.7h-14.7zM198.0 855.0h14.7v14.7h-14.7zM212.3 855.0h14.7v14.7h-14.7zM226.6 855.0h14.7v14.7h-14.7zM241.0 855.0h14.7v14.7h-14.7zM312.6 855.0h14.7v14.7h-14.7zM326.9 869.4h14.7v14.7h-14.7zM369.9 869.4h14.7v14.7h-14.7zM470.2 883.7h14.7v14.7h-14.7zM470.2 898.0h14.7v14.7h-14.7zM470.2 912.4h14.7v14.7h-14.7zM470.2 926.7h14.7v14.7h-14.7zM484.5 926.7h14.7v14.7h-14.7zM484.5 941.0h14.7v14.7h-14.7zM742.4 941.0h14.7v14.7h-14.7zM484.5 955.3h14.7v14.7h-14.7zM756.8 955.3h14.7v14.7h-14.7zM484.5 969.7h14.7v14.7h-14.7zM498.9 969.7h14.7v14.7h-14.7zM756.8 969.7h14.7v14.7h-14.7z"/><path fill="rgb(91,91,91)" d="M412.9 81.3h14.7v14.7h-14.7zM527.5 95.7h14.7v14.7h-14.7zM900.0 196.0h14.7v14.7h-14.7zM914.4 196.0h14.7v14.7h-14.7zM928.7 196.0h14.7v14.7h-14.7zM943.0 196.0h14.7v14.7h-14.7zM957.4 196.0h14.7v14.7h-14.7zM971.7 196.0h14.7v14.7h-14.7zM986.0 196.0h14.7v14.7h-14.7zM1000.3 196.0h14.7v14.7h-14.7zM1014.7 196.0h14.7v14.7h-14.7zM169.3 210.3h14.7v14.7h-14.7zM183.6 210.3h14.7v14.7h-14.7zM198.0 210.3h14.7v14.7h-14.7zM283.9 210.3h14.7v14.7h-14.7zM871.4 210.3h14.7v14.7h-14.7zM885.7 210.3h14.7v14.7h-14.7zM900.0 210.3h14.7v14.7h-14.7zM914.4 210.3h14.7v14.7h-14.7zM169.3 224.6h14.7v14.7h-14.7zM183.6 224.6h14.7v14.7h-14.7zM842.7 224.6h14.7v14.7h-14.7zM857.1 224.6h14.7v14.7h-14.7zM169.3 238.9h14.7v14.7h-14.7zM498.9 238.9h14.7v14.7h-14.7zM842.7 238.9h14.7v14.7h-14.7zM169.3 253.3h14.7v14.7h-14.7zM828.4 253.3h14.7v14.7h-14.7zM169.3 267.6h14.7v14.7h-14.7zM828.4 267.6h14.7v14.7h-14.7zM169.3 281.9h14.7v14.7h-14.7zM728.1 281.9h14.7v14.7h-14.7zM742.4 281.9h14.7v14.7h-14.7zM756.8 281.9h14.7v14.7h-14.7zM842.7 281.9h14.7v14.7h-14.7zM169.3 296.2h14.7v14.7h-14.7zM713.8 296.2h14.7v14.7h-14.7zM771.1 296.2h14.7v14.7h-14.7zM298.3 310.6h14.7v14.7h-14.7zM685.1 310.6h14.7v14.7h-14.7zM183.6 324.9h14.7v14.7h-14.7zM785.4 324.9h14.7v14.7h-14.7zM842.7 324.9h14.7v14.7h-14.7zM298.3 339.2h14.7v14.7h-14.7zM656.5 339.2h14.7v14.7h-14.7zM799.8 339.2h14.7v14.7h-14.7zM398.6 367.9h14.7v14.7h-14.7zM369.9 382.2h14.7v14.7h-14.7zM326.9 396.5h14.7v14.7h-14.7zM341.2 396.5h14.7v14.7h-14.7zM928.7 410.9h14.7v14.7h-14.7zM943.0 410.9h14.7v14.7h-14.7zM226.6 425.2h14.7v14.7h-14.7zM914.4 425.2h14.7v14.7h-14.7zM943.0 425.2h14.7v14.7h-14.7zM928.7 439.5h14.7v14.7h-14.7zM943.0 439.5h14.7v14.7h-14.7zM226.6 453.9h14.7v14.7h-14.7zM369.9 453.9h14.7v14.7h-14.7zM355.6 468.2h14.7v14.7h-14.7zM685.1 482.5h14.7v14.7h-14.7zM212.3 511.2h14.7v14.7h-14.7zM742.4 511.2h14.7v14.7h-14.7zM756.8 525.5h14.7v14.7h-14.7zM1014.7 525.5h14.7v14.7h-14.7zM900.0 539.8h14.7v14.7h-14.7zM112.0 554.2h14.7v14.7h-14.7zM885.7 554.2h14.7v14.7h-14.7zM126.3 568.5h14.7v14.7h-14.7zM140.7 582.8h14.7v14.7h-14.7zM785.4 582.8h14.7v14.7h-14.7zM900.0 582.8h14.7v14.7h-14.7zM298.3 597.1h14.7v14.7h-14.7zM928.7 640.1h14.7v14.7h-14.7zM269.6 654.5h14.7v14.7h-14.7zM943.0 654.5h14.7v14.7h-14.7zM943.0 668.8h14.7v14.7h-14.7zM699.5 683.1h14.7v14.7h-14.7zM943.0 683.1h14.7v14.7h-14.7zM928.7 697.4h14.7v14.7h-14.7zM685.1 711.8h14.7v14.7h-14.7zM312.6 726.1h14.7v14.7h-14.7zM670.8 740.4h14.7v14.7h-14.7zM341.2 769.1h14.7v14.7h-14.7zM642.1 769.1h14.7v14.7h-14.7zM928.7 769.1h14.7v14.7h-14.7zM928.7 783.4h14.7v14.7h-14.7zM112.0 797.7h14.7v14.7h-14.7zM355.6 797.7h14.7v14.7h-14.7zM828.4 797.7h14.7v14.7h-14.7zM928.7 797.7h14.7v14.7h-14.7zM112.0 812.1h14.7v14.7h-14.7zM928.7 812.1h14.7v14.7h-14.7zM112.0 826.4h14.7v14.7h-14.7zM126.3 826.4h14.7v14.7h-14.7zM928.7 826.4h14.7v14.7h-14.7zM112.0 840.7h14.7v14.7h-14.7zM126.3 840.7h14.7v14.7h-14.7zM140.7 840.7h14.7v14.7h-14.7zM155.0 840.7h14.7v14.7h-14.7zM283.9 840.7h14.7v14.7h-14.7zM470.2 840.7h14.7v14.7h-14.7zM885.7 840.7h14.7v14.7h-14.7zM914.4 840.7h14.7v14.7h-14.7zM928.7 840.7h14.7v14.7h-14.7zM112.0 855.0h14.7v14.7h-14.7zM126.3 855.0h14.7v14.7h-14.7zM140.7 855.0h14.7v14.7h-14.7zM155.0 855.0h14.7v14.7h-14.7zM169.3 855.0h14.7v14.7h-14.7zM183.6 855.0h14.7v14.7h-14.7zM255.3 855.0h14.7v14.7h-14.7zM269.6 855.0h14.7v14.7h-14.7zM283.9 855.0h14.7v14.7h-14.7zM298.3 855.0h14.7v14.7h-14.7zM900.0 855.0h14.7v14.7h-14.7zM914.4 855.0h14.7v14.7h-14.7zM928.7 855.0h14.7v14.7h-14.7zM112.0 869.4h14.7v14.7h-14.7zM126.3 869.4h14.7v14.7h-14.7zM140.7 869.4h14.7v14.7h-14.7zM155.0 869.4h14.7v14.7h-14.7zM169.3 869.4h14.7v14.7h-14.7zM183.6 869.4h14.7v14.7h-14.7zM198.0 869.4h14.7v14.7h-14.7zM212.3 869.4h14.7v14.7h-14.7zM226.6 869.4h14.7v14.7h-14.7zM241.0 869.4h14.7v14.7h-14.7zM255.3 869.4h14.7v14.7h-14.7zM269.6 869.4h14.7v14.7h-14.7zM283.9 869.4h14.7v14.7h-14.7zM298.3 869.4h14.7v14.7h-14.7zM312.6 869.4h14.7v14.7h-14.7zM742.4 869.4h14.7v14.7h-14.7zM900.0 869.4h14.7v14.7h-14.7zM914.4 869.4h14.7v14.7h-14.7zM126.3 883.7h14.7v14.7h-14.7zM140.7 883.7h14.7v14.7h-14.7zM155.0 883.7h14.7v14.7h-14.7zM169.3 883.7h14.7v14.7h-14.7zM183.6 883.7h14.7v14.7h-14.7zM198.0 883.7h14.7v14.7h-14.7zM212.3 883.7h14.7v14.7h-14.7zM226.6 883.7h14.7v14.7h-14.7zM241.0 883.7h14.7v14.7h-14.7zM255.3 883.7h14.7v14.7h-14.7zM269.6 883.7h14.7v14.7h-14.7zM283.9 883.7h14.7v14.7h-14.7zM298.3 883.7h14.7v14.7h-14.7zM312.6 883.7h14.7v14.7h-14.7zM326.9 883.7h14.7v14.7h-14.7zM341.2 883.7h14.7v14.7h-14.7zM355.6 883.7h14.7v14.7h-14.7zM369.9 883.7h14.7v14.7h-14.7zM455.9 883.7h14.7v14.7h-14.7zM900.0 883.7h14.7v14.7h-14.7zM155.0 898.0h14.7v14.7h-14.7zM169.3 898.0h14.7v14.7h-14.7zM183.6 898.0h14.7v14.7h-14.7zM198.0 898.0h14.7v14.7h-14.7zM212.3 898.0h14.7v14.7h-14.7zM226.6 898.0h14.7v14.7h-14.7zM241.0 898.0h14.7v14.7h-14.7zM255.3 898.0h14.7v14.7h-14.7zM269.6 898.0h14.7v14.7h-14.7zM455.9 898.0h14.7v14.7h-14.7zM169.3 912.4h14.7v14.7h-14.7zM183.6 912.4h14.7v14.7h-14.7zM198.0 912.4h14.7v14.7h-14.7zM212.3 912.4h14.7v14.7h-14.7zM226.6 912.4h14.7v14.7h-14.7zM241.0 912.4h14.7v14.7h-14.7zM255.3 912.4h14.7v14.7h-14.7zM455.9 912.4h14.7v14.7h-14.7zM455.9 926.7h14.7v14.7h-14.7zM455.9 941.0h14.7v14.7h-14.7zM470.2 941.0h14.7v14.7h-14.7zM455.9 955.3h14.7v14.7h-14.7zM470.2 955.3h14.7v14.7h-14.7zM771.1 955.3h14.7v14.7h-14.7zM455.9 969.7h14.7v14.7h-14.7zM470.2 969.7h14.7v14.7h-14.7zM771.1 969.7h14.7v14.7h-14.7zM785.4 969.7h14.7v14.7h-14.7zM799.8 969.7h14.7v14.7h-14.7zM814.1 969.7h14.7v14.7h-14.7z"/><path fill="rgb(92,92,92)" d="M112.0 67.0h14.7v14.7h-14.7zM126.3 67.0h14.7v14.7h-14.7zM140.7 67.0h14.7v14.7h-14.7zM155.0 67.0h14.7v14.7h-14.7zM169.3 67.0h14.7v14.7h-14.7zM183.6 67.0h14.7v14.7h-14.7zM198.0 67.0h14.7v14.7h-14.7zM212.3 67.0h14.7v14.7h-14.7zM226.6 67.0h14.7v14.7h-14.7zM241.0 67.0h14.7v14.7h-14.7zM255.3 67.0h14.7v14.7h-14.7zM269.6 67.0h14.7v14.7h-14.7zM527.5 67.0h14.7v14.7h-14.7zM842.7 67.0h14.7v14.7h-14.7zM857.1 67.0h14.7v14.7h-14.7zM871.4 67.0h14.7v14.7h-14.7zM885.7 67.0h14.7v14.7h-14.7zM900.0 67.0h14.7v14.7h-14.7zM914.4 67.0h14.7v14.7h-14.7zM928.7 67.0h14.7v14.7h-14.7zM943.0 67.0h14.7v14.7h-14.7zM957.4 67.0h14.7v14.7h-14.7zM971.7 67.0h14.7v14.7h-14.7zM986.0 67.0h14.7v14.7h-14.7zM1000.3 67.0h14.7v14.7h-14.7zM1014.7 67.0h14.7v14.7h-14.7zM112.0 81.3h14.7v14.7h-14.7zM126.3 81.3h14.7v14.7h-14.7zM140.7 81.3h14.7v14.7h-14.7zM155.0 81.3h14.7v14.7h-14.7zM169.3 81.3h14.7v14.7h-14.7zM183.6 81.3h14.7v14.7h-14.7zM198.0 81.3h14.7v14.7h-14.7zM527.5 81.3h14.7v14.7h-14.7zM857.1 81.3h14.7v14.7h-14.7zM871.4 81.3h14.7v14.7h-14.7zM885.7 81.3h14.7v14.7h-14.7zM900.0 81.3h14.7v14.7h-14.7zM914.4 81.3h14.7v14.7h-14.7zM928.7 81.3h14.7v14.7h-14.7zM943.0 81.3h14.7v14.7h-14.7zM957.4 81.3h14.7v14.7h-14.7zM971.7 81.3h14.7v14.7h-14.7zM986.0 81.3h14.7v14.7h-14.7zM1000.3 81.3h14.7v14.7h-14.7zM1014.7 81.3h14.7v14.7h-14.7zM112.0 95.7h14.7v14.7h-14.7zM126.3 95.7h14.7v14.7h-14.7zM140.7 95.7h14.7v14.7h-14.7zM155.0 95.7h14.7v14.7h-14.7zM169.3 95.7h14.7v14.7h-14.7zM183.6 95.7h14.7v14.7h-14.7zM885.7 95.7h14.7v14.7h-14.7zM900.0 95.7h14.7v14.7h-14.7zM914.4 95.7h14.7v14.7h-14.7zM928.7 95.7h14.7v14.7h-14.7zM943.0 95.7h14.7v14.7h-14.7zM957.4 95.7h14.7v14.7h-14.7zM971.7 95.7h14.7v14.7h-14.7zM986.0 95.7h14.7v14.7h-14.7zM1000.3 95.7h14.7v14.7h-14.7zM1014.7 95.7h14.7v14.7h-14.7zM112.0 110.0h14.7v14.7h-14.7zM126.3 110.0h14.7v14.7h-14.7zM140.7 110.0h14.7v14.7h-14.7zM155.0 110.0h14.7v14.7h-14.7zM169.3 110.0h14.7v14.7h-14.7zM885.7 110.0h14.7v14.7h-14.7zM900.0 110.0h14.7v14.7h-14.7zM914.4 110.0h14.7v14.7h-14.7zM928.7 110.0h14.7v14.7h-14.7zM943.0 110.0h14.7v14.7h-14.7zM957.4 110.0h14.7v14.7h-14.7zM971.7 110.0h14.7v14.7h-14.7zM986.0 110.0h14.7v14.7h-14.7zM1000.3 110.0h14.7v14.7h-14.7zM1014.7 110.0h14.7v14.7h-14.7zM112.0 124.3h14.7v14.7h-14.7zM126.3 124.3h14.7v14.7h-14.7zM140.7 124.3h14.7v14.7h-14.7zM155.0 124.3h14.7v14.7h-14.7zM169.3 124.3h14.7v14.7h-14.7zM541.8 124.3h14.7v14.7h-14.7zM900.0 124.3h14.7v14.7h-14.7zM914.4 124.3h14.7v14.7h-14.7zM928.7 124.3h14.7v14.7h-14.7zM943.0 124.3h14.7v14.7h-14.7zM957.4 124.3h14.7v14.7h-14.7zM971.7 124.3h14.7v14.7h-14.7zM986.0 124.3h14.7v14.7h-14.7zM1000.3 124.3h14.7v14.7h-14.7zM1014.7 124.3h14.7v14.7h-14.7zM112.0 138.6h14.7v14.7h-14.7zM126.3 138.6h14.7v14.7h-14.7zM140.7 138.6h14.7v14.7h-14.7zM155.0 138.6h14.7v14.7h-14.7zM169.3 138.6h14.7v14.7h-14.7zM369.9 138.6h14.7v14.7h-14.7zM541.8 138.6h14.7v14.7h-14.7zM900.0 138.6h14.7v14.7h-14.7zM914.4 138.6h14.7v14.7h-14.7zM928.7 138.6h14.7v14.7h-14.7zM943.0 138.6h14.7v14.7h-14.7zM957.4 138.6h14.7v14.7h-14.7zM971.7 138.6h14.7v14.7h-14.7zM986.0 138.6h14.7v14.7h-14.7zM1000.3 138.6h14.7v14.7h-14.7zM1014.7 138.6h14.7v14.7h-14.7zM112.0 153.0h14.7v14.7h-14.7zM126.3 153.0h14.7v14.7h-14.7zM140.7 153.0h14.7v14.7h-14.7zM155.0 153.0h14.7v14.7h-14.7zM169.3 153.0h14.7v14.7h-14.7zM527.5 153.0h14.7v14.7h-14.7zM900.0 153.0h14.7v14.7h-14.7zM914.4 153.0h14.7v14.7h-14.7zM928.7 153.0h14.7v14.7h-14.7zM943.0 153.0h14.7v14.7h-14.7zM957.4 153.0h14.7v14.7h-14.7zM971.7 153.0h14.7v14.7h-14.7zM986.0 153.0h14.7v14.7h-14.7zM1000.3 153.0h14.7v14.7h-14.7zM1014.7 153.0h14.7v14.7h-14.7zM112.0 167.3h14.7v14.7h-14.7zM126.3 167.3h14.7v14.7h-14.7zM140.7 167.3h14.7v14.7h-14.7zM155.0 167.3h14.7v14.7h-14.7zM169.3 167.3h14.7v14.7h-14.7zM885.7 167.3h14.7v14.7h-14.7zM900.0 167.3h14.7v14.7h-14.7zM914.4 167.3h14.7v14.7h-14.7zM928.7 167.3h14.7v14.7h-14.7zM943.0 167.3h14.7v14.7h-14.7zM957.4 167.3h14.7v14.7h-14.7zM971.7 167.3h14.7v14.7h-14.7zM986.0 167.3h14.7v14.7h-14.7zM1000.3 167.3h14.7v14.7h-14.7zM1014.7 167.3h14.7v14.7h-14.7zM112.0 181.6h14.7v14.7h-14.7zM126.3 181.6h14.7v14.7h-14.7zM140.7 181.6h14.7v14.7h-14.7zM155.0 181.6h14.7v14.7h-14.7zM169.3 181.6h14.7v14.7h-14.7zM183.6 181.6h14.7v14.7h-14.7zM513.2 181.6h14.7v14.7h-14.7zM885.7 181.6h14.7v14.7h-14.7zM900.0 181.6h14.7v14.7h-14.7zM914.4 181.6h14.7v14.7h-14.7zM928.7 181.6h14.7v14.7h-14.7zM943.0 181.6h14.7v14.7h-14.7zM957.4 181.6h14.7v14.7h-14.7zM971.7 181.6h14.7v14.7h-14.7zM986.0 181.6h14.7v14.7h-14.7zM1000.3 181.6h14.7v14.7h-14.7zM1014.7 181.6h14.7v14.7h-14.7zM112.0 196.0h14.7v14.7h-14.7zM126.3 196.0h14.7v14.7h-14.7zM140.7 196.0h14.7v14.7h-14.7zM155.0 196.0h14.7v14.7h-14.7zM169.3 196.0h14.7v14.7h-14.7zM183.6 196.0h14.7v14.7h-14.7zM198.0 196.0h14.7v14.7h-14.7zM212.3 196.0h14.7v14.7h-14.7zM857.1 196.0h14.7v14.7h-14.7zM871.4 196.0h14.7v14.7h-14.7zM885.7 196.0h14.7v14.7h-14.7zM112.0 210.3h14.7v14.7h-14.7zM126.3 210.3h14.7v14.7h-14.7zM140.7 210.3h14.7v14.7h-14.7zM155.0 210.3h14.7v14.7h-14.7zM298.3 210.3h14.7v14.7h-14.7zM842.7 210.3h14.7v14.7h-14.7zM857.1 210.3h14.7v14.7h-14.7zM112.0 224.6h14.7v14.7h-14.7zM126.3 224.6h14.7v14.7h-14.7zM140.7 224.6h14.7v14.7h-14.7zM155.0 224.6h14.7v14.7h-14.7zM828.4 224.6h14.7v14.7h-14.7zM112.0 238.9h14.7v14.7h-14.7zM126.3 238.9h14.7v14.7h-14.7zM140.7 238.9h14.7v14.7h-14.7zM155.0 238.9h14.7v14.7h-14.7zM828.4 238.9h14.7v14.7h-14.7zM112.0 253.3h14.7v14.7h-14.7zM126.3 253.3h14.7v14.7h-14.7zM140.7 253.3h14.7v14.7h-14.7zM155.0 253.3h14.7v14.7h-14.7zM814.1 253.3h14.7v14.7h-14.7zM112.0 267.6h14.7v14.7h-14.7zM126.3 267.6h14.7v14.7h-14.7zM140.7 267.6h14.7v14.7h-14.7zM155.0 267.6h14.7v14.7h-14.7zM814.1 267.6h14.7v14.7h-14.7zM155.0 281.9h14.7v14.7h-14.7zM713.8 281.9h14.7v14.7h-14.7zM771.1 281.9h14.7v14.7h-14.7zM785.4 281.9h14.7v14.7h-14.7zM699.5 296.2h14.7v14.7h-14.7zM785.4 296.2h14.7v14.7h-14.7zM842.7 296.2h14.7v14.7h-14.7zM169.3 310.6h14.7v14.7h-14.7zM785.4 310.6h14.7v14.7h-14.7zM842.7 310.6h14.7v14.7h-14.7zM298.3 324.9h14.7v14.7h-14.7zM183.6 339.2h14.7v14.7h-14.7zM412.9 339.2h14.7v14.7h-14.7zM814.1 339.2h14.7v14.7h-14.7zM828.4 339.2h14.7v14.7h-14.7zM183.6 353.6h14.7v14.7h-14.7zM412.9 353.6h14.7v14.7h-14.7zM427.2 353.6h14.7v14.7h-14.7zM312.6 367.9h14.7v14.7h-14.7zM427.2 367.9h14.7v14.7h-14.7zM198.0 382.2h14.7v14.7h-14.7zM928.7 425.2h14.7v14.7h-14.7zM226.6 439.5h14.7v14.7h-14.7zM384.2 439.5h14.7v14.7h-14.7zM212.3 468.2h14.7v14.7h-14.7zM355.6 482.5h14.7v14.7h-14.7zM355.6 496.8h14.7v14.7h-14.7zM212.3 525.5h14.7v14.7h-14.7zM914.4 539.8h14.7v14.7h-14.7zM928.7 539.8h14.7v14.7h-14.7zM943.0 539.8h14.7v14.7h-14.7zM957.4 539.8h14.7v14.7h-14.7zM971.7 539.8h14.7v14.7h-14.7zM986.0 539.8h14.7v14.7h-14.7zM1000.3 539.8h14.7v14.7h-14.7zM1014.7 539.8h14.7v14.7h-14.7zM126.3 554.2h14.7v14.7h-14.7zM771.1 554.2h14.7v14.7h-14.7zM900.0 554.2h14.7v14.7h-14.7zM900.0 568.5h14.7v14.7h-14.7zM326.9 597.1h14.7v14.7h-14.7zM785.4 597.1h14.7v14.7h-14.7zM283.9 611.5h14.7v14.7h-14.7zM914.4 611.5h14.7v14.7h-14.7zM269.6 668.8h14.7v14.7h-14.7zM928.7 711.8h14.7v14.7h-14.7zM928.7 726.1h14.7v14.7h-14.7zM341.2 740.4h14.7v14.7h-14.7zM928.7 740.4h14.7v14.7h-14.7zM341.2 754.8h14.7v14.7h-14.7zM570.5 754.8h14.7v14.7h-14.7zM928.7 754.8h14.7v14.7h-14.7zM613.5 769.1h14.7v14.7h-14.7zM627.8 769.1h14.7v14.7h-14.7zM943.0 769.1h14.7v14.7h-14.7zM943.0 783.4h14.7v14.7h-14.7zM943.0 797.7h14.7v14.7h-14.7zM957.4 797.7h14.7v14.7h-14.7zM785.4 812.1h14.7v14.7h-14.7zM943.0 812.1h14.7v14.7h-14.7zM957.4 812.1h14.7v14.7h-14.7zM871.4 826.4h14.7v14.7h-14.7zM943.0 826.4h14.7v14.7h-14.7zM957.4 826.4h14.7v14.7h-14.7zM971.7 826.4h14.7v14.7h-14.7zM384.2 840.7h14.7v14.7h-14.7zM943.0 840.7h14.7v14.7h-14.7zM957.4 840.7h14.7v14.7h-14.7zM971.7 840.7h14.7v14.7h-14.7zM986.0 840.7h14.7v14.7h-14.7zM1000.3 840.7h14.7v14.7h-14.7zM1014.7 840.7h14.7v14.7h-14.7zM384.2 855.0h14.7v14.7h-14.7zM885.7 855.0h14.7v14.7h-14.7zM943.0 855.0h14.7v14.7h-14.7zM957.4 855.0h14.7v14.7h-14.7zM971.7 855.0h14.7v14.7h-14.7zM986.0 855.0h14.7v14.7h-14.7zM1000.3 855.0h14.7v14.7h-14.7zM1014.7 855.0h14.7v14.7h-14.7zM384.2 869.4h14.7v14.7h-14.7zM455.9 869.4h14.7v14.7h-14.7zM885.7 869.4h14.7v14.7h-14.7zM928.7 869.4h14.7v14.7h-14.7zM943.0 869.4h14.7v14.7h-14.7zM957.4 869.4h14.7v14.7h-14.7zM971.7 869.4h14.7v14.7h-14.7zM986.0 869.4h14.7v14.7h-14.7zM1000.3 869.4h14.7v14.7h-14.7zM1014.7 869.4h14.7v14.7h-14.7zM112.0 883.7h14.7v14.7h-14.7zM384.2 883.7h14.7v14.7h-14.7zM885.7 883.7h14.7v14.7h-14.7zM914.4 883.7h14.7v14.7h-14.7zM928.7 883.7h14.7v14.7h-14.7zM943.0 883.7h14.7v14.7h-14.7zM957.4 883.7h14.7v14.7h-14.7zM971.7 883.7h14.7v14.7h-14.7zM986.0 883.7h14.7v14.7h-14.7zM1000.3 883.7h14.7v14.7h-14.7zM1014.7 883.7h14.7v14.7h-14.7zM112.0 898.0h14.7v14.7h-14.7zM126.3 898.0h14.7v14.7h-14.7zM140.7 898.0h14.7v14.7h-14.7zM283.9 898.0h14.7v14.7h-14.7zM298.3 898.0h14.7v14.7h-14.7zM312.6 898.0h14.7v14.7h-14.7zM326.9 898.0h14.7v14.7h-14.7zM341.2 898.0h14.7v14.7h-14.7zM355.6 898.0h14.7v14.7h-14.7zM369.9 898.0h14.7v14.7h-14.7zM384.2 898.0h14.7v14.7h-14.7zM427.2 898.0h14.7v14.7h-14.7zM441.5 898.0h14.7v14.7h-14.7zM885.7 898.0h14.7v14.7h-14.7zM900.0 898.0h14.7v14.7h-14.7zM914.4 898.0h14.7v14.7h-14.7zM928.7 898.0h14.7v14.7h-14.7zM943.0 898.0h14.7v14.7h-14.7zM957.4 898.0h14.7v14.7h-14.7zM971.7 898.0h14.7v14.7h-14.7zM986.0 898.0h14.7v14.7h-14.7zM1000.3 898.0h14.7v14.7h-14.7zM1014.7 898.0h14.7v14.7h-14.7zM112.0 912.4h14.7v14.7h-14.7zM126.3 912.4h14.7v14.7h-14.7zM140.7 912.4h14.7v14.7h-14.7zM155.0 912.4h14.7v14.7h-14.7zM269.6 912.4h14.7v14.7h-14.7zM283.9 912.4h14.7v14.7h-14.7zM298.3 912.4h14.7v14.7h-14.7zM312.6 912.4h14.7v14.7h-14.7zM326.9 912.4h14.7v14.7h-14.7zM341.2 912.4h14.7v14.7h-14.7zM355.6 912.4h14.7v14.7h-14.7zM369.9 912.4h14.7v14.7h-14.7zM384.2 912.4h14.7v14.7h-14.7zM398.6 912.4h14.7v14.7h-14.7zM412.9 912.4h14.7v14.7h-14.7zM427.2 912.4h14.7v14.7h-14.7zM441.5 912.4h14.7v14.7h-14.7zM885.7 912.4h14.7v14.7h-14.7zM900.0 912.4h14.7v14.7h-14.7zM914.4 912.4h14.7v14.7h-14.7zM928.7 912.4h14.7v14.7h-14.7zM943.0 912.4h14.7v14.7h-14.7zM957.4 912.4h14.7v14.7h-14.7zM971.7 912.4h14.7v14.7h-14.7zM986.0 912.4h14.7v14.7h-14.7zM1000.3 912.4h14.7v14.7h-14.7zM1014.7 912.4h14.7v14.7h-14.7zM112.0 926.7h14.7v14.7h-14.7zM126.3 926.7h14.7v14.7h-14.7zM140.7 926.7h14.7v14.7h-14.7zM155.0 926.7h14.7v14.7h-14.7zM169.3 926.7h14.7v14.7h-14.7zM183.6 926.7h14.7v14.7h-14.7zM198.0 926.7h14.7v14.7h-14.7zM212.3 926.7h14.7v14.7h-14.7zM226.6 926.7h14.7v14.7h-14.7zM241.0 926.7h14.7v14.7h-14.7zM255.3 926.7h14.7v14.7h-14.7zM269.6 926.7h14.7v14.7h-14.7zM283.9 926.7h14.7v14.7h-14.7zM298.3 926.7h14.7v14.7h-14.7zM312.6 926.7h14.7v14.7h-14.7zM326.9 926.7h14.7v14.7h-14.7zM341.2 926.7h14.7v14.7h-14.7zM355.6 926.7h14.7v14.7h-14.7zM369.9 926.7h14.7v14.7h-14.7zM384.2 926.7h14.7v14.7h-14.7zM398.6 926.7h14.7v14.7h-14.7zM412.9 926.7h14.7v14.7h-14.7zM427.2 926.7h14.7v14.7h-14.7zM441.5 926.7h14.7v14.7h-14.7zM742.4 926.7h14.7v14.7h-14.7zM871.4 926.7h14.7v14.7h-14.7zM885.7 926.7h14.7v14.7h-14.7zM900.0 926.7h14.7v14.7h-14.7zM914.4 926.7h14.7v14.7h-14.7zM928.7 926.7h14.7v14.7h-14.7zM943.0 926.7h14.7v14.7h-14.7zM957.4 926.7h14.7v14.7h-14.7zM971.7 926.7h14.7v14.7h-14.7zM986.0 926.7h14.7v14.7h-14.7zM1000.3 926.7h14.7v14.7h-14.7zM1014.7 926.7h14.7v14.7h-14.7zM112.0 941.0h14.7v14.7h-14.7zM126.3 941.0h14.7v14.7h-14.7zM140.7 941.0h14.7v14.7h-14.7zM155.0 941.0h14.7v14.7h-14.7zM169.3 941.0h14.7v14.7h-14.7zM183.6 941.0h14.7v14.7h-14.7zM198.0 941.0h14.7v14.7h-14.7zM212.3 941.0h14.7v14.7h-14.7zM226.6 941.0h14.7v14.7h-14.7zM241.0 941.0h14.7v14.7h-14.7zM255.3 941.0h14.7v14.7h-14.7zM269.6 941.0h14.7v14.7h-14.7zM283.9 941.0h14.7v14.7h-14.7zM298.3 941.0h14.7v14.7h-14.7zM312.6 941.0h14.7v14.7h-14.7zM326.9 941.0h14.7v14.7h-14.7zM341.2 941.0h14.7v14.7h-14.7zM355.6 941.0h14.7v14.7h-14.7zM369.9 941.0h14.7v14.7h-14.7zM384.2 941.0h14.7v14.7h-14.7zM398.6 941.0h14.7v14.7h-14.7zM412.9 941.0h14.7v14.7h-14.7zM427.2 941.0h14.7v14.7h-14.7zM441.5 941.0h14.7v14.7h-14.7zM756.8 941.0h14.7v14.7h-14.7zM857.1 941.0h14.7v14.7h-14.7zM871.4 941.0h14.7v14.7h-14.7zM885.7 941.0h14.7v14.7h-14.7zM900.0 941.0h14.7v14.7h-14.7zM914.4 941.0h14.7v14.7h-14.7zM928.7 941.0h14.7v14.7h-14.7zM943.0 941.0h14.7v14.7h-14.7zM957.4 941.0h14.7v14.7h-14.7zM971.7 941.0h14.7v14.7h-14.7zM986.0 941.0h14.7v14.7h-14.7zM1000.3 941.0h14.7v14.7h-14.7zM1014.7 941.0h14.7v14.7h-14.7zM112.0 955.3h14.7v14.7h-14.7zM126.3 955.3h14.7v14.7h-14.7zM140.7 955.3h14.7v14.7h-14.7zM155.0 955.3h14.7v14.7h-14.7zM169.3 955.3h14.7v14.7h-14.7zM183.6 955.3h14.7v14.7h-14.7zM198.0 955.3h14.7v14.7h-14.7zM212.3 955.3h14.7v14.7h-14.7zM226.6 955.3h14.7v14.7h-14.7zM241.0 955.3h14.7v14.7h-14.7zM255.3 955.3h14.7v14.7h-14.7zM269.6 955.3h14.7v14.7h-14.7zM283.9 955.3h14.7v14.7h-14.7zM298.3 955.3h14.7v14.7h-14.7zM312.6 955.3h14.7v14.7h-14.7zM326.9 955.3h14.7v14.7h-14.7zM341.2 955.3h14.7v14.7h-14.7zM355.6 955.3h14.7v14.7h-14.7zM369.9 955.3h14.7v14.7h-14.7zM384.2 955.3h14.7v14.7h-14.7zM398.6 955.3h14.7v14.7h-14.7zM412.9 955.3h14.7v14.7h-14.7zM427.2 955.3h14.7v14.7h-14.7zM441.5 955.3h14.7v14.7h-14.7zM785.4 955.3h14.7v14.7h-14.7zM799.8 955.3h14.7v14.7h-14.7zM814.1 955.3h14.7v14.7h-14.7zM828.4 955.3h14.7v14.7h-14.7zM842.7 955.3h14.7v14.7h-14.7zM857.1 955.3h14.7v14.7h-14.7zM871.4 955.3h14.7v14.7h-14.7zM885.7 955.3h14.7v14.7h-14.7zM900.0 955.3h14.7v14.7h-14.7zM914.4 955.3h14.7v14.7h-14.7zM928.7 955.3h14.7v14.7h-14.7zM943.0 955.3h14.7v14.7h-14.7zM957.4 955.3h14.7v14.7h-14.7zM971.7 955.3h14.7v14.7h-14.7zM986.0 955.3h14.7v14.7h-14.7zM1000.3 955.3h14.7v14.7h-14.7zM1014.7 955.3h14.7v14.7h-14.7zM112.0 969.7h14.7v14.7h-14.7zM126.3 969.7h14.7v14.7h-14.7zM140.7 969.7h14.7v14.7h-14.7zM155.0 969.7h14.7v14.7h-14.7zM169.3 969.7h14.7v14.7h-14.7zM183.6 969.7h14.7v14.7h-14.7zM198.0 969.7h14.7v14.7h-14.7zM212.3 969.7h14.7v14.7h-14.7zM226.6 969.7h14.7v14.7h-14.7zM241.0 969.7h14.7v14.7h-14.7zM255.3 969.7h14.7v14.7h-14.7zM269.6 969.7h14.7v14.7h-14.7zM283.9 969.7h14.7v14.7h-14.7zM298.3 969.7h14.7v14.7h-14.7zM312.6 969.7h14.7v14.7h-14.7zM326.9 969.7h14.7v14.7h-14.7zM341.2 969.7h14.7v14.7h-14.7zM355.6 969.7h14.7v14.7h-14.7zM369.9 969.7h14.7v14.7h-14.7zM384.2 969.7h14.7v14.7h-14.7zM398.6 969.7h14.7v14.7h-14.7zM412.9 969.7h14.7v14.7h-14.7zM427.2 969.7h14.7v14.7h-14.7zM441.5 969.7h14.7v14.7h-14.7zM828.4 969.7h14.7v14.7h-14.7zM842.7 969.7h14.7v14.7h-14.7zM857.1 969.7h14.7v14.7h-14.7zM871.4 969.7h14.7v14.7h-14.7zM885.7 969.7h14.7v14.7h-14.7zM900.0 969.7h14.7v14.7h-14.7zM914.4 969.7h14.7v14.7h-14.7zM928.7 969.7h14.7v14.7h-14.7zM943.0 969.7h14.7v14.7h-14.7zM957.4 969.7h14.7v14.7h-14.7zM971.7 969.7h14.7v14.7h-14.7zM986.0 969.7h14.7v14.7h-14.7zM1000.3 969.7h14.7v14.7h-14.7zM1014.7 969.7h14.7v14.7h-14.7z"/><path fill="rgb(93,93,93)" d="M283.9 67.0h14.7v14.7h-14.7zM412.9 67.0h14.7v14.7h-14.7zM828.4 67.0h14.7v14.7h-14.7zM212.3 81.3h14.7v14.7h-14.7zM226.6 81.3h14.7v14.7h-14.7zM241.0 81.3h14.7v14.7h-14.7zM255.3 81.3h14.7v14.7h-14.7zM269.6 81.3h14.7v14.7h-14.7zM828.4 81.3h14.7v14.7h-14.7zM842.7 81.3h14.7v14.7h-14.7zM198.0 95.7h14.7v14.7h-14.7zM398.6 95.7h14.7v14.7h-14.7zM857.1 95.7h14.7v14.7h-14.7zM871.4 95.7h14.7v14.7h-14.7zM183.6 110.0h14.7v14.7h-14.7zM541.8 110.0h14.7v14.7h-14.7zM871.4 110.0h14.7v14.7h-14.7zM183.6 124.3h14.7v14.7h-14.7zM871.4 124.3h14.7v14.7h-14.7zM885.7 124.3h14.7v14.7h-14.7zM183.6 138.6h14.7v14.7h-14.7zM885.7 138.6h14.7v14.7h-14.7zM183.6 153.0h14.7v14.7h-14.7zM885.7 153.0h14.7v14.7h-14.7zM183.6 167.3h14.7v14.7h-14.7zM871.4 167.3h14.7v14.7h-14.7zM198.0 181.6h14.7v14.7h-14.7zM871.4 181.6h14.7v14.7h-14.7zM226.6 196.0h14.7v14.7h-14.7zM241.0 196.0h14.7v14.7h-14.7zM355.6 196.0h14.7v14.7h-14.7zM842.7 196.0h14.7v14.7h-14.7zM312.6 210.3h14.7v14.7h-14.7zM326.9 210.3h14.7v14.7h-14.7zM341.2 210.3h14.7v14.7h-14.7zM828.4 210.3h14.7v14.7h-14.7zM814.1 238.9h14.7v14.7h-14.7zM799.8 253.3h14.7v14.7h-14.7zM728.1 267.6h14.7v14.7h-14.7zM742.4 267.6h14.7v14.7h-14.7zM756.8 267.6h14.7v14.7h-14.7zM771.1 267.6h14.7v14.7h-14.7zM785.4 267.6h14.7v14.7h-14.7zM799.8 267.6h14.7v14.7h-14.7zM112.0 281.9h14.7v14.7h-14.7zM126.3 281.9h14.7v14.7h-14.7zM140.7 281.9h14.7v14.7h-14.7zM326.9 281.9h14.7v14.7h-14.7zM799.8 281.9h14.7v14.7h-14.7zM814.1 281.9h14.7v14.7h-14.7zM828.4 281.9h14.7v14.7h-14.7zM112.0 296.2h14.7v14.7h-14.7zM126.3 296.2h14.7v14.7h-14.7zM140.7 296.2h14.7v14.7h-14.7zM155.0 296.2h14.7v14.7h-14.7zM112.0 310.6h14.7v14.7h-14.7zM155.0 310.6h14.7v14.7h-14.7zM169.3 324.9h14.7v14.7h-14.7zM799.8 324.9h14.7v14.7h-14.7zM326.9 382.2h14.7v14.7h-14.7zM427.2 382.2h14.7v14.7h-14.7zM212.3 410.9h14.7v14.7h-14.7zM412.9 410.9h14.7v14.7h-14.7zM398.6 425.2h14.7v14.7h-14.7zM198.0 482.5h14.7v14.7h-14.7zM198.0 496.8h14.7v14.7h-14.7zM713.8 496.8h14.7v14.7h-14.7zM112.0 539.8h14.7v14.7h-14.7zM212.3 539.8h14.7v14.7h-14.7zM756.8 539.8h14.7v14.7h-14.7zM212.3 554.2h14.7v14.7h-14.7zM1014.7 554.2h14.7v14.7h-14.7zM312.6 597.1h14.7v14.7h-14.7zM341.2 597.1h14.7v14.7h-14.7zM914.4 597.1h14.7v14.7h-14.7zM785.4 611.5h14.7v14.7h-14.7zM928.7 625.8h14.7v14.7h-14.7zM943.0 640.1h14.7v14.7h-14.7zM713.8 654.5h14.7v14.7h-14.7zM957.4 668.8h14.7v14.7h-14.7zM957.4 683.1h14.7v14.7h-14.7zM943.0 697.4h14.7v14.7h-14.7zM298.3 711.8h14.7v14.7h-14.7zM326.9 726.1h14.7v14.7h-14.7zM656.5 754.8h14.7v14.7h-14.7zM943.0 754.8h14.7v14.7h-14.7zM957.4 769.1h14.7v14.7h-14.7zM1014.7 769.1h14.7v14.7h-14.7zM355.6 783.4h14.7v14.7h-14.7zM957.4 783.4h14.7v14.7h-14.7zM971.7 783.4h14.7v14.7h-14.7zM986.0 783.4h14.7v14.7h-14.7zM1000.3 783.4h14.7v14.7h-14.7zM1014.7 783.4h14.7v14.7h-14.7zM971.7 797.7h14.7v14.7h-14.7zM986.0 797.7h14.7v14.7h-14.7zM1000.3 797.7h14.7v14.7h-14.7zM1014.7 797.7h14.7v14.7h-14.7zM369.9 812.1h14.7v14.7h-14.7zM857.1 812.1h14.7v14.7h-14.7zM971.7 812.1h14.7v14.7h-14.7zM986.0 812.1h14.7v14.7h-14.7zM1000.3 812.1h14.7v14.7h-14.7zM1014.7 812.1h14.7v14.7h-14.7zM771.1 826.4h14.7v14.7h-14.7zM986.0 826.4h14.7v14.7h-14.7zM1000.3 826.4h14.7v14.7h-14.7zM1014.7 826.4h14.7v14.7h-14.7zM455.9 855.0h14.7v14.7h-14.7zM398.6 883.7h14.7v14.7h-14.7zM441.5 883.7h14.7v14.7h-14.7zM398.6 898.0h14.7v14.7h-14.7zM412.9 898.0h14.7v14.7h-14.7zM871.4 898.0h14.7v14.7h-14.7zM742.4 912.4h14.7v14.7h-14.7zM871.4 912.4h14.7v14.7h-14.7zM857.1 926.7h14.7v14.7h-14.7zM771.1 941.0h14.7v14.7h-14.7zM814.1 941.0h14.7v14.7h-14.7zM828.4 941.0h14.7v14.7h-14.7zM842.7 941.0h14.7v14.7h-14.7z"/><path fill="rgb(94,94,94)" d="M298.3 67.0h14.7v14.7h-14.7zM814.1 67.0h14.7v14.7h-14.7zM283.9 81.3h14.7v14.7h-14.7zM298.3 81.3h14.7v14.7h-14.7zM212.3 95.7h14.7v14.7h-14.7zM541.8 95.7h14.7v14.7h-14.7zM842.7 95.7h14.7v14.7h-14.7zM198.0 110.0h14.7v14.7h-14.7zM384.2 110.0h14.7v14.7h-14.7zM857.1 110.0h14.7v14.7h-14.7zM871.4 138.6h14.7v14.7h-14.7zM871.4 153.0h14.7v14.7h-14.7zM198.0 167.3h14.7v14.7h-14.7zM857.1 181.6h14.7v14.7h-14.7zM255.3 196.0h14.7v14.7h-14.7zM269.6 196.0h14.7v14.7h-14.7zM814.1 224.6h14.7v14.7h-14.7zM498.9 253.3h14.7v14.7h-14.7zM785.4 253.3h14.7v14.7h-14.7zM713.8 267.6h14.7v14.7h-14.7zM369.9 281.9h14.7v14.7h-14.7zM699.5 281.9h14.7v14.7h-14.7zM799.8 296.2h14.7v14.7h-14.7zM814.1 296.2h14.7v14.7h-14.7zM828.4 296.2h14.7v14.7h-14.7zM126.3 310.6h14.7v14.7h-14.7zM140.7 310.6h14.7v14.7h-14.7zM670.8 310.6h14.7v14.7h-14.7zM799.8 310.6h14.7v14.7h-14.7zM828.4 310.6h14.7v14.7h-14.7zM112.0 324.9h14.7v14.7h-14.7zM126.3 324.9h14.7v14.7h-14.7zM155.0 324.9h14.7v14.7h-14.7zM656.5 324.9h14.7v14.7h-14.7zM814.1 324.9h14.7v14.7h-14.7zM828.4 324.9h14.7v14.7h-14.7zM169.3 339.2h14.7v14.7h-14.7zM183.6 367.9h14.7v14.7h-14.7zM642.1 367.9h14.7v14.7h-14.7zM355.6 382.2h14.7v14.7h-14.7zM642.1 382.2h14.7v14.7h-14.7zM427.2 396.5h14.7v14.7h-14.7zM642.1 396.5h14.7v14.7h-14.7zM642.1 410.9h14.7v14.7h-14.7zM212.3 453.9h14.7v14.7h-14.7zM369.9 468.2h14.7v14.7h-14.7zM656.5 468.2h14.7v14.7h-14.7zM126.3 539.8h14.7v14.7h-14.7zM914.4 554.2h14.7v14.7h-14.7zM928.7 554.2h14.7v14.7h-14.7zM957.4 554.2h14.7v14.7h-14.7zM971.7 554.2h14.7v14.7h-14.7zM986.0 554.2h14.7v14.7h-14.7zM1000.3 554.2h14.7v14.7h-14.7zM140.7 568.5h14.7v14.7h-14.7zM771.1 568.5h14.7v14.7h-14.7zM914.4 568.5h14.7v14.7h-14.7zM1014.7 568.5h14.7v14.7h-14.7zM155.0 582.8h14.7v14.7h-14.7zM914.4 582.8h14.7v14.7h-14.7zM957.4 654.5h14.7v14.7h-14.7zM283.9 697.4h14.7v14.7h-14.7zM957.4 697.4h14.7v14.7h-14.7zM943.0 711.8h14.7v14.7h-14.7zM943.0 726.1h14.7v14.7h-14.7zM1014.7 726.1h14.7v14.7h-14.7zM943.0 740.4h14.7v14.7h-14.7zM957.4 740.4h14.7v14.7h-14.7zM1000.3 740.4h14.7v14.7h-14.7zM1014.7 740.4h14.7v14.7h-14.7zM513.2 754.8h14.7v14.7h-14.7zM957.4 754.8h14.7v14.7h-14.7zM971.7 754.8h14.7v14.7h-14.7zM986.0 754.8h14.7v14.7h-14.7zM1000.3 754.8h14.7v14.7h-14.7zM1014.7 754.8h14.7v14.7h-14.7zM971.7 769.1h14.7v14.7h-14.7zM986.0 769.1h14.7v14.7h-14.7zM1000.3 769.1h14.7v14.7h-14.7zM871.4 840.7h14.7v14.7h-14.7zM871.4 855.0h14.7v14.7h-14.7zM398.6 869.4h14.7v14.7h-14.7zM441.5 869.4h14.7v14.7h-14.7zM871.4 869.4h14.7v14.7h-14.7zM412.9 883.7h14.7v14.7h-14.7zM427.2 883.7h14.7v14.7h-14.7zM742.4 883.7h14.7v14.7h-14.7zM871.4 883.7h14.7v14.7h-14.7zM742.4 898.0h14.7v14.7h-14.7zM857.1 912.4h14.7v14.7h-14.7zM842.7 926.7h14.7v14.7h-14.7zM785.4 941.0h14.7v14.7h-14.7zM799.8 941.0h14.7v14.7h-14.7z"/><path fill="rgb(95,95,95)" d="M541.8 67.0h14.7v14.7h-14.7zM541.8 81.3h14.7v14.7h-14.7zM814.1 81.3h14.7v14.7h-14.7zM226.6 95.7h14.7v14.7h-14.7zM828.4 95.7h14.7v14.7h-14.7zM212.3 110.0h14.7v14.7h-14.7zM842.7 110.0h14.7v14.7h-14.7zM198.0 124.3h14.7v14.7h-14.7zM556.2 124.3h14.7v14.7h-14.7zM857.1 124.3h14.7v14.7h-14.7zM198.0 138.6h14.7v14.7h-14.7zM556.2 138.6h14.7v14.7h-14.7zM198.0 153.0h14.7v14.7h-14.7zM857.1 167.3h14.7v14.7h-14.7zM212.3 181.6h14.7v14.7h-14.7zM355.6 181.6h14.7v14.7h-14.7zM842.7 181.6h14.7v14.7h-14.7zM283.9 196.0h14.7v14.7h-14.7zM828.4 196.0h14.7v14.7h-14.7zM799.8 238.9h14.7v14.7h-14.7zM771.1 253.3h14.7v14.7h-14.7zM312.6 296.2h14.7v14.7h-14.7zM685.1 296.2h14.7v14.7h-14.7zM814.1 310.6h14.7v14.7h-14.7zM140.7 324.9h14.7v14.7h-14.7zM112.0 339.2h14.7v14.7h-14.7zM126.3 339.2h14.7v14.7h-14.7zM155.0 339.2h14.7v14.7h-14.7zM441.5 339.2h14.7v14.7h-14.7zM112.0 353.6h14.7v14.7h-14.7zM169.3 353.6h14.7v14.7h-14.7zM312.6 353.6h14.7v14.7h-14.7zM384.2 367.9h14.7v14.7h-14.7zM341.2 382.2h14.7v14.7h-14.7zM198.0 396.5h14.7v14.7h-14.7zM212.3 425.2h14.7v14.7h-14.7zM642.1 425.2h14.7v14.7h-14.7zM212.3 439.5h14.7v14.7h-14.7zM198.0 468.2h14.7v14.7h-14.7zM670.8 482.5h14.7v14.7h-14.7zM198.0 511.2h14.7v14.7h-14.7zM728.1 511.2h14.7v14.7h-14.7zM742.4 525.5h14.7v14.7h-14.7zM943.0 554.2h14.7v14.7h-14.7zM986.0 568.5h14.7v14.7h-14.7zM1000.3 568.5h14.7v14.7h-14.7zM1014.7 582.8h14.7v14.7h-14.7zM355.6 597.1h14.7v14.7h-14.7zM928.7 611.5h14.7v14.7h-14.7zM943.0 625.8h14.7v14.7h-14.7zM756.8 640.1h14.7v14.7h-14.7zM957.4 640.1h14.7v14.7h-14.7zM971.7 654.5h14.7v14.7h-14.7zM699.5 668.8h14.7v14.7h-14.7zM971.7 668.8h14.7v14.7h-14.7zM971.7 683.1h14.7v14.7h-14.7zM1014.7 683.1h14.7v14.7h-14.7zM685.1 697.4h14.7v14.7h-14.7zM971.7 697.4h14.7v14.7h-14.7zM1014.7 697.4h14.7v14.7h-14.7zM957.4 711.8h14.7v14.7h-14.7zM971.7 711.8h14.7v14.7h-14.7zM1000.3 711.8h14.7v14.7h-14.7zM1014.7 711.8h14.7v14.7h-14.7zM341.2 726.1h14.7v14.7h-14.7zM670.8 726.1h14.7v14.7h-14.7zM957.4 726.1h14.7v14.7h-14.7zM971.7 726.1h14.7v14.7h-14.7zM986.0 726.1h14.7v14.7h-14.7zM1000.3 726.1h14.7v14.7h-14.7zM541.8 740.4h14.7v14.7h-14.7zM971.7 740.4h14.7v14.7h-14.7zM986.0 740.4h14.7v14.7h-14.7zM355.6 769.1h14.7v14.7h-14.7zM484.5 812.1h14.7v14.7h-14.7zM384.2 826.4h14.7v14.7h-14.7zM398.6 855.0h14.7v14.7h-14.7zM756.8 855.0h14.7v14.7h-14.7zM412.9 869.4h14.7v14.7h-14.7zM427.2 869.4h14.7v14.7h-14.7zM756.8 926.7h14.7v14.7h-14.7zM828.4 926.7h14.7v14.7h-14.7z"/><path fill="rgb(96,96,96)" d="M312.6 67.0h14.7v14.7h-14.7zM241.0 95.7h14.7v14.7h-14.7zM255.3 95.7h14.7v14.7h-14.7zM269.6 95.7h14.7v14.7h-14.7zM283.9 95.7h14.7v14.7h-14.7zM814.1 95.7h14.7v14.7h-14.7zM828.4 110.0h14.7v14.7h-14.7zM369.9 124.3h14.7v14.7h-14.7zM857.1 138.6h14.7v14.7h-14.7zM355.6 153.0h14.7v14.7h-14.7zM541.8 153.0h14.7v14.7h-14.7zM857.1 153.0h14.7v14.7h-14.7zM355.6 167.3h14.7v14.7h-14.7zM527.5 167.3h14.7v14.7h-14.7zM226.6 181.6h14.7v14.7h-14.7zM298.3 196.0h14.7v14.7h-14.7zM312.6 196.0h14.7v14.7h-14.7zM341.2 196.0h14.7v14.7h-14.7zM513.2 196.0h14.7v14.7h-14.7zM814.1 210.3h14.7v14.7h-14.7zM728.1 253.3h14.7v14.7h-14.7zM742.4 253.3h14.7v14.7h-14.7zM756.8 253.3h14.7v14.7h-14.7zM699.5 267.6h14.7v14.7h-14.7zM398.6 310.6h14.7v14.7h-14.7zM140.7 339.2h14.7v14.7h-14.7zM126.3 353.6h14.7v14.7h-14.7zM155.0 353.6h14.7v14.7h-14.7zM642.1 353.6h14.7v14.7h-14.7zM112.0 367.9h14.7v14.7h-14.7zM169.3 367.9h14.7v14.7h-14.7zM183.6 382.2h14.7v14.7h-14.7zM384.2 453.9h14.7v14.7h-14.7zM699.5 496.8h14.7v14.7h-14.7zM369.9 539.8h14.7v14.7h-14.7zM140.7 554.2h14.7v14.7h-14.7zM369.9 554.2h14.7v14.7h-14.7zM756.8 554.2h14.7v14.7h-14.7zM928.7 568.5h14.7v14.7h-14.7zM943.0 568.5h14.7v14.7h-14.7zM957.4 568.5h14.7v14.7h-14.7zM971.7 568.5h14.7v14.7h-14.7zM183.6 582.8h14.7v14.7h-14.7zM928.7 582.8h14.7v14.7h-14.7zM1000.3 582.8h14.7v14.7h-14.7zM928.7 597.1h14.7v14.7h-14.7zM1014.7 597.1h14.7v14.7h-14.7zM1014.7 611.5h14.7v14.7h-14.7zM283.9 625.8h14.7v14.7h-14.7zM1014.7 625.8h14.7v14.7h-14.7zM742.4 640.1h14.7v14.7h-14.7zM971.7 640.1h14.7v14.7h-14.7zM1014.7 640.1h14.7v14.7h-14.7zM1014.7 654.5h14.7v14.7h-14.7zM986.0 668.8h14.7v14.7h-14.7zM1000.3 668.8h14.7v14.7h-14.7zM1014.7 668.8h14.7v14.7h-14.7zM986.0 683.1h14.7v14.7h-14.7zM1000.3 683.1h14.7v14.7h-14.7zM986.0 697.4h14.7v14.7h-14.7zM1000.3 697.4h14.7v14.7h-14.7zM312.6 711.8h14.7v14.7h-14.7zM986.0 711.8h14.7v14.7h-14.7zM355.6 740.4h14.7v14.7h-14.7zM355.6 754.8h14.7v14.7h-14.7zM842.7 812.1h14.7v14.7h-14.7zM470.2 826.4h14.7v14.7h-14.7zM857.1 826.4h14.7v14.7h-14.7zM455.9 840.7h14.7v14.7h-14.7zM441.5 855.0h14.7v14.7h-14.7zM857.1 898.0h14.7v14.7h-14.7zM842.7 912.4h14.7v14.7h-14.7zM814.1 926.7h14.7v14.7h-14.7z"/><path fill="rgb(97,97,97)" d="M799.8 67.0h14.7v14.7h-14.7zM312.6 81.3h14.7v14.7h-14.7zM398.6 81.3h14.7v14.7h-14.7zM799.8 81.3h14.7v14.7h-14.7zM298.3 95.7h14.7v14.7h-14.7zM556.2 110.0h14.7v14.7h-14.7zM212.3 124.3h14.7v14.7h-14.7zM842.7 124.3h14.7v14.7h-14.7zM570.5 138.6h14.7v14.7h-14.7zM212.3 167.3h14.7v14.7h-14.7zM842.7 167.3h14.7v14.7h-14.7zM828.4 181.6h14.7v14.7h-14.7zM326.9 196.0h14.7v14.7h-14.7zM814.1 196.0h14.7v14.7h-14.7zM799.8 224.6h14.7v14.7h-14.7zM785.4 238.9h14.7v14.7h-14.7zM713.8 253.3h14.7v14.7h-14.7zM341.2 281.9h14.7v14.7h-14.7zM140.7 353.6h14.7v14.7h-14.7zM398.6 353.6h14.7v14.7h-14.7zM326.9 367.9h14.7v14.7h-14.7zM412.9 425.2h14.7v14.7h-14.7zM398.6 439.5h14.7v14.7h-14.7zM642.1 439.5h14.7v14.7h-14.7zM183.6 482.5h14.7v14.7h-14.7zM369.9 482.5h14.7v14.7h-14.7zM183.6 496.8h14.7v14.7h-14.7zM112.0 525.5h14.7v14.7h-14.7zM126.3 525.5h14.7v14.7h-14.7zM369.9 525.5h14.7v14.7h-14.7zM140.7 539.8h14.7v14.7h-14.7zM369.9 568.5h14.7v14.7h-14.7zM169.3 582.8h14.7v14.7h-14.7zM771.1 582.8h14.7v14.7h-14.7zM943.0 582.8h14.7v14.7h-14.7zM971.7 582.8h14.7v14.7h-14.7zM986.0 582.8h14.7v14.7h-14.7zM986.0 597.1h14.7v14.7h-14.7zM1000.3 597.1h14.7v14.7h-14.7zM943.0 611.5h14.7v14.7h-14.7zM1000.3 611.5h14.7v14.7h-14.7zM957.4 625.8h14.7v14.7h-14.7zM971.7 625.8h14.7v14.7h-14.7zM1000.3 625.8h14.7v14.7h-14.7zM728.1 640.1h14.7v14.7h-14.7zM986.0 640.1h14.7v14.7h-14.7zM1000.3 640.1h14.7v14.7h-14.7zM986.0 654.5h14.7v14.7h-14.7zM1000.3 654.5h14.7v14.7h-14.7zM527.5 740.4h14.7v14.7h-14.7zM498.9 783.4h14.7v14.7h-14.7zM369.9 797.7h14.7v14.7h-14.7zM799.8 812.1h14.7v14.7h-14.7zM398.6 840.7h14.7v14.7h-14.7zM412.9 855.0h14.7v14.7h-14.7zM857.1 883.7h14.7v14.7h-14.7zM771.1 926.7h14.7v14.7h-14.7zM785.4 926.7h14.7v14.7h-14.7zM799.8 926.7h14.7v14.7h-14.7z"/><path fill="rgb(98,98,98)" d="M398.6 67.0h14.7v14.7h-14.7zM226.6 110.0h14.7v14.7h-14.7zM814.1 110.0h14.7v14.7h-14.7zM570.5 124.3h14.7v14.7h-14.7zM355.6 138.6h14.7v14.7h-14.7zM842.7 138.6h14.7v14.7h-14.7zM842.7 153.0h14.7v14.7h-14.7zM241.0 181.6h14.7v14.7h-14.7zM341.2 181.6h14.7v14.7h-14.7zM498.9 267.6h14.7v14.7h-14.7zM355.6 281.9h14.7v14.7h-14.7zM685.1 281.9h14.7v14.7h-14.7zM670.8 296.2h14.7v14.7h-14.7zM656.5 310.6h14.7v14.7h-14.7zM642.1 339.2h14.7v14.7h-14.7zM441.5 353.6h14.7v14.7h-14.7zM126.3 367.9h14.7v14.7h-14.7zM140.7 367.9h14.7v14.7h-14.7zM155.0 367.9h14.7v14.7h-14.7zM441.5 367.9h14.7v14.7h-14.7zM112.0 382.2h14.7v14.7h-14.7zM198.0 410.9h14.7v14.7h-14.7zM427.2 410.9h14.7v14.7h-14.7zM198.0 453.9h14.7v14.7h-14.7zM369.9 496.8h14.7v14.7h-14.7zM183.6 511.2h14.7v14.7h-14.7zM369.9 511.2h14.7v14.7h-14.7zM198.0 525.5h14.7v14.7h-14.7zM742.4 539.8h14.7v14.7h-14.7zM198.0 568.5h14.7v14.7h-14.7zM756.8 568.5h14.7v14.7h-14.7zM957.4 582.8h14.7v14.7h-14.7zM943.0 597.1h14.7v14.7h-14.7zM957.4 597.1h14.7v14.7h-14.7zM971.7 597.1h14.7v14.7h-14.7zM298.3 611.5h14.7v14.7h-14.7zM957.4 611.5h14.7v14.7h-14.7zM971.7 611.5h14.7v14.7h-14.7zM986.0 611.5h14.7v14.7h-14.7zM986.0 625.8h14.7v14.7h-14.7zM326.9 711.8h14.7v14.7h-14.7zM355.6 726.1h14.7v14.7h-14.7zM642.1 754.8h14.7v14.7h-14.7zM771.1 840.7h14.7v14.7h-14.7zM427.2 855.0h14.7v14.7h-14.7zM857.1 869.4h14.7v14.7h-14.7zM828.4 912.4h14.7v14.7h-14.7z"/><path fill="rgb(99,99,99)" d="M312.6 95.7h14.7v14.7h-14.7zM556.2 95.7h14.7v14.7h-14.7zM799.8 95.7h14.7v14.7h-14.7zM241.0 110.0h14.7v14.7h-14.7zM828.4 124.3h14.7v14.7h-14.7zM212.3 138.6h14.7v14.7h-14.7zM584.8 138.6h14.7v14.7h-14.7zM599.2 138.6h14.7v14.7h-14.7zM613.5 138.6h14.7v14.7h-14.7zM627.8 138.6h14.7v14.7h-14.7zM642.1 138.6h14.7v14.7h-14.7zM212.3 153.0h14.7v14.7h-14.7zM556.2 153.0h14.7v14.7h-14.7zM627.8 153.0h14.7v14.7h-14.7zM642.1 153.0h14.7v14.7h-14.7zM828.4 167.3h14.7v14.7h-14.7zM255.3 181.6h14.7v14.7h-14.7zM771.1 238.9h14.7v14.7h-14.7zM699.5 253.3h14.7v14.7h-14.7zM312.6 310.6h14.7v14.7h-14.7zM312.6 339.2h14.7v14.7h-14.7zM169.3 382.2h14.7v14.7h-14.7zM441.5 382.2h14.7v14.7h-14.7zM183.6 396.5h14.7v14.7h-14.7zM642.1 453.9h14.7v14.7h-14.7zM183.6 468.2h14.7v14.7h-14.7zM140.7 525.5h14.7v14.7h-14.7zM369.9 582.8h14.7v14.7h-14.7zM771.1 625.8h14.7v14.7h-14.7zM283.9 683.1h14.7v14.7h-14.7zM685.1 683.1h14.7v14.7h-14.7zM341.2 711.8h14.7v14.7h-14.7zM656.5 740.4h14.7v14.7h-14.7zM584.8 754.8h14.7v14.7h-14.7zM828.4 812.1h14.7v14.7h-14.7zM785.4 826.4h14.7v14.7h-14.7zM857.1 840.7h14.7v14.7h-14.7zM857.1 855.0h14.7v14.7h-14.7zM756.8 869.4h14.7v14.7h-14.7zM842.7 898.0h14.7v14.7h-14.7zM756.8 912.4h14.7v14.7h-14.7z"/><path fill="rgb(100,100,100)" d="M556.2 67.0h14.7v14.7h-14.7zM785.4 67.0h14.7v14.7h-14.7zM556.2 81.3h14.7v14.7h-14.7zM785.4 81.3h14.7v14.7h-14.7zM384.2 95.7h14.7v14.7h-14.7zM255.3 110.0h14.7v14.7h-14.7zM369.9 110.0h14.7v14.7h-14.7zM355.6 124.3h14.7v14.7h-14.7zM584.8 124.3h14.7v14.7h-14.7zM828.4 138.6h14.7v14.7h-14.7zM828.4 153.0h14.7v14.7h-14.7zM226.6 167.3h14.7v14.7h-14.7zM341.2 167.3h14.7v14.7h-14.7zM269.6 181.6h14.7v14.7h-14.7zM283.9 181.6h14.7v14.7h-14.7zM326.9 181.6h14.7v14.7h-14.7zM814.1 181.6h14.7v14.7h-14.7zM799.8 210.3h14.7v14.7h-14.7zM756.8 238.9h14.7v14.7h-14.7zM384.2 296.2h14.7v14.7h-14.7zM484.5 296.2h14.7v14.7h-14.7zM455.9 324.9h14.7v14.7h-14.7zM642.1 324.9h14.7v14.7h-14.7zM369.9 367.9h14.7v14.7h-14.7zM126.3 382.2h14.7v14.7h-14.7zM140.7 382.2h14.7v14.7h-14.7zM155.0 382.2h14.7v14.7h-14.7zM198.0 425.2h14.7v14.7h-14.7zM198.0 439.5h14.7v14.7h-14.7zM384.2 468.2h14.7v14.7h-14.7zM656.5 482.5h14.7v14.7h-14.7zM169.3 496.8h14.7v14.7h-14.7zM685.1 496.8h14.7v14.7h-14.7zM112.0 511.2h14.7v14.7h-14.7zM169.3 511.2h14.7v14.7h-14.7zM713.8 511.2h14.7v14.7h-14.7zM728.1 525.5h14.7v14.7h-14.7zM155.0 568.5h14.7v14.7h-14.7zM283.9 640.1h14.7v14.7h-14.7zM713.8 640.1h14.7v14.7h-14.7zM699.5 654.5h14.7v14.7h-14.7zM298.3 697.4h14.7v14.7h-14.7zM670.8 711.8h14.7v14.7h-14.7zM384.2 812.1h14.7v14.7h-14.7zM814.1 812.1h14.7v14.7h-14.7zM441.5 840.7h14.7v14.7h-14.7zM814.1 912.4h14.7v14.7h-14.7z"/><path fill="rgb(101,101,101)" d="M326.9 67.0h14.7v14.7h-14.7zM326.9 81.3h14.7v14.7h-14.7zM785.4 95.7h14.7v14.7h-14.7zM269.6 110.0h14.7v14.7h-14.7zM283.9 110.0h14.7v14.7h-14.7zM298.3 110.0h14.7v14.7h-14.7zM570.5 110.0h14.7v14.7h-14.7zM799.8 110.0h14.7v14.7h-14.7zM226.6 124.3h14.7v14.7h-14.7zM599.2 124.3h14.7v14.7h-14.7zM814.1 124.3h14.7v14.7h-14.7zM341.2 153.0h14.7v14.7h-14.7zM613.5 153.0h14.7v14.7h-14.7zM642.1 167.3h14.7v14.7h-14.7zM298.3 181.6h14.7v14.7h-14.7zM312.6 181.6h14.7v14.7h-14.7zM527.5 181.6h14.7v14.7h-14.7zM513.2 210.3h14.7v14.7h-14.7zM785.4 224.6h14.7v14.7h-14.7zM713.8 238.9h14.7v14.7h-14.7zM728.1 238.9h14.7v14.7h-14.7zM742.4 238.9h14.7v14.7h-14.7zM685.1 267.6h14.7v14.7h-14.7zM470.2 310.6h14.7v14.7h-14.7zM312.6 324.9h14.7v14.7h-14.7zM398.6 324.9h14.7v14.7h-14.7zM398.6 339.2h14.7v14.7h-14.7zM341.2 367.9h14.7v14.7h-14.7zM112.0 396.5h14.7v14.7h-14.7zM441.5 396.5h14.7v14.7h-14.7zM169.3 482.5h14.7v14.7h-14.7zM126.3 511.2h14.7v14.7h-14.7zM140.7 511.2h14.7v14.7h-14.7zM155.0 511.2h14.7v14.7h-14.7zM155.0 525.5h14.7v14.7h-14.7zM742.4 554.2h14.7v14.7h-14.7zM312.6 611.5h14.7v14.7h-14.7zM326.9 611.5h14.7v14.7h-14.7zM341.2 611.5h14.7v14.7h-14.7zM556.2 740.4h14.7v14.7h-14.7zM369.9 783.4h14.7v14.7h-14.7zM412.9 840.7h14.7v14.7h-14.7zM842.7 883.7h14.7v14.7h-14.7zM756.8 898.0h14.7v14.7h-14.7zM828.4 898.0h14.7v14.7h-14.7zM799.8 912.4h14.7v14.7h-14.7z"/><path fill="rgb(102,102,102)" d="M771.1 67.0h14.7v14.7h-14.7zM326.9 95.7h14.7v14.7h-14.7zM312.6 110.0h14.7v14.7h-14.7zM613.5 124.3h14.7v14.7h-14.7zM627.8 124.3h14.7v14.7h-14.7zM341.2 138.6h14.7v14.7h-14.7zM570.5 153.0h14.7v14.7h-14.7zM656.5 153.0h14.7v14.7h-14.7zM541.8 167.3h14.7v14.7h-14.7zM656.5 167.3h14.7v14.7h-14.7zM814.1 167.3h14.7v14.7h-14.7zM799.8 196.0h14.7v14.7h-14.7zM169.3 396.5h14.7v14.7h-14.7zM183.6 410.9h14.7v14.7h-14.7zM183.6 453.9h14.7v14.7h-14.7zM398.6 453.9h14.7v14.7h-14.7zM642.1 468.2h14.7v14.7h-14.7zM155.0 496.8h14.7v14.7h-14.7zM183.6 525.5h14.7v14.7h-14.7zM155.0 539.8h14.7v14.7h-14.7zM198.0 539.8h14.7v14.7h-14.7zM771.1 597.1h14.7v14.7h-14.7zM283.9 668.8h14.7v14.7h-14.7zM355.6 711.8h14.7v14.7h-14.7zM627.8 754.8h14.7v14.7h-14.7zM398.6 826.4h14.7v14.7h-14.7zM455.9 826.4h14.7v14.7h-14.7zM842.7 826.4h14.7v14.7h-14.7zM427.2 840.7h14.7v14.7h-14.7zM771.1 855.0h14.7v14.7h-14.7zM756.8 883.7h14.7v14.7h-14.7zM771.1 912.4h14.7v14.7h-14.7zM785.4 912.4h14.7v14.7h-14.7z"/><path fill="rgb(103,103,103)" d="M384.2 81.3h14.7v14.7h-14.7zM771.1 81.3h14.7v14.7h-14.7zM326.9 110.0h14.7v14.7h-14.7zM355.6 110.0h14.7v14.7h-14.7zM341.2 124.3h14.7v14.7h-14.7zM642.1 124.3h14.7v14.7h-14.7zM226.6 138.6h14.7v14.7h-14.7zM656.5 138.6h14.7v14.7h-14.7zM814.1 138.6h14.7v14.7h-14.7zM226.6 153.0h14.7v14.7h-14.7zM584.8 153.0h14.7v14.7h-14.7zM599.2 153.0h14.7v14.7h-14.7zM814.1 153.0h14.7v14.7h-14.7zM241.0 167.3h14.7v14.7h-14.7zM326.9 167.3h14.7v14.7h-14.7zM656.5 181.6h14.7v14.7h-14.7zM699.5 238.9h14.7v14.7h-14.7zM685.1 253.3h14.7v14.7h-14.7zM670.8 281.9h14.7v14.7h-14.7zM326.9 296.2h14.7v14.7h-14.7zM326.9 353.6h14.7v14.7h-14.7zM355.6 367.9h14.7v14.7h-14.7zM627.8 367.9h14.7v14.7h-14.7zM627.8 382.2h14.7v14.7h-14.7zM126.3 396.5h14.7v14.7h-14.7zM140.7 396.5h14.7v14.7h-14.7zM155.0 396.5h14.7v14.7h-14.7zM627.8 396.5h14.7v14.7h-14.7zM427.2 425.2h14.7v14.7h-14.7zM412.9 439.5h14.7v14.7h-14.7zM169.3 468.2h14.7v14.7h-14.7zM112.0 496.8h14.7v14.7h-14.7zM169.3 525.5h14.7v14.7h-14.7zM155.0 554.2h14.7v14.7h-14.7zM198.0 554.2h14.7v14.7h-14.7zM756.8 582.8h14.7v14.7h-14.7zM369.9 597.1h14.7v14.7h-14.7zM355.6 611.5h14.7v14.7h-14.7zM283.9 654.5h14.7v14.7h-14.7zM599.2 754.8h14.7v14.7h-14.7zM369.9 769.1h14.7v14.7h-14.7zM842.7 869.4h14.7v14.7h-14.7z"/><path fill="rgb(104,104,104)" d="M384.2 67.0h14.7v14.7h-14.7zM570.5 95.7h14.7v14.7h-14.7zM771.1 95.7h14.7v14.7h-14.7zM341.2 110.0h14.7v14.7h-14.7zM584.8 110.0h14.7v14.7h-14.7zM785.4 110.0h14.7v14.7h-14.7zM241.0 124.3h14.7v14.7h-14.7zM326.9 124.3h14.7v14.7h-14.7zM799.8 124.3h14.7v14.7h-14.7zM627.8 167.3h14.7v14.7h-14.7zM799.8 181.6h14.7v14.7h-14.7zM785.4 210.3h14.7v14.7h-14.7zM771.1 224.6h14.7v14.7h-14.7zM656.5 296.2h14.7v14.7h-14.7zM627.8 353.6h14.7v14.7h-14.7zM112.0 410.9h14.7v14.7h-14.7zM441.5 410.9h14.7v14.7h-14.7zM183.6 425.2h14.7v14.7h-14.7zM183.6 439.5h14.7v14.7h-14.7zM155.0 482.5h14.7v14.7h-14.7zM384.2 482.5h14.7v14.7h-14.7zM126.3 496.8h14.7v14.7h-14.7zM140.7 496.8h14.7v14.7h-14.7zM670.8 496.8h14.7v14.7h-14.7zM742.4 568.5h14.7v14.7h-14.7zM771.1 611.5h14.7v14.7h-14.7zM298.3 625.8h14.7v14.7h-14.7zM685.1 668.8h14.7v14.7h-14.7zM312.6 697.4h14.7v14.7h-14.7zM369.9 726.1h14.7v14.7h-14.7zM656.5 726.1h14.7v14.7h-14.7zM369.9 740.4h14.7v14.7h-14.7zM369.9 754.8h14.7v14.7h-14.7zM613.5 754.8h14.7v14.7h-14.7zM498.9 769.1h14.7v14.7h-14.7zM814.1 898.0h14.7v14.7h-14.7z"/><path fill="rgb(105,105,105)" d="M756.8 67.0h14.7v14.7h-14.7zM341.2 81.3h14.7v14.7h-14.7zM570.5 81.3h14.7v14.7h-14.7zM341.2 95.7h14.7v14.7h-14.7zM369.9 95.7h14.7v14.7h-14.7zM255.3 124.3h14.7v14.7h-14.7zM312.6 124.3h14.7v14.7h-14.7zM326.9 138.6h14.7v14.7h-14.7zM326.9 153.0h14.7v14.7h-14.7zM255.3 167.3h14.7v14.7h-14.7zM269.6 167.3h14.7v14.7h-14.7zM312.6 167.3h14.7v14.7h-14.7zM799.8 167.3h14.7v14.7h-14.7zM642.1 181.6h14.7v14.7h-14.7zM656.5 196.0h14.7v14.7h-14.7zM685.1 238.9h14.7v14.7h-14.7zM642.1 310.6h14.7v14.7h-14.7zM384.2 353.6h14.7v14.7h-14.7zM169.3 410.9h14.7v14.7h-14.7zM627.8 410.9h14.7v14.7h-14.7zM169.3 453.9h14.7v14.7h-14.7zM699.5 511.2h14.7v14.7h-14.7zM728.1 539.8h14.7v14.7h-14.7zM728.1 625.8h14.7v14.7h-14.7zM326.9 697.4h14.7v14.7h-14.7zM670.8 697.4h14.7v14.7h-14.7zM513.2 740.4h14.7v14.7h-14.7zM484.5 797.7h14.7v14.7h-14.7zM470.2 812.1h14.7v14.7h-14.7zM799.8 826.4h14.7v14.7h-14.7zM785.4 840.7h14.7v14.7h-14.7zM842.7 840.7h14.7v14.7h-14.7zM842.7 855.0h14.7v14.7h-14.7zM828.4 883.7h14.7v14.7h-14.7z"/><path fill="rgb(106,106,106)" d="M341.2 67.0h14.7v14.7h-14.7zM570.5 67.0h14.7v14.7h-14.7zM756.8 81.3h14.7v14.7h-14.7zM355.6 95.7h14.7v14.7h-14.7zM599.2 110.0h14.7v14.7h-14.7zM613.5 110.0h14.7v14.7h-14.7zM269.6 124.3h14.7v14.7h-14.7zM283.9 124.3h14.7v14.7h-14.7zM298.3 124.3h14.7v14.7h-14.7zM656.5 124.3h14.7v14.7h-14.7zM241.0 138.6h14.7v14.7h-14.7zM799.8 138.6h14.7v14.7h-14.7zM241.0 153.0h14.7v14.7h-14.7zM799.8 153.0h14.7v14.7h-14.7zM283.9 167.3h14.7v14.7h-14.7zM298.3 167.3h14.7v14.7h-14.7zM670.8 181.6h14.7v14.7h-14.7zM670.8 196.0h14.7v14.7h-14.7zM785.4 196.0h14.7v14.7h-14.7zM670.8 210.3h14.7v14.7h-14.7zM685.1 224.6h14.7v14.7h-14.7zM699.5 224.6h14.7v14.7h-14.7zM713.8 224.6h14.7v14.7h-14.7zM728.1 224.6h14.7v14.7h-14.7zM742.4 224.6h14.7v14.7h-14.7zM756.8 224.6h14.7v14.7h-14.7zM498.9 281.9h14.7v14.7h-14.7zM455.9 339.2h14.7v14.7h-14.7zM627.8 339.2h14.7v14.7h-14.7zM126.3 410.9h14.7v14.7h-14.7zM140.7 410.9h14.7v14.7h-14.7zM155.0 410.9h14.7v14.7h-14.7zM112.0 425.2h14.7v14.7h-14.7zM155.0 468.2h14.7v14.7h-14.7zM112.0 482.5h14.7v14.7h-14.7zM126.3 482.5h14.7v14.7h-14.7zM140.7 482.5h14.7v14.7h-14.7zM384.2 496.8h14.7v14.7h-14.7zM169.3 568.5h14.7v14.7h-14.7zM183.6 568.5h14.7v14.7h-14.7zM699.5 640.1h14.7v14.7h-14.7zM341.2 697.4h14.7v14.7h-14.7zM642.1 740.4h14.7v14.7h-14.7zM384.2 797.7h14.7v14.7h-14.7zM828.4 826.4h14.7v14.7h-14.7zM771.1 869.4h14.7v14.7h-14.7zM771.1 898.0h14.7v14.7h-14.7zM799.8 898.0h14.7v14.7h-14.7z"/><path fill="rgb(107,107,107)" d="M369.9 81.3h14.7v14.7h-14.7zM627.8 110.0h14.7v14.7h-14.7zM642.1 110.0h14.7v14.7h-14.7zM771.1 110.0h14.7v14.7h-14.7zM785.4 124.3h14.7v14.7h-14.7zM556.2 167.3h14.7v14.7h-14.7zM513.2 224.6h14.7v14.7h-14.7zM670.8 267.6h14.7v14.7h-14.7zM169.3 425.2h14.7v14.7h-14.7zM627.8 425.2h14.7v14.7h-14.7zM112.0 439.5h14.7v14.7h-14.7zM169.3 439.5h14.7v14.7h-14.7zM112.0 468.2h14.7v14.7h-14.7zM642.1 482.5h14.7v14.7h-14.7zM713.8 525.5h14.7v14.7h-14.7zM169.3 539.8h14.7v14.7h-14.7zM183.6 539.8h14.7v14.7h-14.7zM742.4 582.8h14.7v14.7h-14.7zM713.8 625.8h14.7v14.7h-14.7zM742.4 625.8h14.7v14.7h-14.7zM756.8 625.8h14.7v14.7h-14.7zM298.3 683.1h14.7v14.7h-14.7zM369.9 711.8h14.7v14.7h-14.7zM412.9 826.4h14.7v14.7h-14.7zM441.5 826.4h14.7v14.7h-14.7zM814.1 826.4h14.7v14.7h-14.7zM771.1 883.7h14.7v14.7h-14.7zM785.4 898.0h14.7v14.7h-14.7z"/><path fill="rgb(108,108,108)" d="M742.4 67.0h14.7v14.7h-14.7zM355.6 81.3h14.7v14.7h-14.7zM584.8 95.7h14.7v14.7h-14.7zM756.8 95.7h14.7v14.7h-14.7zM312.6 138.6h14.7v14.7h-14.7zM255.3 153.0h14.7v14.7h-14.7zM312.6 153.0h14.7v14.7h-14.7zM670.8 167.3h14.7v14.7h-14.7zM785.4 181.6h14.7v14.7h-14.7zM527.5 196.0h14.7v14.7h-14.7zM656.5 210.3h14.7v14.7h-14.7zM685.1 210.3h14.7v14.7h-14.7zM771.1 210.3h14.7v14.7h-14.7zM670.8 224.6h14.7v14.7h-14.7zM455.9 353.6h14.7v14.7h-14.7zM126.3 425.2h14.7v14.7h-14.7zM155.0 425.2h14.7v14.7h-14.7zM627.8 439.5h14.7v14.7h-14.7zM112.0 453.9h14.7v14.7h-14.7zM155.0 453.9h14.7v14.7h-14.7zM126.3 468.2h14.7v14.7h-14.7zM140.7 468.2h14.7v14.7h-14.7zM398.6 468.2h14.7v14.7h-14.7zM656.5 496.8h14.7v14.7h-14.7zM384.2 511.2h14.7v14.7h-14.7zM728.1 554.2h14.7v14.7h-14.7zM312.6 625.8h14.7v14.7h-14.7zM355.6 697.4h14.7v14.7h-14.7zM785.4 855.0h14.7v14.7h-14.7zM828.4 869.4h14.7v14.7h-14.7zM814.1 883.7h14.7v14.7h-14.7z"/><path fill="rgb(109,109,109)" d="M355.6 67.0h14.7v14.7h-14.7zM369.9 67.0h14.7v14.7h-14.7zM742.4 81.3h14.7v14.7h-14.7zM255.3 138.6h14.7v14.7h-14.7zM269.6 138.6h14.7v14.7h-14.7zM298.3 138.6h14.7v14.7h-14.7zM785.4 138.6h14.7v14.7h-14.7zM269.6 153.0h14.7v14.7h-14.7zM298.3 153.0h14.7v14.7h-14.7zM670.8 153.0h14.7v14.7h-14.7zM613.5 167.3h14.7v14.7h-14.7zM785.4 167.3h14.7v14.7h-14.7zM670.8 238.9h14.7v14.7h-14.7zM670.8 253.3h14.7v14.7h-14.7zM627.8 324.9h14.7v14.7h-14.7zM455.9 367.9h14.7v14.7h-14.7zM455.9 382.2h14.7v14.7h-14.7zM140.7 425.2h14.7v14.7h-14.7zM441.5 425.2h14.7v14.7h-14.7zM126.3 439.5h14.7v14.7h-14.7zM155.0 439.5h14.7v14.7h-14.7zM427.2 439.5h14.7v14.7h-14.7zM126.3 453.9h14.7v14.7h-14.7zM140.7 453.9h14.7v14.7h-14.7zM412.9 453.9h14.7v14.7h-14.7zM627.8 453.9h14.7v14.7h-14.7zM685.1 511.2h14.7v14.7h-14.7zM384.2 525.5h14.7v14.7h-14.7zM169.3 554.2h14.7v14.7h-14.7zM756.8 597.1h14.7v14.7h-14.7zM326.9 625.8h14.7v14.7h-14.7zM341.2 625.8h14.7v14.7h-14.7zM685.1 654.5h14.7v14.7h-14.7zM570.5 740.4h14.7v14.7h-14.7zM398.6 812.1h14.7v14.7h-14.7zM427.2 826.4h14.7v14.7h-14.7zM785.4 869.4h14.7v14.7h-14.7zM785.4 883.7h14.7v14.7h-14.7zM799.8 883.7h14.7v14.7h-14.7z"/><path fill="rgb(110,110,110)" d="M584.8 81.3h14.7v14.7h-14.7zM599.2 95.7h14.7v14.7h-14.7zM656.5 110.0h14.7v14.7h-14.7zM756.8 110.0h14.7v14.7h-14.7zM771.1 124.3h14.7v14.7h-14.7zM283.9 138.6h14.7v14.7h-14.7zM283.9 153.0h14.7v14.7h-14.7zM785.4 153.0h14.7v14.7h-14.7zM541.8 181.6h14.7v14.7h-14.7zM642.1 196.0h14.7v14.7h-14.7zM685.1 196.0h14.7v14.7h-14.7zM699.5 210.3h14.7v14.7h-14.7zM756.8 210.3h14.7v14.7h-14.7zM656.5 281.9h14.7v14.7h-14.7zM326.9 339.2h14.7v14.7h-14.7zM140.7 439.5h14.7v14.7h-14.7zM384.2 539.8h14.7v14.7h-14.7zM183.6 554.2h14.7v14.7h-14.7zM384.2 554.2h14.7v14.7h-14.7zM728.1 568.5h14.7v14.7h-14.7zM369.9 611.5h14.7v14.7h-14.7zM298.3 640.1h14.7v14.7h-14.7zM670.8 683.1h14.7v14.7h-14.7zM799.8 840.7h14.7v14.7h-14.7zM828.4 840.7h14.7v14.7h-14.7zM828.4 855.0h14.7v14.7h-14.7z"/><path fill="rgb(111,111,111)" d="M584.8 67.0h14.7v14.7h-14.7zM728.1 67.0h14.7v14.7h-14.7zM613.5 95.7h14.7v14.7h-14.7zM627.8 95.7h14.7v14.7h-14.7zM742.4 95.7h14.7v14.7h-14.7zM670.8 138.6h14.7v14.7h-14.7zM570.5 167.3h14.7v14.7h-14.7zM771.1 196.0h14.7v14.7h-14.7zM713.8 210.3h14.7v14.7h-14.7zM742.4 210.3h14.7v14.7h-14.7zM326.9 310.6h14.7v14.7h-14.7zM341.2 353.6h14.7v14.7h-14.7zM455.9 396.5h14.7v14.7h-14.7zM627.8 468.2h14.7v14.7h-14.7zM384.2 568.5h14.7v14.7h-14.7zM742.4 597.1h14.7v14.7h-14.7zM728.1 611.5h14.7v14.7h-14.7zM312.6 683.1h14.7v14.7h-14.7zM656.5 711.8h14.7v14.7h-14.7zM498.9 754.8h14.7v14.7h-14.7zM799.8 869.4h14.7v14.7h-14.7zM814.1 869.4h14.7v14.7h-14.7z"/><path fill="rgb(112,112,112)" d="M728.1 81.3h14.7v14.7h-14.7zM642.1 95.7h14.7v14.7h-14.7zM670.8 124.3h14.7v14.7h-14.7zM771.1 138.6h14.7v14.7h-14.7zM627.8 181.6h14.7v14.7h-14.7zM771.1 181.6h14.7v14.7h-14.7zM728.1 210.3h14.7v14.7h-14.7zM656.5 224.6h14.7v14.7h-14.7zM341.2 296.2h14.7v14.7h-14.7zM369.9 296.2h14.7v14.7h-14.7zM642.1 296.2h14.7v14.7h-14.7zM470.2 324.9h14.7v14.7h-14.7zM613.5 367.9h14.7v14.7h-14.7zM613.5 382.2h14.7v14.7h-14.7zM713.8 539.8h14.7v14.7h-14.7zM384.2 582.8h14.7v14.7h-14.7zM728.1 582.8h14.7v14.7h-14.7zM713.8 611.5h14.7v14.7h-14.7zM756.8 611.5h14.7v14.7h-14.7zM355.6 625.8h14.7v14.7h-14.7zM699.5 625.8h14.7v14.7h-14.7zM298.3 668.8h14.7v14.7h-14.7zM369.9 697.4h14.7v14.7h-14.7zM384.2 783.4h14.7v14.7h-14.7zM814.1 840.7h14.7v14.7h-14.7zM799.8 855.0h14.7v14.7h-14.7z"/><path fill="rgb(113,113,113)" d="M713.8 67.0h14.7v14.7h-14.7zM599.2 81.3h14.7v14.7h-14.7zM656.5 95.7h14.7v14.7h-14.7zM670.8 110.0h14.7v14.7h-14.7zM756.8 124.3h14.7v14.7h-14.7zM771.1 153.0h14.7v14.7h-14.7zM599.2 167.3h14.7v14.7h-14.7zM771.1 167.3h14.7v14.7h-14.7zM685.1 181.6h14.7v14.7h-14.7zM513.2 238.9h14.7v14.7h-14.7zM384.2 310.6h14.7v14.7h-14.7zM369.9 353.6h14.7v14.7h-14.7zM398.6 482.5h14.7v14.7h-14.7zM642.1 496.8h14.7v14.7h-14.7zM670.8 511.2h14.7v14.7h-14.7zM699.5 525.5h14.7v14.7h-14.7zM728.1 597.1h14.7v14.7h-14.7zM742.4 611.5h14.7v14.7h-14.7zM298.3 654.5h14.7v14.7h-14.7zM326.9 683.1h14.7v14.7h-14.7zM527.5 726.1h14.7v14.7h-14.7zM455.9 812.1h14.7v14.7h-14.7zM814.1 855.0h14.7v14.7h-14.7z"/><path fill="rgb(114,114,114)" d="M599.2 67.0h14.7v14.7h-14.7zM613.5 81.3h14.7v14.7h-14.7zM627.8 81.3h14.7v14.7h-14.7zM642.1 81.3h14.7v14.7h-14.7zM656.5 81.3h14.7v14.7h-14.7zM713.8 81.3h14.7v14.7h-14.7zM670.8 95.7h14.7v14.7h-14.7zM728.1 95.7h14.7v14.7h-14.7zM742.4 110.0h14.7v14.7h-14.7zM584.8 167.3h14.7v14.7h-14.7zM699.5 196.0h14.7v14.7h-14.7zM756.8 196.0h14.7v14.7h-14.7zM484.5 310.6h14.7v14.7h-14.7zM326.9 324.9h14.7v14.7h-14.7zM384.2 339.2h14.7v14.7h-14.7zM613.5 353.6h14.7v14.7h-14.7zM613.5 396.5h14.7v14.7h-14.7zM455.9 410.9h14.7v14.7h-14.7zM685.1 640.1h14.7v14.7h-14.7zM670.8 668.8h14.7v14.7h-14.7zM341.2 683.1h14.7v14.7h-14.7zM541.8 726.1h14.7v14.7h-14.7zM627.8 740.4h14.7v14.7h-14.7z"/><path fill="rgb(115,115,115)" d="M613.5 67.0h14.7v14.7h-14.7zM627.8 67.0h14.7v14.7h-14.7zM642.1 67.0h14.7v14.7h-14.7zM656.5 67.0h14.7v14.7h-14.7zM670.8 67.0h14.7v14.7h-14.7zM685.1 67.0h14.7v14.7h-14.7zM699.5 67.0h14.7v14.7h-14.7zM670.8 81.3h14.7v14.7h-14.7zM685.1 81.3h14.7v14.7h-14.7zM699.5 81.3h14.7v14.7h-14.7zM685.1 167.3h14.7v14.7h-14.7zM742.4 196.0h14.7v14.7h-14.7zM656.5 267.6h14.7v14.7h-14.7zM627.8 310.6h14.7v14.7h-14.7zM627.8 482.5h14.7v14.7h-14.7zM312.6 640.1h14.7v14.7h-14.7zM355.6 683.1h14.7v14.7h-14.7zM384.2 726.1h14.7v14.7h-14.7zM642.1 726.1h14.7v14.7h-14.7zM484.5 783.4h14.7v14.7h-14.7z"/><path fill="rgb(116,116,116)" d="M685.1 95.7h14.7v14.7h-14.7zM713.8 95.7h14.7v14.7h-14.7zM756.8 138.6h14.7v14.7h-14.7zM756.8 181.6h14.7v14.7h-14.7zM713.8 196.0h14.7v14.7h-14.7zM728.1 196.0h14.7v14.7h-14.7zM527.5 210.3h14.7v14.7h-14.7zM642.1 210.3h14.7v14.7h-14.7zM656.5 238.9h14.7v14.7h-14.7zM355.6 296.2h14.7v14.7h-14.7zM498.9 296.2h14.7v14.7h-14.7zM613.5 339.2h14.7v14.7h-14.7zM355.6 353.6h14.7v14.7h-14.7zM613.5 410.9h14.7v14.7h-14.7zM441.5 439.5h14.7v14.7h-14.7zM412.9 468.2h14.7v14.7h-14.7zM713.8 554.2h14.7v14.7h-14.7zM384.2 597.1h14.7v14.7h-14.7zM713.8 597.1h14.7v14.7h-14.7zM326.9 640.1h14.7v14.7h-14.7zM656.5 697.4h14.7v14.7h-14.7zM384.2 711.8h14.7v14.7h-14.7zM384.2 740.4h14.7v14.7h-14.7zM584.8 740.4h14.7v14.7h-14.7zM384.2 769.1h14.7v14.7h-14.7zM412.9 812.1h14.7v14.7h-14.7z"/><path fill="rgb(117,117,117)" d="M699.5 95.7h14.7v14.7h-14.7zM685.1 110.0h14.7v14.7h-14.7zM756.8 153.0h14.7v14.7h-14.7zM756.8 167.3h14.7v14.7h-14.7zM656.5 253.3h14.7v14.7h-14.7zM427.2 453.9h14.7v14.7h-14.7zM398.6 496.8h14.7v14.7h-14.7zM656.5 511.2h14.7v14.7h-14.7zM699.5 611.5h14.7v14.7h-14.7zM341.2 640.1h14.7v14.7h-14.7zM312.6 668.8h14.7v14.7h-14.7zM384.2 754.8h14.7v14.7h-14.7zM398.6 797.7h14.7v14.7h-14.7zM470.2 797.7h14.7v14.7h-14.7zM441.5 812.1h14.7v14.7h-14.7z"/><path fill="rgb(118,118,118)" d="M728.1 110.0h14.7v14.7h-14.7zM685.1 124.3h14.7v14.7h-14.7zM742.4 124.3h14.7v14.7h-14.7zM685.1 153.0h14.7v14.7h-14.7zM556.2 181.6h14.7v14.7h-14.7zM699.5 181.6h14.7v14.7h-14.7zM742.4 181.6h14.7v14.7h-14.7zM513.2 253.3h14.7v14.7h-14.7zM384.2 324.9h14.7v14.7h-14.7zM455.9 425.2h14.7v14.7h-14.7zM685.1 525.5h14.7v14.7h-14.7zM713.8 568.5h14.7v14.7h-14.7zM713.8 582.8h14.7v14.7h-14.7zM312.6 654.5h14.7v14.7h-14.7zM513.2 726.1h14.7v14.7h-14.7zM498.9 740.4h14.7v14.7h-14.7z"/><path fill="rgb(119,119,119)" d="M685.1 138.6h14.7v14.7h-14.7zM541.8 196.0h14.7v14.7h-14.7zM470.2 339.2h14.7v14.7h-14.7zM613.5 425.2h14.7v14.7h-14.7zM699.5 539.8h14.7v14.7h-14.7zM369.9 625.8h14.7v14.7h-14.7zM685.1 625.8h14.7v14.7h-14.7zM355.6 640.1h14.7v14.7h-14.7zM670.8 654.5h14.7v14.7h-14.7zM326.9 668.8h14.7v14.7h-14.7zM341.2 668.8h14.7v14.7h-14.7zM369.9 683.1h14.7v14.7h-14.7zM556.2 726.1h14.7v14.7h-14.7zM613.5 740.4h14.7v14.7h-14.7zM427.2 812.1h14.7v14.7h-14.7z"/><path fill="rgb(120,120,120)" d="M699.5 110.0h14.7v14.7h-14.7zM713.8 110.0h14.7v14.7h-14.7zM742.4 167.3h14.7v14.7h-14.7zM728.1 181.6h14.7v14.7h-14.7zM642.1 281.9h14.7v14.7h-14.7zM613.5 324.9h14.7v14.7h-14.7zM613.5 439.5h14.7v14.7h-14.7zM627.8 496.8h14.7v14.7h-14.7zM398.6 511.2h14.7v14.7h-14.7zM326.9 654.5h14.7v14.7h-14.7zM384.2 697.4h14.7v14.7h-14.7zM599.2 740.4h14.7v14.7h-14.7z"/><path fill="rgb(121,121,121)" d="M742.4 138.6h14.7v14.7h-14.7zM742.4 153.0h14.7v14.7h-14.7zM613.5 181.6h14.7v14.7h-14.7zM713.8 181.6h14.7v14.7h-14.7zM627.8 196.0h14.7v14.7h-14.7zM613.5 453.9h14.7v14.7h-14.7zM642.1 511.2h14.7v14.7h-14.7zM341.2 654.5h14.7v14.7h-14.7zM355.6 668.8h14.7v14.7h-14.7zM656.5 683.1h14.7v14.7h-14.7z"/><path fill="rgb(122,122,122)" d="M728.1 124.3h14.7v14.7h-14.7zM699.5 167.3h14.7v14.7h-14.7zM341.2 339.2h14.7v14.7h-14.7zM470.2 353.6h14.7v14.7h-14.7zM470.2 367.9h14.7v14.7h-14.7zM599.2 367.9h14.7v14.7h-14.7zM599.2 382.2h14.7v14.7h-14.7zM613.5 468.2h14.7v14.7h-14.7zM699.5 597.1h14.7v14.7h-14.7zM384.2 611.5h14.7v14.7h-14.7zM670.8 640.1h14.7v14.7h-14.7z"/><path fill="rgb(123,123,123)" d="M699.5 124.3h14.7v14.7h-14.7zM728.1 167.3h14.7v14.7h-14.7zM642.1 224.6h14.7v14.7h-14.7zM513.2 267.6h14.7v14.7h-14.7zM627.8 296.2h14.7v14.7h-14.7zM470.2 382.2h14.7v14.7h-14.7zM412.9 482.5h14.7v14.7h-14.7zM398.6 525.5h14.7v14.7h-14.7zM670.8 525.5h14.7v14.7h-14.7zM685.1 611.5h14.7v14.7h-14.7zM355.6 654.5h14.7v14.7h-14.7zM642.1 711.8h14.7v14.7h-14.7zM484.5 769.1h14.7v14.7h-14.7z"/><path fill="rgb(124,124,124)" d="M713.8 124.3h14.7v14.7h-14.7zM570.5 181.6h14.7v14.7h-14.7zM341.2 310.6h14.7v14.7h-14.7zM599.2 353.6h14.7v14.7h-14.7zM470.2 396.5h14.7v14.7h-14.7zM599.2 396.5h14.7v14.7h-14.7zM613.5 482.5h14.7v14.7h-14.7zM699.5 554.2h14.7v14.7h-14.7zM699.5 582.8h14.7v14.7h-14.7z"/><path fill="rgb(125,125,125)" d="M699.5 138.6h14.7v14.7h-14.7zM728.1 138.6h14.7v14.7h-14.7zM699.5 153.0h14.7v14.7h-14.7zM713.8 167.3h14.7v14.7h-14.7zM527.5 224.6h14.7v14.7h-14.7zM484.5 324.9h14.7v14.7h-14.7zM470.2 410.9h14.7v14.7h-14.7zM455.9 439.5h14.7v14.7h-14.7zM441.5 453.9h14.7v14.7h-14.7zM427.2 468.2h14.7v14.7h-14.7zM398.6 539.8h14.7v14.7h-14.7zM699.5 568.5h14.7v14.7h-14.7zM656.5 668.8h14.7v14.7h-14.7z"/><path fill="rgb(126,126,126)" d="M728.1 153.0h14.7v14.7h-14.7zM613.5 310.6h14.7v14.7h-14.7zM369.9 339.2h14.7v14.7h-14.7zM599.2 339.2h14.7v14.7h-14.7zM627.8 511.2h14.7v14.7h-14.7zM656.5 525.5h14.7v14.7h-14.7zM685.1 539.8h14.7v14.7h-14.7zM398.6 554.2h14.7v14.7h-14.7zM398.6 568.5h14.7v14.7h-14.7zM670.8 625.8h14.7v14.7h-14.7zM369.9 640.1h14.7v14.7h-14.7zM369.9 668.8h14.7v14.7h-14.7zM398.6 711.8h14.7v14.7h-14.7zM627.8 726.1h14.7v14.7h-14.7zM398.6 783.4h14.7v14.7h-14.7zM455.9 797.7h14.7v14.7h-14.7z"/><path fill="rgb(127,127,127)" d="M713.8 138.6h14.7v14.7h-14.7zM599.2 181.6h14.7v14.7h-14.7zM642.1 267.6h14.7v14.7h-14.7zM513.2 281.9h14.7v14.7h-14.7zM369.9 310.6h14.7v14.7h-14.7zM599.2 410.9h14.7v14.7h-14.7zM613.5 496.8h14.7v14.7h-14.7zM685.1 597.1h14.7v14.7h-14.7zM384.2 683.1h14.7v14.7h-14.7zM398.6 726.1h14.7v14.7h-14.7zM498.9 726.1h14.7v14.7h-14.7zM412.9 797.7h14.7v14.7h-14.7z"/><path fill="rgb(128,128,128)" d="M713.8 153.0h14.7v14.7h-14.7zM584.8 181.6h14.7v14.7h-14.7zM642.1 238.9h14.7v14.7h-14.7zM498.9 310.6h14.7v14.7h-14.7zM341.2 324.9h14.7v14.7h-14.7zM412.9 496.8h14.7v14.7h-14.7zM398.6 582.8h14.7v14.7h-14.7zM369.9 654.5h14.7v14.7h-14.7zM570.5 726.1h14.7v14.7h-14.7zM484.5 754.8h14.7v14.7h-14.7z"/><path fill="rgb(129,129,129)" d="M355.6 339.2h14.7v14.7h-14.7zM470.2 425.2h14.7v14.7h-14.7zM670.8 611.5h14.7v14.7h-14.7zM656.5 654.5h14.7v14.7h-14.7zM398.6 697.4h14.7v14.7h-14.7zM642.1 697.4h14.7v14.7h-14.7zM527.5 711.8h14.7v14.7h-14.7zM470.2 783.4h14.7v14.7h-14.7z"/><path fill="rgb(130,130,130)" d="M556.2 196.0h14.7v14.7h-14.7zM541.8 210.3h14.7v14.7h-14.7zM627.8 210.3h14.7v14.7h-14.7zM642.1 253.3h14.7v14.7h-14.7zM599.2 324.9h14.7v14.7h-14.7zM599.2 425.2h14.7v14.7h-14.7zM642.1 525.5h14.7v14.7h-14.7zM685.1 554.2h14.7v14.7h-14.7zM685.1 582.8h14.7v14.7h-14.7zM384.2 625.8h14.7v14.7h-14.7zM398.6 740.4h14.7v14.7h-14.7z"/><path fill="rgb(131,131,131)" d="M584.8 367.9h14.7v14.7h-14.7zM584.8 382.2h14.7v14.7h-14.7zM599.2 439.5h14.7v14.7h-14.7zM599.2 453.9h14.7v14.7h-14.7zM670.8 539.8h14.7v14.7h-14.7zM398.6 597.1h14.7v14.7h-14.7zM656.5 640.1h14.7v14.7h-14.7zM513.2 711.8h14.7v14.7h-14.7zM541.8 711.8h14.7v14.7h-14.7zM398.6 769.1h14.7v14.7h-14.7zM427.2 797.7h14.7v14.7h-14.7zM441.5 797.7h14.7v14.7h-14.7z"/><path fill="rgb(132,132,132)" d="M355.6 310.6h14.7v14.7h-14.7zM484.5 339.2h14.7v14.7h-14.7zM599.2 468.2h14.7v14.7h-14.7zM613.5 511.2h14.7v14.7h-14.7zM685.1 568.5h14.7v14.7h-14.7zM670.8 597.1h14.7v14.7h-14.7zM484.5 740.4h14.7v14.7h-14.7zM398.6 754.8h14.7v14.7h-14.7z"/><path fill="rgb(133,133,133)" d="M613.5 196.0h14.7v14.7h-14.7zM627.8 281.9h14.7v14.7h-14.7zM369.9 324.9h14.7v14.7h-14.7zM584.8 353.6h14.7v14.7h-14.7zM584.8 396.5h14.7v14.7h-14.7zM427.2 482.5h14.7v14.7h-14.7zM599.2 482.5h14.7v14.7h-14.7zM412.9 511.2h14.7v14.7h-14.7zM627.8 525.5h14.7v14.7h-14.7zM656.5 625.8h14.7v14.7h-14.7zM384.2 668.8h14.7v14.7h-14.7z"/><path fill="rgb(134,134,134)" d="M527.5 238.9h14.7v14.7h-14.7zM513.2 296.2h14.7v14.7h-14.7zM541.8 382.2h14.7v14.7h-14.7zM556.2 382.2h14.7v14.7h-14.7zM599.2 496.8h14.7v14.7h-14.7zM656.5 539.8h14.7v14.7h-14.7zM642.1 683.1h14.7v14.7h-14.7zM613.5 726.1h14.7v14.7h-14.7z"/><path fill="rgb(135,135,135)" d="M613.5 296.2h14.7v14.7h-14.7zM484.5 353.6h14.7v14.7h-14.7zM484.5 367.9h14.7v14.7h-14.7zM484.5 382.2h14.7v14.7h-14.7zM570.5 382.2h14.7v14.7h-14.7zM484.5 396.5h14.7v14.7h-14.7zM470.2 439.5h14.7v14.7h-14.7zM455.9 453.9h14.7v14.7h-14.7zM441.5 468.2h14.7v14.7h-14.7zM670.8 554.2h14.7v14.7h-14.7zM670.8 582.8h14.7v14.7h-14.7zM656.5 611.5h14.7v14.7h-14.7zM384.2 640.1h14.7v14.7h-14.7zM398.6 683.1h14.7v14.7h-14.7zM584.8 726.1h14.7v14.7h-14.7z"/><path fill="rgb(136,136,136)" d="M599.2 310.6h14.7v14.7h-14.7zM584.8 339.2h14.7v14.7h-14.7zM484.5 410.9h14.7v14.7h-14.7zM584.8 410.9h14.7v14.7h-14.7zM599.2 511.2h14.7v14.7h-14.7zM398.6 611.5h14.7v14.7h-14.7zM412.9 711.8h14.7v14.7h-14.7zM498.9 711.8h14.7v14.7h-14.7zM627.8 711.8h14.7v14.7h-14.7zM484.5 726.1h14.7v14.7h-14.7z"/><path fill="rgb(137,137,137)" d="M355.6 324.9h14.7v14.7h-14.7zM498.9 324.9h14.7v14.7h-14.7zM570.5 367.9h14.7v14.7h-14.7zM412.9 525.5h14.7v14.7h-14.7zM613.5 525.5h14.7v14.7h-14.7zM642.1 539.8h14.7v14.7h-14.7zM670.8 568.5h14.7v14.7h-14.7zM656.5 597.1h14.7v14.7h-14.7zM384.2 654.5h14.7v14.7h-14.7zM642.1 668.8h14.7v14.7h-14.7zM556.2 711.8h14.7v14.7h-14.7zM599.2 726.1h14.7v14.7h-14.7zM412.9 783.4h14.7v14.7h-14.7z"/><path fill="rgb(138,138,138)" d="M556.2 367.9h14.7v14.7h-14.7zM570.5 396.5h14.7v14.7h-14.7zM484.5 425.2h14.7v14.7h-14.7zM412.9 697.4h14.7v14.7h-14.7zM412.9 726.1h14.7v14.7h-14.7zM470.2 769.1h14.7v14.7h-14.7zM455.9 783.4h14.7v14.7h-14.7z"/><path fill="rgb(139,139,139)" d="M570.5 196.0h14.7v14.7h-14.7zM627.8 224.6h14.7v14.7h-14.7zM584.8 324.9h14.7v14.7h-14.7zM541.8 367.9h14.7v14.7h-14.7zM541.8 396.5h14.7v14.7h-14.7zM556.2 396.5h14.7v14.7h-14.7zM584.8 425.2h14.7v14.7h-14.7zM584.8 525.5h14.7v14.7h-14.7zM599.2 525.5h14.7v14.7h-14.7zM412.9 539.8h14.7v14.7h-14.7zM656.5 554.2h14.7v14.7h-14.7zM656.5 582.8h14.7v14.7h-14.7zM642.1 654.5h14.7v14.7h-14.7z"/><path fill="rgb(140,140,140)" d="M527.5 382.2h14.7v14.7h-14.7zM584.8 439.5h14.7v14.7h-14.7zM584.8 453.9h14.7v14.7h-14.7zM584.8 511.2h14.7v14.7h-14.7zM627.8 539.8h14.7v14.7h-14.7zM656.5 568.5h14.7v14.7h-14.7zM642.1 625.8h14.7v14.7h-14.7zM642.1 640.1h14.7v14.7h-14.7z"/><path fill="rgb(141,141,141)" d="M541.8 224.6h14.7v14.7h-14.7zM527.5 253.3h14.7v14.7h-14.7zM513.2 310.6h14.7v14.7h-14.7zM570.5 353.6h14.7v14.7h-14.7zM584.8 468.2h14.7v14.7h-14.7zM427.2 496.8h14.7v14.7h-14.7zM570.5 525.5h14.7v14.7h-14.7zM613.5 539.8h14.7v14.7h-14.7zM412.9 554.2h14.7v14.7h-14.7zM412.9 568.5h14.7v14.7h-14.7zM642.1 611.5h14.7v14.7h-14.7z"/><path fill="rgb(142,142,142)" d="M599.2 196.0h14.7v14.7h-14.7zM556.2 210.3h14.7v14.7h-14.7zM627.8 267.6h14.7v14.7h-14.7zM498.9 339.2h14.7v14.7h-14.7zM570.5 410.9h14.7v14.7h-14.7zM584.8 482.5h14.7v14.7h-14.7zM584.8 496.8h14.7v14.7h-14.7zM584.8 539.8h14.7v14.7h-14.7zM599.2 539.8h14.7v14.7h-14.7zM642.1 554.2h14.7v14.7h-14.7zM642.1 597.1h14.7v14.7h-14.7zM398.6 625.8h14.7v14.7h-14.7zM398.6 668.8h14.7v14.7h-14.7zM527.5 697.4h14.7v14.7h-14.7zM484.5 711.8h14.7v14.7h-14.7zM412.9 740.4h14.7v14.7h-14.7zM470.2 754.8h14.7v14.7h-14.7z"/><path fill="rgb(143,143,143)" d="M498.9 382.2h14.7v14.7h-14.7zM498.9 396.5h14.7v14.7h-14.7zM527.5 396.5h14.7v14.7h-14.7zM484.5 439.5h14.7v14.7h-14.7zM570.5 539.8h14.7v14.7h-14.7zM412.9 582.8h14.7v14.7h-14.7zM642.1 582.8h14.7v14.7h-14.7zM513.2 697.4h14.7v14.7h-14.7zM627.8 697.4h14.7v14.7h-14.7zM470.2 740.4h14.7v14.7h-14.7zM427.2 783.4h14.7v14.7h-14.7zM441.5 783.4h14.7v14.7h-14.7z"/><path fill="rgb(144,144,144)" d="M584.8 196.0h14.7v14.7h-14.7zM627.8 238.9h14.7v14.7h-14.7zM570.5 339.2h14.7v14.7h-14.7zM498.9 353.6h14.7v14.7h-14.7zM498.9 367.9h14.7v14.7h-14.7zM527.5 367.9h14.7v14.7h-14.7zM498.9 410.9h14.7v14.7h-14.7zM470.2 453.9h14.7v14.7h-14.7zM627.8 554.2h14.7v14.7h-14.7zM642.1 568.5h14.7v14.7h-14.7zM412.9 683.1h14.7v14.7h-14.7zM427.2 711.8h14.7v14.7h-14.7zM470.2 726.1h14.7v14.7h-14.7zM412.9 769.1h14.7v14.7h-14.7z"/><path fill="rgb(145,145,145)" d="M613.5 210.3h14.7v14.7h-14.7zM527.5 267.6h14.7v14.7h-14.7zM584.8 310.6h14.7v14.7h-14.7zM513.2 382.2h14.7v14.7h-14.7zM556.2 410.9h14.7v14.7h-14.7zM498.9 425.2h14.7v14.7h-14.7zM570.5 425.2h14.7v14.7h-14.7zM441.5 482.5h14.7v14.7h-14.7zM570.5 511.2h14.7v14.7h-14.7zM427.2 697.4h14.7v14.7h-14.7zM570.5 711.8h14.7v14.7h-14.7zM412.9 754.8h14.7v14.7h-14.7z"/><path fill="rgb(146,146,146)" d="M627.8 253.3h14.7v14.7h-14.7zM527.5 281.9h14.7v14.7h-14.7zM613.5 281.9h14.7v14.7h-14.7zM599.2 296.2h14.7v14.7h-14.7zM556.2 353.6h14.7v14.7h-14.7zM513.2 396.5h14.7v14.7h-14.7zM455.9 468.2h14.7v14.7h-14.7zM427.2 511.2h14.7v14.7h-14.7zM613.5 554.2h14.7v14.7h-14.7zM627.8 568.5h14.7v14.7h-14.7zM412.9 597.1h14.7v14.7h-14.7zM398.6 640.1h14.7v14.7h-14.7zM398.6 654.5h14.7v14.7h-14.7zM498.9 697.4h14.7v14.7h-14.7zM541.8 697.4h14.7v14.7h-14.7zM613.5 711.8h14.7v14.7h-14.7zM427.2 726.1h14.7v14.7h-14.7z"/><path fill="rgb(147,147,147)" d="M513.2 324.9h14.7v14.7h-14.7zM570.5 324.9h14.7v14.7h-14.7zM513.2 367.9h14.7v14.7h-14.7zM541.8 410.9h14.7v14.7h-14.7zM570.5 439.5h14.7v14.7h-14.7zM599.2 554.2h14.7v14.7h-14.7zM627.8 582.8h14.7v14.7h-14.7zM627.8 597.1h14.7v14.7h-14.7zM627.8 683.1h14.7v14.7h-14.7zM470.2 711.8h14.7v14.7h-14.7zM455.9 769.1h14.7v14.7h-14.7z"/><path fill="rgb(148,148,148)" d="M513.2 410.9h14.7v14.7h-14.7zM570.5 453.9h14.7v14.7h-14.7zM556.2 525.5h14.7v14.7h-14.7zM584.8 554.2h14.7v14.7h-14.7zM627.8 611.5h14.7v14.7h-14.7zM441.5 711.8h14.7v14.7h-14.7zM455.9 711.8h14.7v14.7h-14.7zM455.9 726.1h14.7v14.7h-14.7z"/><path fill="rgb(149,149,149)" d="M527.5 296.2h14.7v14.7h-14.7zM541.8 353.6h14.7v14.7h-14.7zM527.5 410.9h14.7v14.7h-14.7zM556.2 425.2h14.7v14.7h-14.7zM498.9 439.5h14.7v14.7h-14.7zM613.5 568.5h14.7v14.7h-14.7zM627.8 625.8h14.7v14.7h-14.7zM441.5 726.1h14.7v14.7h-14.7z"/><path fill="rgb(150,150,150)" d="M513.2 353.6h14.7v14.7h-14.7zM513.2 425.2h14.7v14.7h-14.7zM570.5 468.2h14.7v14.7h-14.7zM570.5 496.8h14.7v14.7h-14.7zM427.2 525.5h14.7v14.7h-14.7zM556.2 539.8h14.7v14.7h-14.7zM570.5 554.2h14.7v14.7h-14.7zM412.9 611.5h14.7v14.7h-14.7zM627.8 640.1h14.7v14.7h-14.7zM627.8 668.8h14.7v14.7h-14.7zM441.5 697.4h14.7v14.7h-14.7zM484.5 697.4h14.7v14.7h-14.7zM455.9 740.4h14.7v14.7h-14.7z"/><path fill="rgb(151,151,151)" d="M541.8 238.9h14.7v14.7h-14.7zM570.5 310.6h14.7v14.7h-14.7zM513.2 339.2h14.7v14.7h-14.7zM556.2 339.2h14.7v14.7h-14.7zM527.5 353.6h14.7v14.7h-14.7zM484.5 453.9h14.7v14.7h-14.7zM599.2 568.5h14.7v14.7h-14.7zM613.5 582.8h14.7v14.7h-14.7zM627.8 654.5h14.7v14.7h-14.7zM412.9 668.8h14.7v14.7h-14.7zM427.2 683.1h14.7v14.7h-14.7zM584.8 711.8h14.7v14.7h-14.7zM427.2 740.4h14.7v14.7h-14.7zM455.9 754.8h14.7v14.7h-14.7zM427.2 769.1h14.7v14.7h-14.7z"/><path fill="rgb(152,152,152)" d="M527.5 310.6h14.7v14.7h-14.7zM527.5 425.2h14.7v14.7h-14.7zM541.8 425.2h14.7v14.7h-14.7zM556.2 439.5h14.7v14.7h-14.7zM570.5 482.5h14.7v14.7h-14.7zM427.2 539.8h14.7v14.7h-14.7zM613.5 597.1h14.7v14.7h-14.7zM455.9 697.4h14.7v14.7h-14.7zM470.2 697.4h14.7v14.7h-14.7zM556.2 697.4h14.7v14.7h-14.7zM599.2 711.8h14.7v14.7h-14.7zM441.5 769.1h14.7v14.7h-14.7z"/><path fill="rgb(153,153,153)" d="M570.5 210.3h14.7v14.7h-14.7zM584.8 296.2h14.7v14.7h-14.7zM556.2 324.9h14.7v14.7h-14.7zM441.5 496.8h14.7v14.7h-14.7zM427.2 554.2h14.7v14.7h-14.7zM584.8 568.5h14.7v14.7h-14.7zM513.2 683.1h14.7v14.7h-14.7zM527.5 683.1h14.7v14.7h-14.7zM441.5 740.4h14.7v14.7h-14.7zM427.2 754.8h14.7v14.7h-14.7z"/><path fill="rgb(154,154,154)" d="M556.2 224.6h14.7v14.7h-14.7zM527.5 324.9h14.7v14.7h-14.7zM513.2 439.5h14.7v14.7h-14.7zM556.2 511.2h14.7v14.7h-14.7zM427.2 568.5h14.7v14.7h-14.7zM599.2 582.8h14.7v14.7h-14.7zM613.5 611.5h14.7v14.7h-14.7zM412.9 625.8h14.7v14.7h-14.7z"/><path fill="rgb(155,155,155)" d="M613.5 224.6h14.7v14.7h-14.7zM527.5 339.2h14.7v14.7h-14.7zM541.8 339.2h14.7v14.7h-14.7zM541.8 439.5h14.7v14.7h-14.7zM556.2 453.9h14.7v14.7h-14.7zM470.2 468.2h14.7v14.7h-14.7zM412.9 654.5h14.7v14.7h-14.7zM498.9 683.1h14.7v14.7h-14.7zM613.5 697.4h14.7v14.7h-14.7zM441.5 754.8h14.7v14.7h-14.7z"/><path fill="rgb(156,156,156)" d="M599.2 210.3h14.7v14.7h-14.7zM613.5 267.6h14.7v14.7h-14.7zM541.8 310.6h14.7v14.7h-14.7zM556.2 310.6h14.7v14.7h-14.7zM541.8 324.9h14.7v14.7h-14.7zM527.5 439.5h14.7v14.7h-14.7zM498.9 453.9h14.7v14.7h-14.7zM455.9 482.5h14.7v14.7h-14.7zM556.2 554.2h14.7v14.7h-14.7zM570.5 568.5h14.7v14.7h-14.7zM599.2 597.1h14.7v14.7h-14.7zM441.5 683.1h14.7v14.7h-14.7z"/><path fill="rgb(157,157,157)" d="M599.2 281.9h14.7v14.7h-14.7zM541.8 296.2h14.7v14.7h-14.7zM427.2 582.8h14.7v14.7h-14.7zM584.8 582.8h14.7v14.7h-14.7zM613.5 625.8h14.7v14.7h-14.7zM412.9 640.1h14.7v14.7h-14.7zM541.8 683.1h14.7v14.7h-14.7z"/><path fill="rgb(158,158,158)" d="M541.8 253.3h14.7v14.7h-14.7zM570.5 296.2h14.7v14.7h-14.7zM441.5 511.2h14.7v14.7h-14.7zM427.2 668.8h14.7v14.7h-14.7zM484.5 683.1h14.7v14.7h-14.7z"/><path fill="rgb(159,159,159)" d="M584.8 210.3h14.7v14.7h-14.7zM541.8 281.9h14.7v14.7h-14.7zM556.2 296.2h14.7v14.7h-14.7zM556.2 468.2h14.7v14.7h-14.7zM613.5 640.1h14.7v14.7h-14.7zM455.9 683.1h14.7v14.7h-14.7zM570.5 697.4h14.7v14.7h-14.7z"/><path fill="rgb(160,160,160)" d="M541.8 267.6h14.7v14.7h-14.7zM513.2 453.9h14.7v14.7h-14.7zM541.8 453.9h14.7v14.7h-14.7zM556.2 496.8h14.7v14.7h-14.7zM570.5 582.8h14.7v14.7h-14.7zM427.2 597.1h14.7v14.7h-14.7zM584.8 597.1h14.7v14.7h-14.7zM599.2 611.5h14.7v14.7h-14.7zM470.2 683.1h14.7v14.7h-14.7zM613.5 683.1h14.7v14.7h-14.7z"/><path fill="rgb(161,161,161)" d="M613.5 238.9h14.7v14.7h-14.7zM484.5 468.2h14.7v14.7h-14.7zM441.5 525.5h14.7v14.7h-14.7zM556.2 568.5h14.7v14.7h-14.7zM613.5 654.5h14.7v14.7h-14.7z"/><path fill="rgb(162,162,162)" d="M613.5 253.3h14.7v14.7h-14.7zM527.5 453.9h14.7v14.7h-14.7zM556.2 482.5h14.7v14.7h-14.7zM541.8 525.5h14.7v14.7h-14.7zM441.5 539.8h14.7v14.7h-14.7zM541.8 539.8h14.7v14.7h-14.7zM441.5 554.2h14.7v14.7h-14.7zM570.5 597.1h14.7v14.7h-14.7zM513.2 668.8h14.7v14.7h-14.7zM527.5 668.8h14.7v14.7h-14.7zM613.5 668.8h14.7v14.7h-14.7zM599.2 697.4h14.7v14.7h-14.7z"/><path fill="rgb(163,163,163)" d="M584.8 611.5h14.7v14.7h-14.7zM599.2 625.8h14.7v14.7h-14.7zM556.2 683.1h14.7v14.7h-14.7zM584.8 697.4h14.7v14.7h-14.7z"/><path fill="rgb(164,164,164)" d="M556.2 238.9h14.7v14.7h-14.7zM584.8 281.9h14.7v14.7h-14.7zM455.9 496.8h14.7v14.7h-14.7zM441.5 568.5h14.7v14.7h-14.7zM556.2 582.8h14.7v14.7h-14.7zM427.2 611.5h14.7v14.7h-14.7zM427.2 654.5h14.7v14.7h-14.7zM441.5 668.8h14.7v14.7h-14.7z"/><path fill="rgb(165,165,165)" d="M570.5 224.6h14.7v14.7h-14.7zM556.2 281.9h14.7v14.7h-14.7zM470.2 482.5h14.7v14.7h-14.7zM541.8 554.2h14.7v14.7h-14.7zM556.2 597.1h14.7v14.7h-14.7zM570.5 611.5h14.7v14.7h-14.7zM498.9 668.8h14.7v14.7h-14.7zM541.8 668.8h14.7v14.7h-14.7z"/><path fill="rgb(166,166,166)" d="M570.5 281.9h14.7v14.7h-14.7zM498.9 468.2h14.7v14.7h-14.7zM541.8 468.2h14.7v14.7h-14.7z"/><path fill="rgb(167,167,167)" d="M599.2 224.6h14.7v14.7h-14.7zM541.8 511.2h14.7v14.7h-14.7zM541.8 568.5h14.7v14.7h-14.7zM556.2 611.5h14.7v14.7h-14.7zM427.2 625.8h14.7v14.7h-14.7zM427.2 640.1h14.7v14.7h-14.7zM527.5 654.5h14.7v14.7h-14.7z"/><path fill="rgb(168,168,168)" d="M599.2 267.6h14.7v14.7h-14.7zM441.5 582.8h14.7v14.7h-14.7zM541.8 582.8h14.7v14.7h-14.7zM541.8 597.1h14.7v14.7h-14.7zM584.8 625.8h14.7v14.7h-14.7zM599.2 640.1h14.7v14.7h-14.7zM455.9 668.8h14.7v14.7h-14.7zM484.5 668.8h14.7v14.7h-14.7zM599.2 683.1h14.7v14.7h-14.7z"/><path fill="rgb(169,169,169)" d="M556.2 253.3h14.7v14.7h-14.7zM556.2 267.6h14.7v14.7h-14.7zM513.2 468.2h14.7v14.7h-14.7zM527.5 468.2h14.7v14.7h-14.7zM455.9 511.2h14.7v14.7h-14.7zM541.8 611.5h14.7v14.7h-14.7zM556.2 625.8h14.7v14.7h-14.7zM570.5 625.8h14.7v14.7h-14.7zM513.2 654.5h14.7v14.7h-14.7zM541.8 654.5h14.7v14.7h-14.7zM570.5 683.1h14.7v14.7h-14.7z"/><path fill="rgb(170,170,170)" d="M584.8 224.6h14.7v14.7h-14.7zM455.9 525.5h14.7v14.7h-14.7zM455.9 539.8h14.7v14.7h-14.7zM455.9 554.2h14.7v14.7h-14.7zM541.8 625.8h14.7v14.7h-14.7zM541.8 640.1h14.7v14.7h-14.7zM470.2 668.8h14.7v14.7h-14.7z"/><path fill="rgb(171,171,171)" d="M541.8 482.5h14.7v14.7h-14.7zM541.8 496.8h14.7v14.7h-14.7zM527.5 640.1h14.7v14.7h-14.7zM441.5 654.5h14.7v14.7h-14.7zM599.2 654.5h14.7v14.7h-14.7zM556.2 668.8h14.7v14.7h-14.7zM599.2 668.8h14.7v14.7h-14.7zM584.8 683.1h14.7v14.7h-14.7z"/><path fill="rgb(172,172,172)" d="M484.5 482.5h14.7v14.7h-14.7zM455.9 568.5h14.7v14.7h-14.7zM556.2 640.1h14.7v14.7h-14.7z"/><path fill="rgb(173,173,173)" d="M570.5 238.9h14.7v14.7h-14.7zM599.2 238.9h14.7v14.7h-14.7zM527.5 539.8h14.7v14.7h-14.7zM527.5 554.2h14.7v14.7h-14.7zM527.5 568.5h14.7v14.7h-14.7zM527.5 582.8h14.7v14.7h-14.7zM441.5 597.1h14.7v14.7h-14.7zM527.5 597.1h14.7v14.7h-14.7zM527.5 611.5h14.7v14.7h-14.7zM527.5 625.8h14.7v14.7h-14.7zM584.8 640.1h14.7v14.7h-14.7zM556.2 654.5h14.7v14.7h-14.7z"/><path fill="rgb(174,174,174)" d="M599.2 253.3h14.7v14.7h-14.7zM570.5 267.6h14.7v14.7h-14.7zM584.8 267.6h14.7v14.7h-14.7zM470.2 496.8h14.7v14.7h-14.7zM570.5 640.1h14.7v14.7h-14.7zM498.9 654.5h14.7v14.7h-14.7z"/><path fill="rgb(175,175,175)" d="M498.9 482.5h14.7v14.7h-14.7zM527.5 525.5h14.7v14.7h-14.7zM470.2 539.8h14.7v14.7h-14.7zM470.2 554.2h14.7v14.7h-14.7zM513.2 640.1h14.7v14.7h-14.7zM570.5 668.8h14.7v14.7h-14.7z"/><path fill="rgb(176,176,176)" d="M527.5 482.5h14.7v14.7h-14.7zM513.2 554.2h14.7v14.7h-14.7zM570.5 654.5h14.7v14.7h-14.7zM584.8 654.5h14.7v14.7h-14.7zM584.8 668.8h14.7v14.7h-14.7z"/><path fill="rgb(177,177,177)" d="M584.8 238.9h14.7v14.7h-14.7zM570.5 253.3h14.7v14.7h-14.7zM513.2 482.5h14.7v14.7h-14.7zM470.2 511.2h14.7v14.7h-14.7zM470.2 525.5h14.7v14.7h-14.7zM484.5 554.2h14.7v14.7h-14.7zM513.2 568.5h14.7v14.7h-14.7zM441.5 611.5h14.7v14.7h-14.7zM441.5 640.1h14.7v14.7h-14.7z"/><path fill="rgb(178,178,178)" d="M527.5 511.2h14.7v14.7h-14.7zM484.5 539.8h14.7v14.7h-14.7zM513.2 539.8h14.7v14.7h-14.7zM498.9 554.2h14.7v14.7h-14.7zM470.2 568.5h14.7v14.7h-14.7zM455.9 582.8h14.7v14.7h-14.7zM513.2 582.8h14.7v14.7h-14.7zM455.9 654.5h14.7v14.7h-14.7z"/><path fill="rgb(179,179,179)" d="M584.8 253.3h14.7v14.7h-14.7zM484.5 496.8h14.7v14.7h-14.7zM527.5 496.8h14.7v14.7h-14.7zM498.9 539.8h14.7v14.7h-14.7zM498.9 568.5h14.7v14.7h-14.7zM441.5 625.8h14.7v14.7h-14.7zM513.2 625.8h14.7v14.7h-14.7zM484.5 654.5h14.7v14.7h-14.7z"/><path fill="rgb(180,180,180)" d="M513.2 525.5h14.7v14.7h-14.7zM484.5 568.5h14.7v14.7h-14.7zM513.2 597.1h14.7v14.7h-14.7zM470.2 654.5h14.7v14.7h-14.7z"/><path fill="rgb(181,181,181)" d="M484.5 525.5h14.7v14.7h-14.7zM513.2 611.5h14.7v14.7h-14.7z"/><path fill="rgb(182,182,182)" d="M498.9 496.8h14.7v14.7h-14.7zM513.2 496.8h14.7v14.7h-14.7zM484.5 511.2h14.7v14.7h-14.7zM498.9 525.5h14.7v14.7h-14.7zM498.9 640.1h14.7v14.7h-14.7z"/><path fill="rgb(183,183,183)" d="M513.2 511.2h14.7v14.7h-14.7zM498.9 582.8h14.7v14.7h-14.7z"/><path fill="rgb(184,184,184)" d="M498.9 511.2h14.7v14.7h-14.7zM470.2 582.8h14.7v14.7h-14.7zM455.9 597.1h14.7v14.7h-14.7z"/><path fill="rgb(185,185,185)" d="M455.9 640.1h14.7v14.7h-14.7z"/><path fill="rgb(186,186,186)" d="M484.5 582.8h14.7v14.7h-14.7z"/><path fill="rgb(187,187,187)" d="M498.9 597.1h14.7v14.7h-14.7zM498.9 625.8h14.7v14.7h-14.7z"/><path fill="rgb(188,188,188)" d="M484.5 640.1h14.7v14.7h-14.7z"/><path fill="rgb(189,189,189)" d="M455.9 611.5h14.7v14.7h-14.7zM498.9 611.5h14.7v14.7h-14.7zM455.9 625.8h14.7v14.7h-14.7zM470.2 640.1h14.7v14.7h-14.7z"/><path fill="rgb(191,191,191)" d="M470.2 597.1h14.7v14.7h-14.7z"/><path fill="rgb(192,192,192)" d="M484.5 597.1h14.7v14.7h-14.7z"/><path fill="rgb(194,194,194)" d="M484.5 625.8h14.7v14.7h-14.7z"/><path fill="rgb(195,195,195)" d="M484.5 611.5h14.7v14.7h-14.7zM470.2 625.8h14.7v14.7h-14.7z"/><path fill="rgb(196,196,196)" d="M470.2 611.5h14.7v14.7h-14.7z"/></g></g><rect x="110" y="66" width="921" height="920" fill="none" stroke="#000" stroke-width="2.2"/><rect x="1056.3" y="60" width="45.5" height="933" fill="url(#cb)"/><rect x="1056.3" y="60" width="45.5" height="933" fill="none" stroke="#000" stroke-width="2.2"/><path d="M155.0 986v9.5M352.8 986v9.5M550.5 986v9.5M748.2 986v9.5M946.0 986v9.5M110 150.0h-9.5M110 347.8h-9.5M110 546.1h-9.5M110 743.6h-9.5M110 941.2h-9.5M1102 85.7h9.5M1102 234.8h9.5M1102 383.5h9.5M1102 532.0h9.5M1102 680.7h9.5M1102 828.8h9.5M1102 977.8h9.5" stroke="#000" stroke-width="2.2" fill="none"/><text x="273.0" y="49.9" font-size="42" text-anchor="start" textLength="594.2" lengthAdjust="spacingAndGlyphs" >706708 | AG305.5489+0.0042</text><text x="136.8" y="114.9" font-size="38" text-anchor="start" textLength="138.0" lengthAdjust="spacingAndGlyphs" >Ndet=0</text><text x="20.4" y="161.8" font-size="30" text-anchor="start" textLength="69.6" lengthAdjust="spacingAndGlyphs" >1000</text><text x="39.0" y="359.6" font-size="30" text-anchor="start" textLength="52.0" lengthAdjust="spacingAndGlyphs" >800</text><text x="39.0" y="557.9" font-size="30" text-anchor="start" textLength="52.0" lengthAdjust="spacingAndGlyphs" >600</text><text x="39.0" y="755.4" font-size="30" text-anchor="start" textLength="52.0" lengthAdjust="spacingAndGlyphs" >400</text><text x="39.0" y="953.0" font-size="30" text-anchor="start" textLength="52.0" lengthAdjust="spacingAndGlyphs" >200</text><text x="128.8" y="1028.8" font-size="30" text-anchor="start" textLength="52.8" lengthAdjust="spacingAndGlyphs" >200</text><text x="326.6" y="1028.8" font-size="30" text-anchor="start" textLength="52.8" lengthAdjust="spacingAndGlyphs" >400</text><text x="524.3" y="1028.8" font-size="30" text-anchor="start" textLength="52.8" lengthAdjust="spacingAndGlyphs" >600</text><text x="722.0" y="1028.8" font-size="30" text-anchor="start" textLength="52.8" lengthAdjust="spacingAndGlyphs" >800</text><text x="911.0" y="1028.8" font-size="30" text-anchor="start" textLength="69.6" lengthAdjust="spacingAndGlyphs" >1000</text><text x="1123.6" y="95.6" font-size="25.4" text-anchor="start" textLength="69.8" lengthAdjust="spacingAndGlyphs" >3e-04</text><text x="1123.6" y="244.9" font-size="25.4" text-anchor="start" textLength="69.8" lengthAdjust="spacingAndGlyphs" >2e-04</text><text x="1123.6" y="393.6" font-size="25.4" text-anchor="start" textLength="69.8" lengthAdjust="spacingAndGlyphs" >2e-04</text><text x="1123.6" y="541.8" font-size="25.4" text-anchor="start" textLength="69.8" lengthAdjust="spacingAndGlyphs" >1e-04</text><text x="1123.6" y="690.3" font-size="25.4" text-anchor="start" textLength="69.8" lengthAdjust="spacingAndGlyphs" >5e-05</text><text x="1122.0" y="839.8" font-size="25.4" text-anchor="start" textLength="82.2" lengthAdjust="spacingAndGlyphs" >0e+00</text><text x="1122.0" y="988.7" font-size="25.4" text-anchor="start" textLength="79.8" lengthAdjust="spacingAndGlyphs" >-5e-05</text><text transform="translate(1246.3 0) rotate(-90)" x="-644.0" y="0" font-size="42" textLength="233.4" lengthAdjust="spacingAndGlyphs">Flux (Jy/bm)</text><text x="397.4" y="1116.2" font-size="38.5" text-anchor="start" textLength="341.6" lengthAdjust="spacingAndGlyphs" >Distance (kpc): 6.4</text><text x="398.6" y="1158.2" font-size="38.5" text-anchor="start" textLength="114.0" lengthAdjust="spacingAndGlyphs" >Mass (</text><text x="514.4" y="1158.2" font-size="38.5" text-anchor="start" textLength="30.6" lengthAdjust="spacingAndGlyphs" font-style="italic">M</text><text x="572.0" y="1158.2" font-size="38.5" text-anchor="start" textLength="136.8" lengthAdjust="spacingAndGlyphs" >): 804.4</text><text x="398.6" y="1200.3" font-size="38.5" text-anchor="start" textLength="108.6" lengthAdjust="spacingAndGlyphs" >L / M (</text><text x="510.2" y="1200.3" font-size="38.5" text-anchor="start" textLength="21.0" lengthAdjust="spacingAndGlyphs" font-style="italic">L</text><text x="555.2" y="1200.3" font-size="38.5" text-anchor="start" textLength="41.6" lengthAdjust="spacingAndGlyphs" font-style="italic">/M</text><text x="623.8" y="1200.3" font-size="38.5" text-anchor="start" textLength="136.4" lengthAdjust="spacingAndGlyphs" >): 18.04</text><text x="399.6" y="1241.2" font-size="38.5" text-anchor="start" textLength="556.2" lengthAdjust="spacingAndGlyphs" >Surface density (g cm^-2): 0.6</text><circle cx="557.7" cy="1154.7" r="8.6" fill="none" stroke="#000" stroke-width="1.3"/><circle cx="557.7" cy="1154.7" r="2.4" fill="#000"/><circle cx="542.3" cy="1196.6" r="8.6" fill="none" stroke="#000" stroke-width="1.3"/><circle cx="542.3" cy="1196.6" r="2.4" fill="#000"/><circle cx="609.3" cy="1196.6" r="8.6" fill="none" stroke="#000" stroke-width="1.3"/><circle cx="609.3" cy="1196.6" r="2.4" fill="#000"/></svg></body></html>
